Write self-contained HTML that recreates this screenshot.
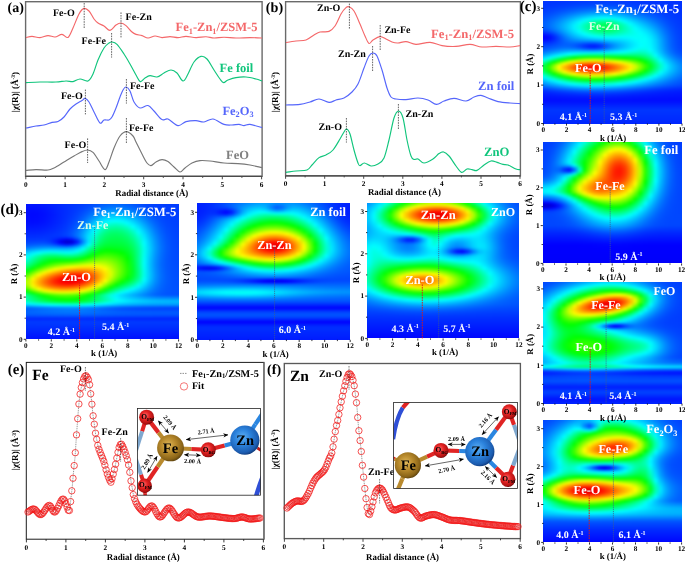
<!DOCTYPE html>
<html><head><meta charset="utf-8"><title>figure</title>
<style>
html,body{margin:0;padding:0;background:#fff}
#w{position:relative;width:685px;height:564px;overflow:hidden;background:#fff;font-family:"Liberation Serif",serif}
.hm{position:absolute;overflow:hidden}
.hm>div{position:absolute;filter:blur(0.8px)}
.hm i{display:block;height:2px;width:100%}
svg{position:absolute;left:0;top:0;will-change:transform}
svg text{font-family:"Liberation Serif",serif;text-rendering:geometricPrecision}
</style></head><body>
<div id="w">
<div class="hm" style="left:543px;top:1px;width:139px;height:123px"><div style="left:-4px;top:-4px;width:147px"><i style="background:linear-gradient(90deg,#0032ff,#0032ff,#0033ff,#0034ff,#0034ff,#0035ff,#0036ff,#0037ff,#0038ff,#0039ff,#003aff,#003aff,#003bff,#003bff,#003bff,#003aff,#0039ff,#0038ff,#0037ff,#0036ff,#0035ff,#0034ff,#0034ff,#0033ff,#0032ff,#0032ff,#0031ff,#0031ff,#0031ff,#0031ff)"></i><i style="background:linear-gradient(90deg,#0032ff,#0032ff,#0033ff,#0034ff,#0034ff,#0035ff,#0036ff,#0037ff,#0038ff,#0039ff,#003aff,#003aff,#003bff,#003bff,#003bff,#003aff,#0039ff,#0038ff,#0037ff,#0036ff,#0035ff,#0034ff,#0034ff,#0033ff,#0032ff,#0032ff,#0031ff,#0031ff,#0031ff,#0031ff)"></i><i style="background:linear-gradient(90deg,#0033ff,#0033ff,#0034ff,#0034ff,#0035ff,#0036ff,#0038ff,#0039ff,#003aff,#003bff,#003cff,#003dff,#003dff,#003dff,#003dff,#003cff,#003bff,#003aff,#0039ff,#0038ff,#0036ff,#0035ff,#0034ff,#0033ff,#0033ff,#0032ff,#0032ff,#0031ff,#0031ff,#0031ff)"></i><i style="background:linear-gradient(90deg,#0034ff,#0034ff,#0035ff,#0037ff,#0038ff,#003aff,#003cff,#003eff,#0040ff,#0042ff,#0043ff,#0045ff,#0045ff,#0046ff,#0045ff,#0044ff,#0042ff,#0040ff,#003eff,#003cff,#003aff,#0038ff,#0037ff,#0035ff,#0034ff,#0033ff,#0032ff,#0032ff,#0032ff,#0031ff)"></i><i style="background:linear-gradient(90deg,#0036ff,#0036ff,#0038ff,#003aff,#003dff,#003fff,#0042ff,#0046ff,#0049ff,#004cff,#004eff,#0050ff,#0051ff,#0052ff,#0051ff,#004fff,#004cff,#0049ff,#0046ff,#0042ff,#003fff,#003cff,#003aff,#0038ff,#0036ff,#0034ff,#0033ff,#0032ff,#0032ff,#0032ff)"></i><i style="background:linear-gradient(90deg,#0039ff,#0039ff,#003cff,#003fff,#0042ff,#0047ff,#004bff,#0050ff,#0055ff,#0059ff,#005dff,#0060ff,#0062ff,#0062ff,#0061ff,#005fff,#005bff,#0056ff,#0050ff,#004bff,#0047ff,#0042ff,#003eff,#003bff,#0038ff,#0036ff,#0034ff,#0033ff,#0032ff,#0032ff)"></i><i style="background:linear-gradient(90deg,#003cff,#003dff,#0040ff,#0045ff,#004aff,#0050ff,#0057ff,#005eff,#0065ff,#006bff,#0071ff,#0075ff,#0078ff,#0078ff,#0077ff,#0073ff,#006dff,#0066ff,#005eff,#0057ff,#0050ff,#004aff,#0045ff,#0040ff,#003bff,#0038ff,#0035ff,#0034ff,#0033ff,#0033ff)"></i><i style="background:linear-gradient(90deg,#0040ff,#0041ff,#0046ff,#004cff,#0054ff,#005cff,#0066ff,#006fff,#0079ff,#0082ff,#0089ff,#008fff,#0093ff,#0094ff,#0092ff,#008dff,#0085ff,#007bff,#0070ff,#0066ff,#005dff,#0054ff,#004cff,#0045ff,#003fff,#003bff,#0037ff,#0035ff,#0034ff,#0033ff)"></i><i style="background:linear-gradient(90deg,#0045ff,#0046ff,#004dff,#0055ff,#005fff,#006bff,#0077ff,#0084ff,#0090ff,#009cff,#00a6ff,#00aeff,#00b3ff,#00b5ff,#00b3ff,#00abff,#00a0ff,#0093ff,#0086ff,#0078ff,#006cff,#0060ff,#0056ff,#004dff,#0044ff,#003eff,#0039ff,#0036ff,#0034ff,#0034ff)"></i><i style="background:linear-gradient(90deg,#004bff,#004cff,#0054ff,#005fff,#006cff,#007aff,#008aff,#009bff,#00abff,#00baff,#00c7ff,#00d1ff,#00d7ff,#00daff,#00d7ff,#00cdff,#00c0ff,#00afff,#009eff,#008dff,#007dff,#006fff,#0061ff,#0055ff,#004bff,#0042ff,#003cff,#0037ff,#0035ff,#0035ff)"></i><i style="background:linear-gradient(90deg,#0050ff,#0051ff,#005cff,#006aff,#0079ff,#008bff,#009eff,#00b2ff,#00c6ff,#00d9ff,#00e9ff,#00f5ff,#00fdff,#00fffe,#00fcff,#00f1ff,#00e0ff,#00ccff,#00b7ff,#00a3ff,#0090ff,#007fff,#006eff,#005fff,#0052ff,#0046ff,#003eff,#0039ff,#0036ff,#0036ff)"></i><i style="background:linear-gradient(90deg,#0056ff,#0057ff,#0064ff,#0073ff,#0086ff,#009bff,#00b1ff,#00c9ff,#00e0ff,#00f6ff,#00ffee,#00ffd6,#00ffc7,#00ffc1,#00ffc8,#00ffde,#00fffe,#00e9ff,#00d1ff,#00baff,#00a4ff,#0090ff,#007dff,#006aff,#005aff,#004cff,#0041ff,#003bff,#0037ff,#0036ff)"></i><i style="background:linear-gradient(90deg,#005aff,#005cff,#006aff,#007cff,#0090ff,#00a8ff,#00c2ff,#00dcff,#00f7ff,#00ffe4,#00ffc0,#00ffa5,#00ff93,#00ff8c,#00ff94,#00ffac,#00ffcf,#00fff9,#00e9ff,#00cfff,#00b7ff,#00a1ff,#008cff,#0076ff,#0062ff,#0051ff,#0045ff,#003dff,#0038ff,#0037ff)"></i><i style="background:linear-gradient(90deg,#005dff,#005fff,#006eff,#0082ff,#0098ff,#00b2ff,#00cdff,#00eaff,#00fff2,#00ffc5,#00ff9f,#00ff81,#00ff6e,#00ff67,#00ff6f,#00ff87,#00ffac,#00ffd7,#00fcff,#00e2ff,#00caff,#00b2ff,#009bff,#0083ff,#006bff,#0057ff,#0048ff,#003fff,#0039ff,#0038ff)"></i><i style="background:linear-gradient(90deg,#005dff,#005fff,#006fff,#0083ff,#009bff,#00b6ff,#00d3ff,#00f1ff,#00ffe5,#00ffb6,#00ff8e,#00ff6f,#00ff5b,#00ff53,#00ff5b,#00ff73,#00ff97,#00ffc1,#00ffed,#00f1ff,#00d9ff,#00c2ff,#00a9ff,#008fff,#0074ff,#005dff,#004cff,#0041ff,#003aff,#0039ff)"></i><i style="background:linear-gradient(90deg,#0059ff,#005aff,#006aff,#007fff,#0099ff,#00b5ff,#00d2ff,#00f1ff,#00ffe5,#00ffb7,#00ff8f,#00ff70,#00ff5c,#00ff54,#00ff5a,#00ff71,#00ff92,#00ffb9,#00ffdf,#00fcff,#00e6ff,#00d0ff,#00b7ff,#009bff,#007eff,#0064ff,#0050ff,#0043ff,#003bff,#003aff)"></i><i style="background:linear-gradient(90deg,#004cff,#004eff,#005dff,#0074ff,#008fff,#00adff,#00ccff,#00eaff,#00fff2,#00ffc5,#00ff9e,#00ff80,#00ff6d,#00ff64,#00ff69,#00ff7d,#00ff9a,#00ffba,#00ffda,#00fff9,#00f1ff,#00ddff,#00c5ff,#00a7ff,#0087ff,#006aff,#0053ff,#0045ff,#003cff,#003bff)"></i><i style="background:linear-gradient(90deg,#0036ff,#0037ff,#0045ff,#005fff,#007fff,#00a0ff,#00c0ff,#00deff,#00faff,#00ffde,#00ffba,#00ff9d,#00ff8b,#00ff82,#00ff85,#00ff95,#00ffac,#00ffc5,#00ffdd,#00fff3,#00f9ff,#00e8ff,#00d1ff,#00b2ff,#008fff,#006fff,#0057ff,#0046ff,#003dff,#003cff)"></i><i style="background:linear-gradient(90deg,#001bff,#001bff,#0028ff,#0044ff,#006aff,#008fff,#00b1ff,#00ceff,#00e8ff,#00feff,#00ffdf,#00ffc5,#00ffb4,#00ffab,#00ffac,#00ffb8,#00ffc8,#00ffd8,#00ffe6,#00fff2,#00feff,#00f1ff,#00dbff,#00bcff,#0097ff,#0075ff,#005aff,#0048ff,#003eff,#003cff)"></i><i style="background:linear-gradient(90deg,#0005ff,#0005ff,#0010ff,#002eff,#0056ff,#007eff,#009fff,#00bbff,#00d2ff,#00e6ff,#00f7ff,#00fff5,#00ffe5,#00ffdc,#00ffdb,#00ffe1,#00ffea,#00fff1,#00fff4,#00fff6,#00fffb,#00f8ff,#00e4ff,#00c5ff,#009eff,#007aff,#005dff,#004aff,#003fff,#003dff)"></i><i style="background:linear-gradient(90deg,#0000ff,#0000ff,#0009ff,#0025ff,#004bff,#0070ff,#008eff,#00a6ff,#00b9ff,#00c9ff,#00d7ff,#00e2ff,#00ebff,#00f2ff,#00f5ff,#00f5ff,#00f5ff,#00f6ff,#00fbff,#00fffd,#00fffa,#00fdff,#00ebff,#00ccff,#00a4ff,#007eff,#005fff,#004bff,#003fff,#003eff)"></i><i style="background:linear-gradient(90deg,#000dff,#000cff,#0014ff,#002bff,#004aff,#0067ff,#007eff,#008fff,#009bff,#00a5ff,#00adff,#00b6ff,#00bfff,#00c9ff,#00d1ff,#00d7ff,#00ddff,#00e5ff,#00efff,#00faff,#00fffb,#00fffe,#00f0ff,#00d1ff,#00a9ff,#0081ff,#0061ff,#004cff,#0040ff,#003eff)"></i><i style="background:linear-gradient(90deg,#0022ff,#0022ff,#0028ff,#0039ff,#004eff,#0062ff,#006fff,#0077ff,#0078ff,#0077ff,#0077ff,#007cff,#0088ff,#0099ff,#00aaff,#00b9ff,#00c6ff,#00d4ff,#00e4ff,#00f4ff,#00fffe,#00fffc,#00f3ff,#00d4ff,#00acff,#0083ff,#0063ff,#004dff,#0040ff,#003fff)"></i><i style="background:linear-gradient(90deg,#0035ff,#0035ff,#003cff,#0047ff,#0054ff,#005fff,#0064ff,#0061ff,#0056ff,#0048ff,#003eff,#003eff,#004eff,#0068ff,#0086ff,#009fff,#00b5ff,#00c9ff,#00ddff,#00f0ff,#00feff,#00fffb,#00f5ff,#00d7ff,#00aeff,#0085ff,#0064ff,#004eff,#0041ff,#003fff)"></i><i style="background:linear-gradient(90deg,#0043ff,#0044ff,#004bff,#0054ff,#005dff,#0064ff,#0063ff,#0059ff,#0046ff,#0030ff,#001eff,#001cff,#002dff,#004eff,#0073ff,#0094ff,#00aeff,#00c5ff,#00dcff,#00f0ff,#00ffff,#00fff9,#00f7ff,#00d9ff,#00b0ff,#0087ff,#0065ff,#004fff,#0042ff,#0040ff)"></i><i style="background:linear-gradient(90deg,#0050ff,#0051ff,#0059ff,#0063ff,#006dff,#0073ff,#0074ff,#006bff,#005aff,#0044ff,#0033ff,#0030ff,#0040ff,#005eff,#0081ff,#009fff,#00b8ff,#00ceff,#00e3ff,#00f7ff,#00fff6,#00fff2,#00faff,#00dbff,#00b2ff,#0089ff,#0068ff,#0051ff,#0044ff,#0042ff)"></i><i style="background:linear-gradient(90deg,#005fff,#0060ff,#006cff,#0079ff,#0086ff,#0091ff,#0096ff,#0096ff,#008eff,#0082ff,#0078ff,#0077ff,#0082ff,#0096ff,#00adff,#00c2ff,#00d3ff,#00e4ff,#00f5ff,#00fff5,#00ffe4,#00ffe5,#00fffe,#00e0ff,#00b7ff,#008dff,#006cff,#0054ff,#0046ff,#0044ff)"></i><i style="background:linear-gradient(90deg,#0074ff,#0076ff,#0086ff,#0098ff,#00a9ff,#00b9ff,#00c6ff,#00cfff,#00d2ff,#00d1ff,#00d0ff,#00d1ff,#00d6ff,#00dfff,#00e9ff,#00f2ff,#00fbff,#00fff4,#00ffe1,#00ffd0,#00ffc7,#00ffce,#00ffed,#00e8ff,#00beff,#0094ff,#0072ff,#005aff,#004bff,#0049ff)"></i><i style="background:linear-gradient(90deg,#008fff,#0092ff,#00a8ff,#00bfff,#00d5ff,#00ebff,#00feff,#00ffe8,#00ffd5,#00ffc9,#00ffc2,#00ffbe,#00ffbc,#00ffba,#00ffb8,#00ffb7,#00ffb4,#00ffae,#00ffa5,#00ff9e,#00ff9f,#00ffaf,#00ffd4,#00f5ff,#00caff,#009fff,#007cff,#0062ff,#0052ff,#004fff)"></i><i style="background:linear-gradient(90deg,#00b1ff,#00b5ff,#00d0ff,#00edff,#00ffef,#00ffc3,#00ff9b,#00ff79,#00ff5f,#00ff4d,#00ff41,#00ff3d,#00ff3f,#00ff43,#00ff4a,#00ff52,#00ff59,#00ff5d,#00ff5f,#00ff63,#00ff6f,#00ff89,#00ffb5,#00fff5,#00d8ff,#00adff,#0089ff,#006dff,#005aff,#0057ff)"></i><i style="background:linear-gradient(90deg,#00d7ff,#00dcff,#00feff,#00ffc6,#00ff8d,#00ff58,#00ff29,#00ff01,#1fff00,#35ff00,#42ff00,#46ff00,#42ff00,#39ff00,#2bff00,#1bff00,#0bff00,#00ff03,#00ff11,#00ff21,#00ff39,#00ff5d,#00ff91,#00ffd5,#00eaff,#00bdff,#0097ff,#007aff,#0065ff,#0061ff)"></i><i style="background:linear-gradient(90deg,#00fffc,#00fff3,#00ffad,#00ff67,#00ff22,#1eff00,#57ff00,#88ff00,#aeff00,#c8ff00,#d7ff00,#daff00,#d3ff00,#c4ff00,#afff00,#96ff00,#7aff00,#5fff00,#43ff00,#25ff00,#00ff00,#00ff2f,#00ff6b,#00ffb4,#00fcff,#00ceff,#00a7ff,#0087ff,#0070ff,#006cff)"></i><i style="background:linear-gradient(90deg,#00ffb7,#00ffac,#00ff59,#00ff05,#4eff00,#9bff00,#e1ff00,#ffee00,#ffd200,#ffbf00,#ffb500,#ffb300,#ffba00,#ffc700,#ffd900,#fff000,#f0ff00,#c5ff00,#9aff00,#6cff00,#39ff00,#00ff02,#00ff46,#00ff95,#00ffe7,#00deff,#00b5ff,#0094ff,#007aff,#0075ff)"></i><i style="background:linear-gradient(90deg,#00ff7b,#00ff6e,#00ff0f,#53ff00,#b3ff00,#fff600,#ffc500,#ff9b00,#ff7900,#ff6300,#ff5700,#ff5700,#ff5f00,#ff7100,#ff8900,#ffa700,#ffc800,#ffea00,#e6ff00,#a9ff00,#68ff00,#22ff00,#00ff2a,#00ff7d,#00ffd1,#00ebff,#00c1ff,#009eff,#0083ff,#007eff)"></i><i style="background:linear-gradient(90deg,#00ff53,#00ff45,#23ff00,#8eff00,#f8ff00,#ffc700,#ff9000,#ff6200,#ff3d00,#ff2400,#ff1700,#ff1700,#ff2200,#ff3600,#ff5300,#ff7600,#ff9d00,#ffc600,#fff100,#ceff00,#83ff00,#35ff00,#00ff1c,#00ff71,#00ffc6,#00f2ff,#00c8ff,#00a5ff,#0088ff,#0083ff)"></i><i style="background:linear-gradient(90deg,#00ff48,#00ff3b,#2fff00,#9cff00,#fffa00,#ffbc00,#ff8500,#ff5500,#ff3000,#ff1700,#ff0a00,#ff0b00,#ff1500,#ff2a00,#ff4800,#ff6c00,#ff9500,#ffc100,#ffee00,#ceff00,#7fff00,#2fff00,#00ff24,#00ff77,#00ffca,#00f1ff,#00c8ff,#00a6ff,#008aff,#0084ff)"></i><i style="background:linear-gradient(90deg,#00ff59,#00ff4c,#19ff00,#81ff00,#e7ff00,#ffd400,#ff9f00,#ff7300,#ff5000,#ff3800,#ff2d00,#ff2d00,#ff3700,#ff4a00,#ff6600,#ff8800,#ffae00,#ffd800,#f7ff00,#acff00,#5fff00,#11ff00,#00ff3d,#00ff8d,#00ffdb,#00eaff,#00c3ff,#00a3ff,#0087ff,#0082ff)"></i><i style="background:linear-gradient(90deg,#00ff7f,#00ff73,#00ff17,#47ff00,#a2ff00,#f8ff00,#ffd500,#ffae00,#ff9000,#ff7b00,#ff7100,#ff7000,#ff7900,#ff8900,#ffa100,#ffbe00,#ffdf00,#f6ff00,#b5ff00,#71ff00,#2bff00,#00ff1d,#00ff66,#00ffaf,#00fff6,#00ddff,#00baff,#009cff,#0082ff,#007eff)"></i><i style="background:linear-gradient(90deg,#00ffb2,#00ffa8,#00ff56,#00ff05,#4aff00,#93ff00,#d4ff00,#fff800,#ffdf00,#ffcd00,#ffc400,#ffc300,#ffca00,#ffd700,#ffe900,#fcff00,#ceff00,#9aff00,#62ff00,#27ff00,#00ff16,#00ff56,#00ff97,#00ffd9,#00f0ff,#00cdff,#00adff,#0092ff,#007bff,#0077ff)"></i><i style="background:linear-gradient(90deg,#00ffea,#00ffe1,#00ff9b,#00ff55,#00ff12,#2cff00,#62ff00,#8fff00,#b3ff00,#cbff00,#d8ff00,#daff00,#d2ff00,#c2ff00,#aaff00,#8bff00,#65ff00,#3bff00,#0cff00,#00ff27,#00ff5d,#00ff95,#00ffcf,#00faff,#00d8ff,#00b9ff,#009eff,#0086ff,#0072ff,#006eff)"></i><i style="background:linear-gradient(90deg,#00e9ff,#00eeff,#00ffdf,#00ffa4,#00ff6a,#00ff35,#00ff07,#20ff00,#3eff00,#53ff00,#5eff00,#61ff00,#5bff00,#4fff00,#3cff00,#22ff00,#03ff00,#00ff21,#00ff49,#00ff75,#00ffa4,#00ffd5,#00faff,#00dcff,#00bfff,#00a5ff,#008dff,#0079ff,#0068ff,#0065ff)"></i><i style="background:linear-gradient(90deg,#00c9ff,#00cdff,#00ebff,#00ffed,#00ffbc,#00ff8e,#00ff66,#00ff44,#00ff29,#00ff16,#00ff0c,#00ff09,#00ff0d,#00ff18,#00ff28,#00ff3d,#00ff58,#00ff77,#00ff9a,#00ffc1,#00ffea,#00f2ff,#00d8ff,#00bfff,#00a6ff,#0090ff,#007dff,#006cff,#005fff,#005cff)"></i><i style="background:linear-gradient(90deg,#00aaff,#00adff,#00c7ff,#00e0ff,#00faff,#00ffe0,#00ffbd,#00ff9f,#00ff87,#00ff76,#00ff6c,#00ff69,#00ff6d,#00ff76,#00ff84,#00ff97,#00ffae,#00ffca,#00ffe9,#00f8ff,#00e3ff,#00cdff,#00b7ff,#00a2ff,#008fff,#007dff,#006dff,#0060ff,#0056ff,#0054ff)"></i><i style="background:linear-gradient(90deg,#008fff,#0091ff,#00a5ff,#00baff,#00cfff,#00e3ff,#00f5ff,#00fff5,#00ffe0,#00ffd1,#00ffc8,#00ffc5,#00ffc8,#00ffd0,#00ffdc,#00ffed,#00feff,#00efff,#00e0ff,#00ceff,#00bdff,#00abff,#0099ff,#0088ff,#0079ff,#006bff,#005fff,#0056ff,#004eff,#004dff)"></i><i style="background:linear-gradient(90deg,#0071ff,#0073ff,#0083ff,#0093ff,#00a4ff,#00b4ff,#00c3ff,#00d0ff,#00daff,#00e2ff,#00e7ff,#00e8ff,#00e6ff,#00e3ff,#00dcff,#00d4ff,#00caff,#00beff,#00b1ff,#00a3ff,#0095ff,#0087ff,#007aff,#006dff,#0061ff,#0057ff,#004fff,#0048ff,#0043ff,#0042ff)"></i><i style="background:linear-gradient(90deg,#0053ff,#0054ff,#005fff,#006bff,#0078ff,#0084ff,#008fff,#0099ff,#00a2ff,#00a8ff,#00acff,#00adff,#00abff,#00a8ff,#00a3ff,#009dff,#0095ff,#008cff,#0082ff,#0077ff,#006cff,#0062ff,#0058ff,#004fff,#0047ff,#0040ff,#003bff,#0036ff,#0033ff,#0032ff)"></i><i style="background:linear-gradient(90deg,#0038ff,#0039ff,#0041ff,#0049ff,#0052ff,#005aff,#0063ff,#006aff,#0070ff,#0075ff,#0077ff,#0078ff,#0077ff,#0075ff,#0071ff,#006cff,#0067ff,#0060ff,#0059ff,#0051ff,#004aff,#0043ff,#003cff,#0036ff,#0031ff,#002dff,#0029ff,#0026ff,#0024ff,#0024ff)"></i><i style="background:linear-gradient(90deg,#0027ff,#0028ff,#002cff,#0032ff,#0037ff,#003dff,#0042ff,#0047ff,#004cff,#004fff,#0051ff,#0051ff,#0051ff,#004fff,#004cff,#0049ff,#0045ff,#0041ff,#003cff,#0037ff,#0032ff,#002eff,#002aff,#0026ff,#0023ff,#0020ff,#001eff,#001dff,#001bff,#001bff)"></i><i style="background:linear-gradient(90deg,#001dff,#001eff,#0020ff,#0023ff,#0027ff,#002aff,#002dff,#0030ff,#0033ff,#0035ff,#0036ff,#0036ff,#0036ff,#0035ff,#0033ff,#0031ff,#002fff,#002cff,#0029ff,#0026ff,#0024ff,#0021ff,#001fff,#001dff,#001bff,#0019ff,#0018ff,#0017ff,#0017ff,#0017ff)"></i><i style="background:linear-gradient(90deg,#0016ff,#0016ff,#0018ff,#0019ff,#001bff,#001dff,#001fff,#0020ff,#0022ff,#0023ff,#0024ff,#0024ff,#0024ff,#0023ff,#0022ff,#0021ff,#0020ff,#001eff,#001cff,#001bff,#0019ff,#0018ff,#0017ff,#0016ff,#0015ff,#0014ff,#0014ff,#0013ff,#0013ff,#0013ff)"></i><i style="background:linear-gradient(90deg,#0011ff,#0011ff,#0011ff,#0012ff,#0013ff,#0014ff,#0015ff,#0016ff,#0016ff,#0017ff,#0017ff,#0018ff,#0017ff,#0017ff,#0017ff,#0016ff,#0015ff,#0015ff,#0014ff,#0013ff,#0012ff,#0012ff,#0011ff,#0010ff,#0010ff,#0010ff,#000fff,#000fff,#000fff,#000fff)"></i><i style="background:linear-gradient(90deg,#000cff,#000cff,#000dff,#000dff,#000dff,#000eff,#000eff,#000fff,#000fff,#000fff,#000fff,#000fff,#000fff,#000fff,#000fff,#000fff,#000eff,#000eff,#000eff,#000dff,#000dff,#000dff,#000cff,#000cff,#000cff,#000cff,#000cff,#000cff,#000cff,#000cff)"></i><i style="background:linear-gradient(90deg,#0012ff,#0012ff,#0012ff,#0012ff,#0012ff,#0013ff,#0013ff,#0013ff,#0013ff,#0013ff,#0013ff,#0013ff,#0013ff,#0013ff,#0013ff,#0013ff,#0013ff,#0013ff,#0013ff,#0012ff,#0012ff,#0012ff,#0012ff,#0012ff,#0012ff,#0012ff,#0012ff,#0012ff,#0012ff,#0012ff)"></i><i style="background:linear-gradient(90deg,#001bff,#001bff,#001bff,#001bff,#001bff,#001bff,#001bff,#001bff,#001bff,#001bff,#001bff,#001bff,#001bff,#001bff,#001bff,#001bff,#001bff,#001bff,#001bff,#001bff,#001bff,#001bff,#001bff,#001bff,#001bff,#001bff,#001bff,#001bff,#001bff,#001bff)"></i><i style="background:linear-gradient(90deg,#0024ff,#0024ff,#0024ff,#0024ff,#0024ff,#0024ff,#0024ff,#0024ff,#0024ff,#0024ff,#0024ff,#0024ff,#0024ff,#0024ff,#0024ff,#0024ff,#0024ff,#0024ff,#0024ff,#0024ff,#0024ff,#0024ff,#0024ff,#0024ff,#0024ff,#0024ff,#0024ff,#0024ff,#0024ff,#0024ff)"></i><i style="background:linear-gradient(90deg,#002dff,#002dff,#002dff,#002dff,#002dff,#002dff,#002dff,#002dff,#002dff,#002dff,#002dff,#002dff,#002dff,#002dff,#002dff,#002dff,#002dff,#002dff,#002dff,#002dff,#002dff,#002dff,#002dff,#002dff,#002dff,#002dff,#002dff,#002dff,#002dff,#002dff)"></i><i style="background:linear-gradient(90deg,#0036ff,#0036ff,#0036ff,#0036ff,#0036ff,#0036ff,#0036ff,#0036ff,#0036ff,#0036ff,#0036ff,#0036ff,#0036ff,#0036ff,#0036ff,#0036ff,#0036ff,#0036ff,#0036ff,#0036ff,#0036ff,#0036ff,#0036ff,#0036ff,#0036ff,#0036ff,#0036ff,#0036ff,#0036ff,#0036ff)"></i><i style="background:linear-gradient(90deg,#0034ff,#0034ff,#0034ff,#0034ff,#0034ff,#0034ff,#0034ff,#0034ff,#0034ff,#0034ff,#0034ff,#0034ff,#0034ff,#0034ff,#0034ff,#0034ff,#0034ff,#0034ff,#0034ff,#0034ff,#0034ff,#0034ff,#0034ff,#0034ff,#0034ff,#0034ff,#0034ff,#0034ff,#0034ff,#0034ff)"></i><i style="background:linear-gradient(90deg,#0031ff,#0031ff,#0031ff,#0031ff,#0031ff,#0031ff,#0031ff,#0031ff,#0031ff,#0031ff,#0031ff,#0031ff,#0031ff,#0031ff,#0031ff,#0031ff,#0031ff,#0031ff,#0031ff,#0031ff,#0031ff,#0031ff,#0031ff,#0031ff,#0031ff,#0031ff,#0031ff,#0031ff,#0031ff,#0031ff)"></i><i style="background:linear-gradient(90deg,#002fff,#002fff,#002fff,#002fff,#002fff,#002fff,#002fff,#002fff,#002fff,#002fff,#002fff,#002fff,#002fff,#002fff,#002fff,#002fff,#002fff,#002fff,#002fff,#002fff,#002fff,#002fff,#002fff,#002fff,#002fff,#002fff,#002fff,#002fff,#002fff,#002fff)"></i><i style="background:linear-gradient(90deg,#002dff,#002dff,#002dff,#002dff,#002dff,#002dff,#002dff,#002dff,#002dff,#002dff,#002dff,#002dff,#002dff,#002dff,#002dff,#002dff,#002dff,#002dff,#002dff,#002dff,#002dff,#002dff,#002dff,#002dff,#002dff,#002dff,#002dff,#002dff,#002dff,#002dff)"></i><i style="background:linear-gradient(90deg,#002aff,#002aff,#002aff,#002aff,#002aff,#002aff,#002aff,#002aff,#002aff,#002aff,#002aff,#002aff,#002aff,#002aff,#002aff,#002aff,#002aff,#002aff,#002aff,#002aff,#002aff,#002aff,#002aff,#002aff,#002aff,#002aff,#002aff,#002aff,#002aff,#002aff)"></i><i style="background:linear-gradient(90deg,#0028ff,#0028ff,#0028ff,#0028ff,#0028ff,#0028ff,#0028ff,#0028ff,#0028ff,#0028ff,#0028ff,#0028ff,#0028ff,#0028ff,#0028ff,#0028ff,#0028ff,#0028ff,#0028ff,#0028ff,#0028ff,#0028ff,#0028ff,#0028ff,#0028ff,#0028ff,#0028ff,#0028ff,#0028ff,#0028ff)"></i><i style="background:linear-gradient(90deg,#0026ff,#0026ff,#0026ff,#0026ff,#0026ff,#0026ff,#0026ff,#0026ff,#0026ff,#0026ff,#0026ff,#0026ff,#0026ff,#0026ff,#0026ff,#0026ff,#0026ff,#0026ff,#0026ff,#0026ff,#0026ff,#0026ff,#0026ff,#0026ff,#0026ff,#0026ff,#0026ff,#0026ff,#0026ff,#0026ff)"></i><i style="background:linear-gradient(90deg,#0026ff,#0026ff,#0026ff,#0026ff,#0026ff,#0026ff,#0026ff,#0026ff,#0026ff,#0026ff,#0026ff,#0026ff,#0026ff,#0026ff,#0026ff,#0026ff,#0026ff,#0026ff,#0026ff,#0026ff,#0026ff,#0026ff,#0026ff,#0026ff,#0026ff,#0026ff,#0026ff,#0026ff,#0026ff,#0026ff)"></i><i style="background:linear-gradient(90deg,#0026ff,#0026ff,#0026ff,#0026ff,#0026ff,#0026ff,#0026ff,#0026ff,#0026ff,#0026ff,#0026ff,#0026ff,#0026ff,#0026ff,#0026ff,#0026ff,#0026ff,#0026ff,#0026ff,#0026ff,#0026ff,#0026ff,#0026ff,#0026ff,#0026ff,#0026ff,#0026ff,#0026ff,#0026ff,#0026ff)"></i></div></div>
<div class="hm" style="left:543px;top:142px;width:139px;height:121px"><div style="left:-4px;top:-4px;width:147px"><i style="background:linear-gradient(90deg,#003dff,#003dff,#0040ff,#0048ff,#0056ff,#006eff,#008fff,#00b7ff,#00e2ff,#00ffe8,#00ffa6,#00ff69,#00ff31,#00ff01,#25ff00,#39ff00,#35ff00,#16ff00,#00ff22,#00ff6d,#00ffc4,#00ebff,#00b7ff,#0089ff,#0066ff,#0050ff,#0043ff,#003eff,#003cff,#003cff)"></i><i style="background:linear-gradient(90deg,#003dff,#003dff,#0040ff,#0048ff,#0056ff,#006eff,#008fff,#00b7ff,#00e2ff,#00ffe8,#00ffa6,#00ff69,#00ff31,#00ff01,#25ff00,#39ff00,#35ff00,#16ff00,#00ff22,#00ff6d,#00ffc4,#00ebff,#00b7ff,#0089ff,#0066ff,#0050ff,#0043ff,#003eff,#003cff,#003cff)"></i><i style="background:linear-gradient(90deg,#003dff,#003dff,#0041ff,#0049ff,#0059ff,#0073ff,#0096ff,#00bfff,#00ebff,#00ffd8,#00ff95,#00ff57,#00ff1d,#15ff00,#3dff00,#53ff00,#50ff00,#31ff00,#00ff09,#00ff56,#00ffb0,#00f6ff,#00bfff,#008fff,#006aff,#0052ff,#0044ff,#003eff,#003cff,#003cff)"></i><i style="background:linear-gradient(90deg,#003dff,#003eff,#0042ff,#004cff,#005fff,#007cff,#00a2ff,#00ceff,#00fcff,#00ffb9,#00ff74,#00ff33,#09ff00,#41ff00,#6eff00,#88ff00,#87ff00,#67ff00,#2aff00,#00ff28,#00ff88,#00ffec,#00d0ff,#009cff,#0073ff,#0056ff,#0047ff,#003fff,#003dff,#003dff)"></i><i style="background:linear-gradient(90deg,#003eff,#003fff,#0044ff,#004fff,#0065ff,#0085ff,#00aeff,#00ddff,#00ffe8,#00ff9c,#00ff55,#00ff13,#2eff00,#6bff00,#9eff00,#bdff00,#beff00,#9dff00,#5dff00,#05ff00,#00ff60,#00ffca,#00e0ff,#00a8ff,#007bff,#005bff,#0049ff,#0040ff,#003dff,#003dff)"></i><i style="background:linear-gradient(90deg,#003fff,#0040ff,#0046ff,#0053ff,#006bff,#008eff,#00bbff,#00ecff,#00ffcd,#00ff80,#00ff39,#0cff00,#51ff00,#94ff00,#ceff00,#f2ff00,#f5ff00,#d3ff00,#8eff00,#32ff00,#00ff39,#00ffa9,#00f0ff,#00b5ff,#0084ff,#0061ff,#004cff,#0042ff,#003eff,#003eff)"></i><i style="background:linear-gradient(90deg,#0040ff,#0040ff,#0048ff,#0057ff,#0071ff,#0097ff,#00c6ff,#00f9ff,#00ffb5,#00ff67,#00ff1f,#28ff00,#71ff00,#bbff00,#fcff00,#ffe800,#ffe400,#fffa00,#bfff00,#5cff00,#00ff14,#00ff8a,#00fffd,#00c1ff,#008cff,#0066ff,#004eff,#0043ff,#003fff,#003eff)"></i><i style="background:linear-gradient(90deg,#0040ff,#0041ff,#0049ff,#005aff,#0077ff,#00a0ff,#00d1ff,#00fff4,#00ff9f,#00ff51,#00ff08,#42ff00,#90ff00,#e1ff00,#ffe600,#ffc900,#ffc500,#ffdb00,#eeff00,#85ff00,#0fff00,#00ff6c,#00ffe4,#00cdff,#0095ff,#006bff,#0051ff,#0044ff,#003fff,#003fff)"></i><i style="background:linear-gradient(90deg,#0041ff,#0042ff,#004bff,#005eff,#007dff,#00a9ff,#00dcff,#00ffe0,#00ff8b,#00ff3d,#0dff00,#59ff00,#adff00,#fffc00,#ffcc00,#ffac00,#ffa600,#ffbd00,#ffee00,#acff00,#30ff00,#00ff50,#00ffcd,#00d8ff,#009dff,#0070ff,#0054ff,#0046ff,#0040ff,#003fff)"></i><i style="background:linear-gradient(90deg,#0042ff,#0043ff,#004dff,#0062ff,#0083ff,#00b0ff,#00e5ff,#00ffcf,#00ff79,#00ff2b,#20ff00,#6fff00,#c7ff00,#ffe800,#ffb300,#ff9000,#ff8800,#ffa100,#ffd500,#d0ff00,#4eff00,#00ff37,#00ffb8,#00e2ff,#00a4ff,#0075ff,#0057ff,#0047ff,#0040ff,#0040ff)"></i><i style="background:linear-gradient(90deg,#0043ff,#0044ff,#004fff,#0065ff,#0088ff,#00b8ff,#00eeff,#00ffbf,#00ff69,#00ff1c,#30ff00,#82ff00,#dfff00,#ffd500,#ff9d00,#ff7600,#ff6d00,#ff8700,#ffbe00,#f1ff00,#69ff00,#00ff20,#00ffa5,#00ebff,#00abff,#007aff,#0059ff,#0048ff,#0041ff,#0040ff)"></i><i style="background:linear-gradient(90deg,#0044ff,#0045ff,#0051ff,#0068ff,#008dff,#00bdff,#00f3ff,#00ffb4,#00ff5d,#00ff0e,#3fff00,#93ff00,#f5ff00,#ffc500,#ff8800,#ff5e00,#ff5400,#ff6f00,#ffa900,#fff600,#81ff00,#00ff0c,#00ff94,#00f4ff,#00b2ff,#007eff,#005cff,#0049ff,#0042ff,#0041ff)"></i><i style="background:linear-gradient(90deg,#0044ff,#0046ff,#0053ff,#006bff,#008eff,#00baff,#00eeff,#00ffba,#00ff59,#00ff03,#4cff00,#a2ff00,#fff900,#ffb600,#ff7600,#ff4a00,#ff3f00,#ff5b00,#ff9700,#ffe700,#95ff00,#05ff00,#00ff86,#00fbff,#00b7ff,#0082ff,#005eff,#004aff,#0042ff,#0042ff)"></i><i style="background:linear-gradient(90deg,#0045ff,#0047ff,#0054ff,#006bff,#0088ff,#00a2ff,#00c6ff,#00fff1,#00ff6c,#01ff00,#58ff00,#b1ff00,#ffef00,#ffa900,#ff6700,#ff3900,#ff2e00,#ff4a00,#ff8900,#ffdb00,#a6ff00,#12ff00,#00ff7a,#00fffd,#00bbff,#0085ff,#0060ff,#004bff,#0043ff,#0042ff)"></i><i style="background:linear-gradient(90deg,#0046ff,#0048ff,#0055ff,#006aff,#0076ff,#006aff,#006dff,#00bdff,#00ffa0,#00ff03,#63ff00,#c0ff00,#ffe500,#ff9e00,#ff5b00,#ff2c00,#ff2100,#ff3e00,#ff7e00,#ffd200,#b2ff00,#1cff00,#00ff71,#00fff6,#00bfff,#0087ff,#0061ff,#004cff,#0043ff,#0043ff)"></i><i style="background:linear-gradient(90deg,#0047ff,#0049ff,#0057ff,#0068ff,#0065ff,#0033ff,#0015ff,#0073ff,#00ffd2,#00ff04,#71ff00,#d1ff00,#ffdb00,#ff9400,#ff5200,#ff2300,#ff1800,#ff3700,#ff7700,#ffcd00,#baff00,#23ff00,#00ff6c,#00fff1,#00c1ff,#0089ff,#0062ff,#004dff,#0044ff,#0043ff)"></i><i style="background:linear-gradient(90deg,#0049ff,#004bff,#0059ff,#006bff,#0069ff,#0037ff,#001aff,#007aff,#00ffc3,#0eff00,#84ff00,#e5ff00,#ffd000,#ff8c00,#ff4b00,#ff1f00,#ff1500,#ff3400,#ff7500,#ffcb00,#bdff00,#26ff00,#00ff69,#00ffee,#00c3ff,#008aff,#0063ff,#004dff,#0044ff,#0043ff)"></i><i style="background:linear-gradient(90deg,#004cff,#004eff,#005dff,#0073ff,#0082ff,#0079ff,#007eff,#00d3ff,#00ff70,#35ff00,#9fff00,#feff00,#ffc300,#ff8300,#ff4700,#ff1e00,#ff1600,#ff3500,#ff7700,#ffcc00,#bcff00,#26ff00,#00ff69,#00ffee,#00c3ff,#008aff,#0063ff,#004eff,#0044ff,#0044ff)"></i><i style="background:linear-gradient(90deg,#0051ff,#0053ff,#0063ff,#007eff,#009fff,#00bfff,#00e9ff,#00ffa8,#00ff14,#64ff00,#c2ff00,#ffed00,#ffb400,#ff7a00,#ff4400,#ff1f00,#ff1a00,#ff3b00,#ff7b00,#ffd000,#b7ff00,#22ff00,#00ff6b,#00ffef,#00c2ff,#008aff,#0063ff,#004eff,#0044ff,#0044ff)"></i><i style="background:linear-gradient(90deg,#0059ff,#005bff,#006cff,#0089ff,#00b4ff,#00e9ff,#00ffbc,#00ff47,#2dff00,#91ff00,#eaff00,#ffd700,#ffa300,#ff7000,#ff4200,#ff2400,#ff2200,#ff4400,#ff8400,#ffd600,#afff00,#1cff00,#00ff70,#00fff3,#00c1ff,#0089ff,#0063ff,#004eff,#0045ff,#0044ff)"></i><i style="background:linear-gradient(90deg,#0067ff,#0069ff,#007aff,#0098ff,#00c6ff,#00fffb,#00ff88,#00ff12,#5dff00,#beff00,#fff100,#ffbe00,#ff8f00,#ff6600,#ff4200,#ff2b00,#ff2e00,#ff5000,#ff8f00,#ffdf00,#a3ff00,#13ff00,#00ff77,#00fff9,#00beff,#0087ff,#0062ff,#004eff,#0045ff,#0044ff)"></i><i style="background:linear-gradient(90deg,#007bff,#007dff,#008eff,#00abff,#00d9ff,#00ffd8,#00ff62,#18ff00,#89ff00,#edff00,#ffd500,#ffa400,#ff7c00,#ff5c00,#ff4300,#ff3500,#ff3d00,#ff6000,#ff9d00,#ffeb00,#94ff00,#07ff00,#00ff80,#00feff,#00bbff,#0085ff,#0061ff,#004dff,#0045ff,#0044ff)"></i><i style="background:linear-gradient(90deg,#0094ff,#0097ff,#00a7ff,#00c4ff,#00f0ff,#00ffb3,#00ff3c,#3fff00,#b3ff00,#fff000,#ffbb00,#ff8c00,#ff6a00,#ff5600,#ff4700,#ff4200,#ff4e00,#ff7200,#ffad00,#fff800,#82ff00,#00ff07,#00ff8c,#00f9ff,#00b7ff,#0083ff,#0060ff,#004dff,#0045ff,#0044ff)"></i><i style="background:linear-gradient(90deg,#00b2ff,#00b5ff,#00c4ff,#00deff,#00ffee,#00ff8d,#00ff18,#63ff00,#d7ff00,#ffda00,#ffa600,#ff7900,#ff5f00,#ff5400,#ff5000,#ff5200,#ff6200,#ff8700,#ffc000,#f1ff00,#6dff00,#00ff17,#00ff99,#00f3ff,#00b2ff,#0080ff,#005eff,#004dff,#0045ff,#0045ff)"></i><i style="background:linear-gradient(90deg,#00cfff,#00d1ff,#00dfff,#00f8ff,#00ffc9,#00ff6d,#04ff00,#7cff00,#efff00,#ffcc00,#ff9900,#ff7000,#ff5b00,#ff5800,#ff5d00,#ff6600,#ff7900,#ff9d00,#ffd400,#d4ff00,#56ff00,#00ff2a,#00ffa9,#00ebff,#00adff,#007cff,#005dff,#004cff,#0045ff,#0045ff)"></i><i style="background:linear-gradient(90deg,#00e5ff,#00e8ff,#00f4ff,#00ffec,#00ffb1,#00ff5b,#10ff00,#84ff00,#f5ff00,#ffca00,#ff9900,#ff7300,#ff6200,#ff6500,#ff6f00,#ff7d00,#ff9200,#ffb600,#ffea00,#b6ff00,#3dff00,#00ff3f,#00ffba,#00e3ff,#00a7ff,#0079ff,#005bff,#004bff,#0045ff,#0045ff)"></i><i style="background:linear-gradient(90deg,#00f0ff,#00f2ff,#00fdff,#00ffe2,#00ffac,#00ff5d,#07ff00,#76ff00,#e2ff00,#ffd700,#ffa800,#ff8300,#ff7500,#ff7b00,#ff8800,#ff9700,#ffad00,#ffd000,#fcff00,#95ff00,#22ff00,#00ff55,#00ffcc,#00daff,#00a1ff,#0075ff,#0059ff,#004bff,#0045ff,#0045ff)"></i><i style="background:linear-gradient(90deg,#00e4ff,#00e6ff,#00f0ff,#00fffb,#00ffc9,#00ff7f,#00ff20,#4aff00,#b2ff00,#fff500,#ffc700,#ffa400,#ff9600,#ff9a00,#ffa700,#ffb600,#ffca00,#ffea00,#d4ff00,#73ff00,#06ff00,#00ff6d,#00ffe0,#00d1ff,#009aff,#0071ff,#0057ff,#004aff,#0045ff,#0045ff)"></i><i style="background:linear-gradient(90deg,#00b7ff,#00b9ff,#00c2ff,#00d3ff,#00f1ff,#00ffce,#00ff6f,#00ff06,#63ff00,#c2ff00,#fff500,#ffd100,#ffc100,#ffc200,#ffca00,#ffd600,#ffe800,#f3ff00,#abff00,#50ff00,#00ff18,#00ff87,#00fff6,#00c7ff,#0093ff,#006dff,#0055ff,#004aff,#0045ff,#0045ff)"></i><i style="background:linear-gradient(90deg,#0083ff,#0084ff,#008dff,#009fff,#00bcff,#00e8ff,#00ffc8,#00ff5f,#09ff00,#68ff00,#b7ff00,#f6ff00,#fff100,#ffed00,#fff000,#fff800,#f1ff00,#c4ff00,#81ff00,#2bff00,#00ff38,#00ffa2,#00f7ff,#00bcff,#008cff,#0068ff,#0053ff,#0049ff,#0045ff,#0045ff)"></i><i style="background:linear-gradient(90deg,#005aff,#005bff,#0063ff,#0074ff,#0091ff,#00bcff,#00f2ff,#00ffaf,#00ff49,#13ff00,#62ff00,#a0ff00,#c7ff00,#d6ff00,#d9ff00,#d3ff00,#beff00,#96ff00,#57ff00,#06ff00,#00ff58,#00ffbe,#00e9ff,#00b2ff,#0084ff,#0064ff,#0051ff,#0049ff,#0045ff,#0045ff)"></i><i style="background:linear-gradient(90deg,#0032ff,#0032ff,#0039ff,#004cff,#006bff,#0097ff,#00ccff,#00fff2,#00ff91,#00ff38,#14ff00,#52ff00,#7cff00,#93ff00,#9dff00,#9dff00,#8cff00,#67ff00,#2dff00,#00ff20,#00ff7a,#00ffda,#00dbff,#00a7ff,#007dff,#0060ff,#0050ff,#0048ff,#0045ff,#0045ff)"></i><i style="background:linear-gradient(90deg,#0000f9,#0000f8,#0000fe,#0016ff,#003dff,#0070ff,#00a9ff,#00e4ff,#00ffce,#00ff79,#00ff2f,#0dff00,#39ff00,#55ff00,#65ff00,#69ff00,#5bff00,#3aff00,#03ff00,#00ff46,#00ff9c,#00fff8,#00cdff,#009dff,#0076ff,#005dff,#004eff,#0048ff,#0046ff,#0045ff)"></i><i style="background:linear-gradient(90deg,#0000cf,#0000cd,#0000d1,#0000eb,#0018ff,#0050ff,#008cff,#00c7ff,#00fdff,#00ffb0,#00ff6a,#00ff2f,#00ff02,#1dff00,#31ff00,#37ff00,#2cff00,#0cff00,#00ff28,#00ff6d,#00ffbe,#00f2ff,#00bfff,#0092ff,#0070ff,#0059ff,#004dff,#0047ff,#0046ff,#0046ff)"></i><i style="background:linear-gradient(90deg,#0000db,#0000da,#0000dd,#0000f3,#001aff,#004bff,#007fff,#00b3ff,#00e5ff,#00ffdf,#00ff9c,#00ff63,#00ff36,#00ff15,#00ff00,#07ff00,#00ff03,#00ff21,#00ff52,#00ff94,#00ffe1,#00e0ff,#00b1ff,#0088ff,#006aff,#0056ff,#004cff,#0047ff,#0046ff,#0046ff)"></i><i style="background:linear-gradient(90deg,#0010ff,#000fff,#0011ff,#001fff,#0037ff,#0057ff,#007eff,#00a7ff,#00d1ff,#00faff,#00ffc9,#00ff92,#00ff66,#00ff44,#00ff2f,#00ff27,#00ff30,#00ff4d,#00ff7c,#00ffbb,#00fcff,#00cfff,#00a4ff,#007fff,#0064ff,#0053ff,#004bff,#0047ff,#0046ff,#0046ff)"></i><i style="background:linear-gradient(90deg,#0037ff,#0037ff,#0038ff,#003fff,#004cff,#0060ff,#007bff,#009cff,#00c0ff,#00e5ff,#00fff1,#00ffbd,#00ff92,#00ff71,#00ff5c,#00ff54,#00ff5e,#00ff79,#00ffa6,#00ffe1,#00e8ff,#00beff,#0097ff,#0076ff,#005fff,#0051ff,#004aff,#0047ff,#0046ff,#0046ff)"></i><i style="background:linear-gradient(90deg,#0044ff,#0044ff,#0045ff,#0049ff,#0051ff,#005fff,#0074ff,#008fff,#00afff,#00d1ff,#00f1ff,#00ffe5,#00ffbb,#00ff9c,#00ff88,#00ff81,#00ff8b,#00ffa5,#00ffd0,#00faff,#00d4ff,#00aeff,#008bff,#006eff,#005aff,#004fff,#0049ff,#0047ff,#0046ff,#0046ff)"></i><i style="background:linear-gradient(90deg,#0047ff,#0047ff,#0047ff,#004aff,#0050ff,#005bff,#006cff,#0083ff,#00a0ff,#00beff,#00dcff,#00f8ff,#00ffe4,#00ffc6,#00ffb4,#00ffae,#00ffb7,#00ffd1,#00fff9,#00e4ff,#00c1ff,#009fff,#0080ff,#0067ff,#0056ff,#004dff,#0049ff,#0047ff,#0047ff,#0047ff)"></i><i style="background:linear-gradient(90deg,#0047ff,#0047ff,#0047ff,#0049ff,#004eff,#0056ff,#0064ff,#0078ff,#0091ff,#00adff,#00c8ff,#00e2ff,#00f7ff,#00fff0,#00ffdf,#00ffda,#00ffe3,#00fffc,#00ebff,#00ceff,#00afff,#0090ff,#0075ff,#0061ff,#0053ff,#004bff,#0048ff,#0047ff,#0047ff,#0047ff)"></i><i style="background:linear-gradient(90deg,#0047ff,#0047ff,#0047ff,#0048ff,#004cff,#0053ff,#005eff,#006fff,#0084ff,#009cff,#00b5ff,#00ccff,#00e0ff,#00f0ff,#00f9ff,#00fbff,#00f6ff,#00e8ff,#00d4ff,#00baff,#009eff,#0083ff,#006cff,#005bff,#0050ff,#004aff,#0048ff,#0047ff,#0047ff,#0047ff)"></i><i style="background:linear-gradient(90deg,#0047ff,#0047ff,#0047ff,#0048ff,#004aff,#0050ff,#0059ff,#0066ff,#0078ff,#008dff,#00a3ff,#00b8ff,#00caff,#00d8ff,#00e0ff,#00e3ff,#00ddff,#00d1ff,#00beff,#00a7ff,#008fff,#0077ff,#0064ff,#0056ff,#004eff,#0049ff,#0047ff,#0047ff,#0047ff,#0047ff)"></i><i style="background:linear-gradient(90deg,#0047ff,#0047ff,#0047ff,#0047ff,#0049ff,#004dff,#0054ff,#005fff,#006eff,#0080ff,#0093ff,#00a5ff,#00b5ff,#00c2ff,#00c9ff,#00cbff,#00c6ff,#00bbff,#00aaff,#0096ff,#0081ff,#006dff,#005dff,#0052ff,#004cff,#0048ff,#0047ff,#0047ff,#0047ff,#0047ff)"></i><i style="background:linear-gradient(90deg,#0047ff,#0047ff,#0047ff,#0047ff,#0048ff,#004bff,#0051ff,#0059ff,#0065ff,#0074ff,#0084ff,#0094ff,#00a2ff,#00adff,#00b3ff,#00b5ff,#00b0ff,#00a6ff,#0098ff,#0086ff,#0074ff,#0064ff,#0058ff,#004fff,#004aff,#0048ff,#0047ff,#0047ff,#0047ff,#0047ff)"></i><i style="background:linear-gradient(90deg,#0041ff,#0041ff,#0041ff,#0041ff,#0042ff,#0044ff,#0048ff,#004eff,#0058ff,#0064ff,#0071ff,#007eff,#008aff,#0094ff,#0099ff,#009bff,#0097ff,#008eff,#0081ff,#0073ff,#0064ff,#0057ff,#004dff,#0047ff,#0043ff,#0041ff,#0041ff,#0041ff,#0041ff,#0041ff)"></i><i style="background:linear-gradient(90deg,#0038ff,#0038ff,#0038ff,#0038ff,#0039ff,#003aff,#003dff,#0042ff,#0049ff,#0052ff,#005dff,#0068ff,#0072ff,#007aff,#007fff,#0080ff,#007cff,#0075ff,#006aff,#005eff,#0053ff,#0048ff,#0041ff,#003cff,#003aff,#0038ff,#0038ff,#0038ff,#0038ff,#0038ff)"></i><i style="background:linear-gradient(90deg,#002fff,#002fff,#002fff,#002fff,#0030ff,#0031ff,#0033ff,#0036ff,#003cff,#0043ff,#004bff,#0054ff,#005cff,#0063ff,#0067ff,#0067ff,#0064ff,#005eff,#0056ff,#004cff,#0043ff,#003bff,#0036ff,#0032ff,#0030ff,#0030ff,#002fff,#002fff,#002fff,#002fff)"></i><i style="background:linear-gradient(90deg,#0027ff,#0027ff,#0027ff,#0027ff,#0027ff,#0028ff,#0029ff,#002bff,#002fff,#0035ff,#003bff,#0042ff,#0048ff,#004eff,#0051ff,#0051ff,#004fff,#004aff,#0043ff,#003cff,#0035ff,#002fff,#002bff,#0029ff,#0027ff,#0027ff,#0027ff,#0027ff,#0027ff,#0027ff)"></i><i style="background:linear-gradient(90deg,#0020ff,#0020ff,#0020ff,#0020ff,#0020ff,#0020ff,#0021ff,#0023ff,#0026ff,#0029ff,#002eff,#0033ff,#0038ff,#003cff,#003fff,#003fff,#003dff,#003aff,#0034ff,#002fff,#002aff,#0025ff,#0023ff,#0021ff,#0020ff,#0020ff,#0020ff,#0020ff,#0020ff,#0020ff)"></i><i style="background:linear-gradient(90deg,#0019ff,#0019ff,#0019ff,#0019ff,#0019ff,#0019ff,#001aff,#001bff,#001dff,#0020ff,#0023ff,#0027ff,#002bff,#002eff,#002fff,#0030ff,#002eff,#002bff,#0028ff,#0023ff,#0020ff,#001dff,#001bff,#001aff,#0019ff,#0019ff,#0019ff,#0019ff,#0019ff,#0019ff)"></i><i style="background:linear-gradient(90deg,#0012ff,#0012ff,#0012ff,#0012ff,#0012ff,#0013ff,#0013ff,#0014ff,#0015ff,#0017ff,#0019ff,#001cff,#001eff,#0021ff,#0022ff,#0022ff,#0021ff,#001fff,#001cff,#0019ff,#0017ff,#0015ff,#0013ff,#0013ff,#0013ff,#0012ff,#0012ff,#0012ff,#0012ff,#0012ff)"></i><i style="background:linear-gradient(90deg,#000cff,#000cff,#000cff,#000cff,#000cff,#000cff,#000cff,#000cff,#000dff,#000eff,#0010ff,#0012ff,#0014ff,#0015ff,#0016ff,#0016ff,#0016ff,#0014ff,#0012ff,#0010ff,#000eff,#000dff,#000cff,#000cff,#000cff,#000cff,#000cff,#000cff,#000cff,#000cff)"></i><i style="background:linear-gradient(90deg,#0005ff,#0005ff,#0005ff,#0005ff,#0005ff,#0005ff,#0005ff,#0005ff,#0006ff,#0007ff,#0008ff,#0009ff,#000aff,#000bff,#000cff,#000cff,#000bff,#000aff,#0009ff,#0008ff,#0007ff,#0006ff,#0005ff,#0005ff,#0005ff,#0005ff,#0005ff,#0005ff,#0005ff,#0005ff)"></i><i style="background:linear-gradient(90deg,#0000ff,#0000ff,#0000ff,#0000ff,#0000ff,#0000ff,#0000ff,#0000ff,#0000ff,#0001ff,#0001ff,#0002ff,#0003ff,#0004ff,#0004ff,#0004ff,#0004ff,#0003ff,#0002ff,#0001ff,#0001ff,#0000ff,#0000ff,#0000ff,#0000ff,#0000ff,#0000ff,#0000ff,#0000ff,#0000ff)"></i><i style="background:linear-gradient(90deg,#0000fe,#0000fe,#0000fe,#0000fe,#0000fe,#0000fe,#0000fe,#0000fe,#0000ff,#0000ff,#0000ff,#0001ff,#0001ff,#0002ff,#0002ff,#0002ff,#0002ff,#0001ff,#0001ff,#0000ff,#0000ff,#0000ff,#0000fe,#0000fe,#0000fe,#0000fe,#0000fe,#0000fe,#0000fe,#0000fe)"></i><i style="background:linear-gradient(90deg,#0000fe,#0000fe,#0000fe,#0000fe,#0000fe,#0000fe,#0000fe,#0000fe,#0000fe,#0000fe,#0000fe,#0000fe,#0000ff,#0000ff,#0000ff,#0000ff,#0000ff,#0000ff,#0000ff,#0000fe,#0000fe,#0000fe,#0000fe,#0000fe,#0000fe,#0000fe,#0000fe,#0000fe,#0000fe,#0000fe)"></i><i style="background:linear-gradient(90deg,#0000fd,#0000fd,#0000fd,#0000fd,#0000fd,#0000fd,#0000fd,#0000fd,#0000fd,#0000fd,#0000fd,#0000fe,#0000fe,#0000fe,#0000fe,#0000fe,#0000fe,#0000fe,#0000fe,#0000fd,#0000fd,#0000fd,#0000fd,#0000fd,#0000fd,#0000fd,#0000fd,#0000fd,#0000fd,#0000fd)"></i><i style="background:linear-gradient(90deg,#0000fd,#0000fd,#0000fd,#0000fd,#0000fd,#0000fd,#0000fd,#0000fd,#0000fd,#0000fd,#0000fd,#0000fd,#0000fd,#0000fd,#0000fd,#0000fd,#0000fd,#0000fd,#0000fd,#0000fd,#0000fd,#0000fd,#0000fd,#0000fd,#0000fd,#0000fd,#0000fd,#0000fd,#0000fd,#0000fd)"></i><i style="background:linear-gradient(90deg,#0000fc,#0000fc,#0000fc,#0000fc,#0000fc,#0000fc,#0000fc,#0000fc,#0000fc,#0000fc,#0000fc,#0000fc,#0000fc,#0000fc,#0000fc,#0000fc,#0000fc,#0000fc,#0000fc,#0000fc,#0000fc,#0000fc,#0000fc,#0000fc,#0000fc,#0000fc,#0000fc,#0000fc,#0000fc,#0000fc)"></i><i style="background:linear-gradient(90deg,#0000fc,#0000fc,#0000fc,#0000fc,#0000fc,#0000fc,#0000fc,#0000fc,#0000fc,#0000fc,#0000fc,#0000fc,#0000fc,#0000fc,#0000fc,#0000fc,#0000fc,#0000fc,#0000fc,#0000fc,#0000fc,#0000fc,#0000fc,#0000fc,#0000fc,#0000fc,#0000fc,#0000fc,#0000fc,#0000fc)"></i><i style="background:linear-gradient(90deg,#0000fb,#0000fb,#0000fb,#0000fb,#0000fb,#0000fb,#0000fb,#0000fb,#0000fb,#0000fb,#0000fb,#0000fb,#0000fb,#0000fb,#0000fb,#0000fb,#0000fb,#0000fb,#0000fb,#0000fb,#0000fb,#0000fb,#0000fb,#0000fb,#0000fb,#0000fb,#0000fb,#0000fb,#0000fb,#0000fb)"></i><i style="background:linear-gradient(90deg,#0000fb,#0000fb,#0000fb,#0000fb,#0000fb,#0000fb,#0000fb,#0000fb,#0000fb,#0000fb,#0000fb,#0000fb,#0000fb,#0000fb,#0000fb,#0000fb,#0000fb,#0000fb,#0000fb,#0000fb,#0000fb,#0000fb,#0000fb,#0000fb,#0000fb,#0000fb,#0000fb,#0000fb,#0000fb,#0000fb)"></i><i style="background:linear-gradient(90deg,#0000fa,#0000fa,#0000fa,#0000fa,#0000fa,#0000fa,#0000fa,#0000fa,#0000fa,#0000fa,#0000fa,#0000fa,#0000fa,#0000fa,#0000fa,#0000fa,#0000fa,#0000fa,#0000fa,#0000fa,#0000fa,#0000fa,#0000fa,#0000fa,#0000fa,#0000fa,#0000fa,#0000fa,#0000fa,#0000fa)"></i><i style="background:linear-gradient(90deg,#0000fa,#0000fa,#0000fa,#0000fa,#0000fa,#0000fa,#0000fa,#0000fa,#0000fa,#0000fa,#0000fa,#0000fa,#0000fa,#0000fa,#0000fa,#0000fa,#0000fa,#0000fa,#0000fa,#0000fa,#0000fa,#0000fa,#0000fa,#0000fa,#0000fa,#0000fa,#0000fa,#0000fa,#0000fa,#0000fa)"></i><i style="background:linear-gradient(90deg,#0000fa,#0000fa,#0000fa,#0000fa,#0000fa,#0000fa,#0000fa,#0000fa,#0000fa,#0000fa,#0000fa,#0000fa,#0000fa,#0000fa,#0000fa,#0000fa,#0000fa,#0000fa,#0000fa,#0000fa,#0000fa,#0000fa,#0000fa,#0000fa,#0000fa,#0000fa,#0000fa,#0000fa,#0000fa,#0000fa)"></i></div></div>
<div class="hm" style="left:543px;top:282px;width:139px;height:122px"><div style="left:-4px;top:-4px;width:147px"><i style="background:linear-gradient(90deg,#0045ff,#0045ff,#004aff,#0052ff,#005bff,#0066ff,#0073ff,#0081ff,#0090ff,#009eff,#00acff,#00b8ff,#00c2ff,#00caff,#00cdff,#00ccff,#00c6ff,#00bbff,#00acff,#009bff,#0089ff,#0077ff,#0067ff,#0059ff,#004fff,#0047ff,#0042ff,#003fff,#003dff,#003dff)"></i><i style="background:linear-gradient(90deg,#0045ff,#0045ff,#004aff,#0052ff,#005bff,#0066ff,#0073ff,#0081ff,#0090ff,#009eff,#00acff,#00b8ff,#00c2ff,#00caff,#00cdff,#00ccff,#00c6ff,#00bbff,#00acff,#009bff,#0089ff,#0077ff,#0067ff,#0059ff,#004fff,#0047ff,#0042ff,#003fff,#003dff,#003dff)"></i><i style="background:linear-gradient(90deg,#0048ff,#0048ff,#004fff,#0058ff,#0063ff,#0071ff,#0080ff,#0091ff,#00a2ff,#00b3ff,#00c2ff,#00d0ff,#00dbff,#00e3ff,#00e7ff,#00e5ff,#00ddff,#00d1ff,#00c1ff,#00aeff,#0099ff,#0084ff,#0071ff,#0060ff,#0053ff,#004aff,#0044ff,#0040ff,#003eff,#003dff)"></i><i style="background:linear-gradient(90deg,#004eff,#004fff,#0058ff,#0065ff,#0074ff,#0085ff,#0099ff,#00adff,#00c1ff,#00d5ff,#00e7ff,#00f6ff,#00fff9,#00ffea,#00ffe3,#00ffe7,#00fff5,#00f7ff,#00e4ff,#00ceff,#00b4ff,#009bff,#0083ff,#006dff,#005cff,#0050ff,#0047ff,#0042ff,#003fff,#003eff)"></i><i style="background:linear-gradient(90deg,#0055ff,#0057ff,#0064ff,#0074ff,#0087ff,#009dff,#00b4ff,#00ccff,#00e4ff,#00faff,#00ffe7,#00ffca,#00ffb4,#00ffa3,#00ff9b,#00ff9e,#00ffab,#00ffc4,#00ffe7,#00f3ff,#00d5ff,#00b6ff,#0098ff,#007dff,#0067ff,#0057ff,#004bff,#0044ff,#0040ff,#003fff)"></i><i style="background:linear-gradient(90deg,#005fff,#0061ff,#0071ff,#0086ff,#009dff,#00b7ff,#00d2ff,#00edff,#00fff1,#00ffc8,#00ffa4,#00ff85,#00ff6c,#00ff58,#00ff4d,#00ff4d,#00ff59,#00ff71,#00ff97,#00ffc9,#00fcff,#00d7ff,#00b2ff,#0090ff,#0074ff,#005fff,#0050ff,#0046ff,#0041ff,#0040ff)"></i><i style="background:linear-gradient(90deg,#006aff,#006dff,#0081ff,#0099ff,#00b5ff,#00d3ff,#00f1ff,#00ffe4,#00ffb4,#00ff88,#00ff61,#00ff3e,#00ff20,#00ff07,#0bff00,#10ff00,#09ff00,#00ff10,#00ff39,#00ff72,#00ffb8,#00fbff,#00cdff,#00a4ff,#0081ff,#0067ff,#0054ff,#0049ff,#0042ff,#0041ff)"></i><i style="background:linear-gradient(90deg,#0077ff,#007aff,#0092ff,#00aeff,#00ceff,#00efff,#00ffe2,#00ffab,#00ff77,#00ff47,#00ff1a,#0fff00,#35ff00,#57ff00,#72ff00,#80ff00,#7cff00,#63ff00,#33ff00,#00ff12,#00ff68,#00ffc6,#00eaff,#00b7ff,#008eff,#006eff,#0058ff,#004bff,#0043ff,#0042ff)"></i><i style="background:linear-gradient(90deg,#0085ff,#0088ff,#00a4ff,#00c4ff,#00e7ff,#00ffeb,#00ffad,#00ff72,#00ff38,#00ff01,#34ff00,#68ff00,#9aff00,#c9ff00,#efff00,#fffc00,#fffe00,#e2ff00,#a6ff00,#4fff00,#00ff1a,#00ff8b,#00fffa,#00c7ff,#0097ff,#0074ff,#005bff,#004cff,#0043ff,#0042ff)"></i><i style="background:linear-gradient(90deg,#0093ff,#0097ff,#00b6ff,#00daff,#00fffe,#00ffbc,#00ff79,#00ff37,#0bff00,#4dff00,#8fff00,#d1ff00,#fff300,#ffd000,#ffb400,#ffa600,#ffab00,#ffc500,#fff500,#a4ff00,#25ff00,#00ff5f,#00ffdd,#00d2ff,#009dff,#0076ff,#005cff,#004cff,#0043ff,#0042ff)"></i><i style="background:linear-gradient(90deg,#00a1ff,#00a5ff,#00c8ff,#00efff,#00ffd5,#00ff8c,#00ff42,#09ff00,#56ff00,#a6ff00,#f9ff00,#ffd200,#ffa300,#ff7a00,#ff5d00,#ff5300,#ff6200,#ff8900,#ffc600,#dbff00,#49ff00,#00ff4a,#00ffd1,#00d5ff,#009fff,#0077ff,#005cff,#004cff,#0043ff,#0042ff)"></i><i style="background:linear-gradient(90deg,#00aeff,#00b3ff,#00d9ff,#00fff8,#00ffac,#00ff5c,#00ff08,#4fff00,#aaff00,#fff900,#ffbf00,#ff8600,#ff5400,#ff2c00,#ff1500,#ff1500,#ff3100,#ff6800,#ffb300,#eaff00,#4dff00,#00ff4c,#00ffd7,#00d2ff,#009cff,#0075ff,#005bff,#004bff,#0043ff,#0042ff)"></i><i style="background:linear-gradient(90deg,#00bbff,#00c0ff,#00eaff,#00ffd6,#00ff82,#00ff2a,#35ff00,#98ff00,#fffe00,#ffbe00,#ff7f00,#ff4500,#ff1600,#f60000,#ec0000,#fb0000,#ff2600,#ff6900,#ffbd00,#d1ff00,#32ff00,#00ff64,#00ffe9,#00caff,#0096ff,#0071ff,#0059ff,#004aff,#0042ff,#0041ff)"></i><i style="background:linear-gradient(90deg,#00c8ff,#00cdff,#00faff,#00ffb4,#00ff59,#09ff00,#70ff00,#ddff00,#ffd000,#ff8e00,#ff5000,#ff1d00,#f80000,#e80000,#ed0000,#ff0b00,#ff4200,#ff8c00,#ffe100,#98ff00,#02ff00,#00ff8b,#00fbff,#00beff,#008eff,#006cff,#0056ff,#0049ff,#0041ff,#0040ff)"></i><i style="background:linear-gradient(90deg,#00d3ff,#00d9ff,#00ffee,#00ff94,#00ff32,#37ff00,#a4ff00,#fff300,#ffb100,#ff7300,#ff3f00,#ff1800,#ff0400,#ff0300,#ff1700,#ff4000,#ff7c00,#ffc600,#d8ff00,#4cff00,#00ff3c,#00ffba,#00e6ff,#00afff,#0085ff,#0066ff,#0053ff,#0047ff,#0041ff,#0040ff)"></i><i style="background:linear-gradient(90deg,#00deff,#00e5ff,#00ffd5,#00ff76,#00ff10,#5bff00,#c6ff00,#ffe200,#ffa800,#ff7500,#ff4f00,#ff3800,#ff3400,#ff4000,#ff5e00,#ff8c00,#ffc600,#edff00,#75ff00,#00ff05,#00ff7c,#00ffeb,#00d1ff,#00a0ff,#007bff,#0060ff,#004fff,#0045ff,#0040ff,#003fff)"></i><i style="background:linear-gradient(90deg,#00e8ff,#00efff,#00ffc0,#00ff5e,#08ff00,#6eff00,#d1ff00,#ffe500,#ffb700,#ff9300,#ff7c00,#ff7500,#ff7c00,#ff9000,#ffb100,#ffdd00,#dfff00,#7dff00,#16ff00,#00ff53,#00ffbb,#00eeff,#00bbff,#0090ff,#0070ff,#0059ff,#004bff,#0043ff,#003fff,#003eff)"></i><i style="background:linear-gradient(90deg,#00efff,#00f6ff,#00ffb2,#00ff50,#12ff00,#6fff00,#c3ff00,#fff900,#ffd900,#ffc400,#ffbb00,#ffbe00,#ffcc00,#ffe300,#f9ff00,#b8ff00,#6cff00,#19ff00,#00ff40,#00ff9c,#00fff6,#00d2ff,#00a5ff,#0081ff,#0066ff,#0053ff,#0047ff,#0041ff,#003eff,#003dff)"></i><i style="background:linear-gradient(90deg,#00f3ff,#00faff,#00ffab,#00ff4b,#10ff00,#62ff00,#a5ff00,#d6ff00,#f6ff00,#fffc00,#fffe00,#f0ff00,#d4ff00,#afff00,#81ff00,#49ff00,#08ff00,#00ff40,#00ff8e,#00ffdf,#00e3ff,#00b7ff,#0091ff,#0072ff,#005cff,#004dff,#0044ff,#0040ff,#003dff,#003dff)"></i><i style="background:linear-gradient(90deg,#00f5ff,#00fcff,#00ffa9,#00ff4d,#07ff00,#4cff00,#7fff00,#9eff00,#abff00,#a8ff00,#9aff00,#84ff00,#67ff00,#45ff00,#1cff00,#00ff15,#00ff4e,#00ff8f,#00ffd5,#00edff,#00c4ff,#009eff,#007eff,#0065ff,#0054ff,#0048ff,#0042ff,#003eff,#003dff,#003dff)"></i><i style="background:linear-gradient(90deg,#00f4ff,#00fbff,#00ffac,#00ff54,#00ff08,#33ff00,#59ff00,#69ff00,#68ff00,#5aff00,#44ff00,#29ff00,#0cff00,#00ff14,#00ff39,#00ff66,#00ff9b,#00ffd6,#00f2ff,#00ccff,#00a8ff,#0088ff,#006eff,#005bff,#004dff,#0045ff,#0040ff,#003eff,#003dff,#003cff)"></i><i style="background:linear-gradient(90deg,#00f1ff,#00f8ff,#00ffb3,#00ff5e,#00ff17,#1bff00,#37ff00,#3cff00,#31ff00,#1bff00,#00ff01,#00ff20,#00ff41,#00ff64,#00ff8b,#00ffb7,#00ffe6,#00efff,#00cfff,#00afff,#0091ff,#0077ff,#0062ff,#0053ff,#0049ff,#0043ff,#003fff,#003dff,#003cff,#003cff)"></i><i style="background:linear-gradient(90deg,#00edff,#00f4ff,#00ffbb,#00ff6a,#00ff27,#06ff00,#1aff00,#19ff00,#06ff00,#00ff17,#00ff3c,#00ff68,#00ffa0,#00ffe2,#00eaff,#00ceff,#00beff,#00b4ff,#00a7ff,#0095ff,#007fff,#006cff,#005cff,#0050ff,#0048ff,#0042ff,#003fff,#003eff,#003dff,#003dff)"></i><i style="background:linear-gradient(90deg,#00e8ff,#00efff,#00ffc6,#00ff77,#00ff38,#00ff0e,#02ff00,#00ff03,#00ff1a,#00ff3d,#00ff6e,#00ffb9,#00e6ff,#0090ff,#0043ff,#0020ff,#002fff,#0056ff,#0074ff,#007cff,#0074ff,#0067ff,#005aff,#0050ff,#0049ff,#0044ff,#0040ff,#003eff,#003dff,#003dff)"></i><i style="background:linear-gradient(90deg,#00e4ff,#00eaff,#00ffd1,#00ff85,#00ff48,#00ff20,#00ff11,#00ff17,#00ff2f,#00ff53,#00ff86,#00ffd4,#00d1ff,#0076ff,#0024ff,#0001ff,#0015ff,#0045ff,#006aff,#0078ff,#0075ff,#006aff,#005eff,#0054ff,#004cff,#0046ff,#0042ff,#0040ff,#003eff,#003eff)"></i><i style="background:linear-gradient(90deg,#00e0ff,#00e6ff,#00ffdb,#00ff91,#00ff56,#00ff2f,#00ff1f,#00ff23,#00ff37,#00ff56,#00ff7e,#00ffaf,#00ffef,#00dcff,#00b2ff,#0097ff,#0090ff,#0093ff,#0093ff,#008dff,#0082ff,#0075ff,#0068ff,#005dff,#0053ff,#004bff,#0045ff,#0042ff,#003fff,#003fff)"></i><i style="background:linear-gradient(90deg,#00deff,#00e3ff,#00ffe2,#00ff9b,#00ff61,#00ff39,#00ff26,#00ff26,#00ff35,#00ff4e,#00ff6d,#00ff8d,#00ffb0,#00ffd5,#00fffb,#00ecff,#00d8ff,#00c5ff,#00b4ff,#00a3ff,#0094ff,#0086ff,#0077ff,#0069ff,#005cff,#0051ff,#0049ff,#0044ff,#0041ff,#0040ff)"></i><i style="background:linear-gradient(90deg,#00deff,#00e3ff,#00ffe5,#00ffa0,#00ff67,#00ff3d,#00ff26,#00ff21,#00ff29,#00ff3c,#00ff55,#00ff70,#00ff8c,#00ffaa,#00ffcb,#00ffed,#00f4ff,#00dfff,#00ccff,#00bbff,#00abff,#009bff,#008aff,#0078ff,#0067ff,#0059ff,#004eff,#0047ff,#0042ff,#0042ff)"></i><i style="background:linear-gradient(90deg,#00e0ff,#00e6ff,#00ffe3,#00ffa0,#00ff66,#00ff3b,#00ff20,#00ff15,#00ff17,#00ff23,#00ff36,#00ff4c,#00ff65,#00ff81,#00ffa0,#00ffc2,#00ffe5,#00faff,#00e7ff,#00d6ff,#00c6ff,#00b5ff,#00a1ff,#008bff,#0075ff,#0062ff,#0054ff,#004aff,#0044ff,#0043ff)"></i><i style="background:linear-gradient(90deg,#00e5ff,#00ebff,#00ffdc,#00ff9a,#00ff61,#00ff34,#00ff16,#00ff06,#00ff02,#00ff08,#00ff16,#00ff27,#00ff3d,#00ff56,#00ff74,#00ff95,#00ffb8,#00ffda,#00fff9,#00f3ff,#00e3ff,#00d1ff,#00baff,#009fff,#0083ff,#006cff,#005aff,#004eff,#0047ff,#0045ff)"></i><i style="background:linear-gradient(90deg,#00ecff,#00f1ff,#00ffd3,#00ff92,#00ff58,#00ff2a,#00ff09,#0aff00,#12ff00,#10ff00,#07ff00,#00ff06,#00ff18,#00ff2f,#00ff4b,#00ff6b,#00ff8e,#00ffaf,#00ffcc,#00ffe5,#00fffe,#00ecff,#00d2ff,#00b3ff,#0092ff,#0075ff,#0060ff,#0052ff,#0049ff,#0047ff)"></i><i style="background:linear-gradient(90deg,#00f2ff,#00f8ff,#00ffc8,#00ff87,#00ff4e,#00ff20,#02ff00,#17ff00,#21ff00,#23ff00,#1dff00,#13ff00,#04ff00,#00ff10,#00ff2a,#00ff49,#00ff6b,#00ff8b,#00ffa6,#00ffbd,#00ffd4,#00fff5,#00e9ff,#00c5ff,#009fff,#007eff,#0065ff,#0055ff,#004bff,#0049ff)"></i><i style="background:linear-gradient(90deg,#00f8ff,#00fdff,#00ffbf,#00ff7f,#00ff46,#00ff18,#0aff00,#20ff00,#2bff00,#2eff00,#2bff00,#23ff00,#17ff00,#05ff00,#00ff13,#00ff30,#00ff51,#00ff6f,#00ff89,#00ff9e,#00ffb4,#00ffd5,#00faff,#00d3ff,#00aaff,#0085ff,#006aff,#0057ff,#004cff,#004aff)"></i><i style="background:linear-gradient(90deg,#00fbff,#00fffc,#00ffba,#00ff7a,#00ff42,#00ff14,#0eff00,#24ff00,#2fff00,#32ff00,#30ff00,#2bff00,#21ff00,#11ff00,#00ff05,#00ff22,#00ff41,#00ff5f,#00ff78,#00ff8b,#00ffa0,#00ffc1,#00fff6,#00dbff,#00b0ff,#0089ff,#006cff,#0059ff,#004dff,#004bff)"></i><i style="background:linear-gradient(90deg,#00fbff,#00fffc,#00ffba,#00ff7b,#00ff44,#00ff16,#0cff00,#22ff00,#2dff00,#31ff00,#30ff00,#2cff00,#24ff00,#15ff00,#00ff01,#00ff1d,#00ff3c,#00ff5a,#00ff73,#00ff86,#00ff9b,#00ffbd,#00fff2,#00ddff,#00b1ff,#008aff,#006dff,#0059ff,#004dff,#004cff)"></i><i style="background:linear-gradient(90deg,#00f7ff,#00fdff,#00ffc2,#00ff84,#00ff4c,#00ff1f,#04ff00,#1bff00,#28ff00,#2dff00,#2cff00,#29ff00,#20ff00,#10ff00,#00ff06,#00ff22,#00ff42,#00ff61,#00ff7a,#00ff8f,#00ffa6,#00ffc8,#00fffd,#00d8ff,#00adff,#0088ff,#006cff,#0059ff,#004dff,#004bff)"></i><i style="background:linear-gradient(90deg,#00efff,#00f4ff,#00ffd1,#00ff95,#00ff5e,#00ff30,#00ff0c,#0dff00,#1cff00,#22ff00,#23ff00,#1eff00,#14ff00,#03ff00,#00ff15,#00ff32,#00ff53,#00ff73,#00ff8f,#00ffa6,#00ffbf,#00ffe2,#00f3ff,#00cdff,#00a5ff,#0083ff,#0068ff,#0057ff,#004cff,#004aff)"></i><i style="background:linear-gradient(90deg,#00e3ff,#00e8ff,#00ffe9,#00ffae,#00ff78,#00ff4a,#00ff25,#00ff0b,#06ff00,#0eff00,#0eff00,#09ff00,#00ff03,#00ff15,#00ff2e,#00ff4c,#00ff6e,#00ff8f,#00ffad,#00ffc8,#00ffe3,#00fbff,#00dfff,#00bdff,#009aff,#007bff,#0064ff,#0054ff,#004aff,#0049ff)"></i><i style="background:linear-gradient(90deg,#00d4ff,#00d8ff,#00faff,#00ffcf,#00ff9b,#00ff6e,#00ff49,#00ff2d,#00ff1b,#00ff12,#00ff12,#00ff18,#00ff25,#00ff38,#00ff51,#00ff70,#00ff93,#00ffb5,#00ffd5,#00fff1,#00f6ff,#00e2ff,#00c8ff,#00aaff,#008cff,#0072ff,#005eff,#0051ff,#0048ff,#0047ff)"></i><i style="background:linear-gradient(90deg,#00c2ff,#00c6ff,#00e4ff,#00fff8,#00ffc7,#00ff9b,#00ff77,#00ff5b,#00ff49,#00ff3f,#00ff3f,#00ff45,#00ff52,#00ff66,#00ff7f,#00ff9e,#00ffc0,#00ffe2,#00fdff,#00ebff,#00daff,#00c6ff,#00b0ff,#0096ff,#007dff,#0068ff,#0058ff,#004dff,#0046ff,#0045ff)"></i><i style="background:linear-gradient(90deg,#00b8ff,#00bcff,#00d7ff,#00f3ff,#00ffe6,#00ffbd,#00ff9b,#00ff80,#00ff6e,#00ff65,#00ff64,#00ff6b,#00ff77,#00ff8a,#00ffa3,#00ffc0,#00ffe0,#00feff,#00ebff,#00d9ff,#00c8ff,#00b7ff,#00a3ff,#008eff,#007aff,#006aff,#005dff,#0055ff,#004fff,#004eff)"></i><i style="background:linear-gradient(90deg,#00b4ff,#00b7ff,#00cfff,#00e7ff,#00ffff,#00ffdb,#00ffbc,#00ffa3,#00ff92,#00ff89,#00ff89,#00ff8f,#00ff9b,#00ffad,#00ffc3,#00ffde,#00fffb,#00efff,#00deff,#00cdff,#00beff,#00aeff,#009eff,#008dff,#007eff,#0071ff,#0068ff,#0061ff,#005dff,#005dff)"></i><i style="background:linear-gradient(90deg,#00b1ff,#00b3ff,#00c7ff,#00dbff,#00efff,#00fffa,#00ffdf,#00ffc9,#00ffba,#00ffb2,#00ffb2,#00ffb7,#00ffc2,#00ffd1,#00ffe5,#00fffd,#00f1ff,#00e1ff,#00d2ff,#00c3ff,#00b6ff,#00a9ff,#009cff,#008fff,#0084ff,#007bff,#0074ff,#006fff,#006cff,#006bff)"></i><i style="background:linear-gradient(90deg,#00d8ff,#00daff,#00e9ff,#00f9ff,#00ffed,#00ffd3,#00ffbc,#00ffaa,#00ff9d,#00ff96,#00ff96,#00ff9b,#00ffa4,#00ffb1,#00ffc2,#00ffd5,#00ffeb,#00feff,#00f1ff,#00e5ff,#00daff,#00cfff,#00c5ff,#00bcff,#00b4ff,#00adff,#00a9ff,#00a5ff,#00a3ff,#00a3ff)"></i><i style="background:linear-gradient(90deg,#00fffb,#00fff9,#00ffe5,#00ffd0,#00ffbb,#00ffa7,#00ff95,#00ff86,#00ff7b,#00ff76,#00ff76,#00ff79,#00ff81,#00ff8b,#00ff99,#00ffa8,#00ffb9,#00ffcb,#00ffdc,#00ffec,#00fffa,#00faff,#00f2ff,#00ecff,#00e6ff,#00e2ff,#00deff,#00dcff,#00dbff,#00daff)"></i><i style="background:linear-gradient(90deg,#009bff,#009cff,#00a5ff,#00aeff,#00b7ff,#00c0ff,#00c9ff,#00cfff,#00d4ff,#00d7ff,#00d7ff,#00d5ff,#00d2ff,#00cdff,#00c7ff,#00c0ff,#00b8ff,#00b0ff,#00a9ff,#00a2ff,#009bff,#0095ff,#0090ff,#008cff,#0088ff,#0085ff,#0083ff,#0081ff,#0081ff,#0080ff)"></i><i style="background:linear-gradient(90deg,#0042ff,#0043ff,#0049ff,#004fff,#0056ff,#005cff,#0062ff,#0067ff,#006aff,#006cff,#006cff,#006bff,#0069ff,#0065ff,#0061ff,#005cff,#0056ff,#0051ff,#004bff,#0046ff,#0042ff,#003eff,#003bff,#0038ff,#0035ff,#0033ff,#0032ff,#0031ff,#0031ff,#0031ff)"></i><i style="background:linear-gradient(90deg,#001dff,#001dff,#0021ff,#0025ff,#002aff,#002eff,#0032ff,#0035ff,#0037ff,#0039ff,#0039ff,#0038ff,#0036ff,#0034ff,#0031ff,#002dff,#002aff,#0026ff,#0022ff,#001fff,#001cff,#001aff,#0017ff,#0016ff,#0014ff,#0013ff,#0012ff,#0012ff,#0011ff,#0011ff)"></i><i style="background:linear-gradient(90deg,#002fff,#002fff,#0031ff,#0034ff,#0037ff,#0039ff,#003cff,#003eff,#0040ff,#0040ff,#0040ff,#0040ff,#003fff,#003dff,#003bff,#0039ff,#0037ff,#0034ff,#0032ff,#0030ff,#002eff,#002dff,#002bff,#002aff,#002aff,#0029ff,#0028ff,#0028ff,#0028ff,#0028ff)"></i><i style="background:linear-gradient(90deg,#0041ff,#0041ff,#0042ff,#0044ff,#0045ff,#0047ff,#0049ff,#004aff,#004bff,#004bff,#004bff,#004bff,#004aff,#0049ff,#0048ff,#0047ff,#0046ff,#0044ff,#0043ff,#0042ff,#0040ff,#0040ff,#003fff,#003eff,#003eff,#003dff,#003dff,#003dff,#003dff,#003dff)"></i><i style="background:linear-gradient(90deg,#0048ff,#0048ff,#0049ff,#004aff,#004bff,#004cff,#004dff,#004dff,#004eff,#004eff,#004eff,#004eff,#004eff,#004dff,#004dff,#004cff,#004bff,#004aff,#0049ff,#0049ff,#0048ff,#0048ff,#0047ff,#0047ff,#0047ff,#0047ff,#0046ff,#0046ff,#0046ff,#0046ff)"></i><i style="background:linear-gradient(90deg,#0051ff,#0051ff,#0051ff,#0052ff,#0052ff,#0053ff,#0053ff,#0053ff,#0054ff,#0054ff,#0054ff,#0054ff,#0054ff,#0053ff,#0053ff,#0053ff,#0052ff,#0052ff,#0051ff,#0051ff,#0051ff,#0050ff,#0050ff,#0050ff,#0050ff,#0050ff,#0050ff,#0050ff,#0050ff,#0050ff)"></i><i style="background:linear-gradient(90deg,#0043ff,#0043ff,#0043ff,#0044ff,#0044ff,#0044ff,#0044ff,#0044ff,#0045ff,#0045ff,#0045ff,#0045ff,#0045ff,#0044ff,#0044ff,#0044ff,#0044ff,#0044ff,#0043ff,#0043ff,#0043ff,#0043ff,#0043ff,#0043ff,#0043ff,#0043ff,#0043ff,#0043ff,#0043ff,#0043ff)"></i><i style="background:linear-gradient(90deg,#0031ff,#0031ff,#0031ff,#0031ff,#0031ff,#0032ff,#0032ff,#0032ff,#0032ff,#0032ff,#0032ff,#0032ff,#0032ff,#0032ff,#0032ff,#0032ff,#0031ff,#0031ff,#0031ff,#0031ff,#0031ff,#0031ff,#0031ff,#0031ff,#0031ff,#0031ff,#0031ff,#0031ff,#0031ff,#0031ff)"></i><i style="background:linear-gradient(90deg,#001fff,#001fff,#001fff,#001fff,#001fff,#001fff,#001fff,#0020ff,#0020ff,#0020ff,#0020ff,#0020ff,#0020ff,#0020ff,#001fff,#001fff,#001fff,#001fff,#001fff,#001fff,#001fff,#001fff,#001fff,#001fff,#001fff,#001fff,#001fff,#001fff,#001fff,#001fff)"></i><i style="background:linear-gradient(90deg,#002aff,#002aff,#002aff,#002aff,#002aff,#002aff,#002aff,#002aff,#002aff,#002aff,#002aff,#002aff,#002aff,#002aff,#002aff,#002aff,#002aff,#002aff,#002aff,#002aff,#002aff,#002aff,#002aff,#002aff,#002aff,#002aff,#002aff,#002aff,#002aff,#002aff)"></i><i style="background:linear-gradient(90deg,#003dff,#003dff,#003dff,#003dff,#003dff,#003dff,#003dff,#003dff,#003dff,#003dff,#003dff,#003dff,#003dff,#003dff,#003dff,#003dff,#003dff,#003dff,#003dff,#003dff,#003dff,#003dff,#003dff,#003dff,#003dff,#003dff,#003dff,#003dff,#003dff,#003dff)"></i><i style="background:linear-gradient(90deg,#0040ff,#0040ff,#0040ff,#0040ff,#0040ff,#0040ff,#0040ff,#0040ff,#0040ff,#0040ff,#0040ff,#0040ff,#0040ff,#0040ff,#0040ff,#0040ff,#0040ff,#0040ff,#0040ff,#0040ff,#0040ff,#0040ff,#0040ff,#0040ff,#0040ff,#0040ff,#0040ff,#0040ff,#0040ff,#0040ff)"></i><i style="background:linear-gradient(90deg,#0032ff,#0032ff,#0032ff,#0032ff,#0032ff,#0032ff,#0032ff,#0032ff,#0032ff,#0032ff,#0032ff,#0032ff,#0032ff,#0032ff,#0032ff,#0032ff,#0032ff,#0032ff,#0032ff,#0032ff,#0032ff,#0032ff,#0032ff,#0032ff,#0032ff,#0032ff,#0032ff,#0032ff,#0032ff,#0032ff)"></i><i style="background:linear-gradient(90deg,#0023ff,#0023ff,#0023ff,#0023ff,#0023ff,#0023ff,#0023ff,#0023ff,#0023ff,#0023ff,#0023ff,#0023ff,#0023ff,#0023ff,#0023ff,#0023ff,#0023ff,#0023ff,#0023ff,#0023ff,#0023ff,#0023ff,#0023ff,#0023ff,#0023ff,#0023ff,#0023ff,#0023ff,#0023ff,#0023ff)"></i><i style="background:linear-gradient(90deg,#0015ff,#0015ff,#0015ff,#0015ff,#0015ff,#0015ff,#0015ff,#0015ff,#0015ff,#0015ff,#0015ff,#0015ff,#0015ff,#0015ff,#0015ff,#0015ff,#0015ff,#0015ff,#0015ff,#0015ff,#0015ff,#0015ff,#0015ff,#0015ff,#0015ff,#0015ff,#0015ff,#0015ff,#0015ff,#0015ff)"></i><i style="background:linear-gradient(90deg,#0018ff,#0018ff,#0018ff,#0018ff,#0018ff,#0018ff,#0018ff,#0018ff,#0018ff,#0018ff,#0018ff,#0018ff,#0018ff,#0018ff,#0018ff,#0018ff,#0018ff,#0018ff,#0018ff,#0018ff,#0018ff,#0018ff,#0018ff,#0018ff,#0018ff,#0018ff,#0018ff,#0018ff,#0018ff,#0018ff)"></i><i style="background:linear-gradient(90deg,#0023ff,#0023ff,#0023ff,#0023ff,#0023ff,#0023ff,#0023ff,#0023ff,#0023ff,#0023ff,#0023ff,#0023ff,#0023ff,#0023ff,#0023ff,#0023ff,#0023ff,#0023ff,#0023ff,#0023ff,#0023ff,#0023ff,#0023ff,#0023ff,#0023ff,#0023ff,#0023ff,#0023ff,#0023ff,#0023ff)"></i><i style="background:linear-gradient(90deg,#0026ff,#0026ff,#0026ff,#0026ff,#0026ff,#0026ff,#0026ff,#0026ff,#0026ff,#0026ff,#0026ff,#0026ff,#0026ff,#0026ff,#0026ff,#0026ff,#0026ff,#0026ff,#0026ff,#0026ff,#0026ff,#0026ff,#0026ff,#0026ff,#0026ff,#0026ff,#0026ff,#0026ff,#0026ff,#0026ff)"></i><i style="background:linear-gradient(90deg,#0026ff,#0026ff,#0026ff,#0026ff,#0026ff,#0026ff,#0026ff,#0026ff,#0026ff,#0026ff,#0026ff,#0026ff,#0026ff,#0026ff,#0026ff,#0026ff,#0026ff,#0026ff,#0026ff,#0026ff,#0026ff,#0026ff,#0026ff,#0026ff,#0026ff,#0026ff,#0026ff,#0026ff,#0026ff,#0026ff)"></i></div></div>
<div class="hm" style="left:543px;top:420px;width:139px;height:122px"><div style="left:-4px;top:-4px;width:147px"><i style="background:linear-gradient(90deg,#0045ff,#0046ff,#004dff,#0056ff,#0063ff,#0073ff,#0086ff,#009aff,#00aaff,#00b1ff,#00b9ff,#00d6ff,#00f6ff,#00fff0,#00ffe3,#00ffe0,#00ffe7,#00fff9,#00f3ff,#00dfff,#00c8ff,#00afff,#0097ff,#0080ff,#006cff,#005cff,#0050ff,#0048ff,#0042ff,#0042ff)"></i><i style="background:linear-gradient(90deg,#0045ff,#0046ff,#004dff,#0056ff,#0063ff,#0073ff,#0086ff,#009aff,#00aaff,#00b1ff,#00b9ff,#00d6ff,#00f6ff,#00fff0,#00ffe3,#00ffe0,#00ffe7,#00fff9,#00f3ff,#00dfff,#00c8ff,#00afff,#0097ff,#0080ff,#006cff,#005cff,#0050ff,#0048ff,#0042ff,#0042ff)"></i><i style="background:linear-gradient(90deg,#0046ff,#0047ff,#004eff,#0058ff,#0066ff,#0076ff,#008aff,#009fff,#00aeff,#00b0ff,#00b5ff,#00d5ff,#00fcff,#00ffe2,#00ffd4,#00ffd2,#00ffda,#00ffeb,#00fbff,#00e6ff,#00ceff,#00b5ff,#009bff,#0083ff,#006fff,#005eff,#0051ff,#0048ff,#0043ff,#0042ff)"></i><i style="background:linear-gradient(90deg,#004aff,#004bff,#0054ff,#0061ff,#0071ff,#0085ff,#009dff,#00b3ff,#00bbff,#009fff,#008cff,#00c3ff,#00ffe8,#00ffad,#00ff9b,#00ff99,#00ffa2,#00ffb5,#00ffd3,#00fff9,#00e8ff,#00cbff,#00aeff,#0092ff,#007aff,#0066ff,#0056ff,#004cff,#0045ff,#0044ff)"></i><i style="background:linear-gradient(90deg,#004fff,#0050ff,#005bff,#006aff,#007eff,#0096ff,#00b1ff,#00c9ff,#00c6ff,#0086ff,#0056ff,#00a6ff,#00ffd2,#00ff7a,#00ff64,#00ff62,#00ff6b,#00ff80,#00ffa0,#00ffc9,#00fff9,#00e2ff,#00c1ff,#00a2ff,#0086ff,#006eff,#005cff,#0050ff,#0047ff,#0047ff)"></i><i style="background:linear-gradient(90deg,#0054ff,#0055ff,#0063ff,#0075ff,#008cff,#00a8ff,#00c6ff,#00e1ff,#00dbff,#008dff,#0052ff,#00adff,#00ffaa,#00ff47,#00ff2f,#00ff2d,#00ff37,#00ff4c,#00ff6d,#00ff99,#00ffcd,#00faff,#00d6ff,#00b2ff,#0092ff,#0077ff,#0063ff,#0054ff,#004aff,#0049ff)"></i><i style="background:linear-gradient(90deg,#0059ff,#005bff,#006bff,#0081ff,#009bff,#00baff,#00dcff,#00fbff,#00ffff,#00c9ff,#00a0ff,#00eeff,#00ff66,#00ff13,#02ff00,#05ff00,#00ff05,#00ff1a,#00ff3c,#00ff69,#00ffa0,#00ffdf,#00eaff,#00c3ff,#009fff,#0081ff,#0069ff,#0058ff,#004dff,#004bff)"></i><i style="background:linear-gradient(90deg,#005fff,#0061ff,#0074ff,#008dff,#00abff,#00cdff,#00f2ff,#00ffda,#00ffb9,#00ffcf,#00ffde,#00ff86,#00ff16,#20ff00,#32ff00,#35ff00,#2cff00,#18ff00,#00ff09,#00ff37,#00ff71,#00ffb5,#00fffe,#00d5ff,#00adff,#008bff,#0070ff,#005cff,#004fff,#004eff)"></i><i style="background:linear-gradient(90deg,#0066ff,#0068ff,#007eff,#0099ff,#00baff,#00e0ff,#00fff1,#00ffb1,#00ff7c,#00ff60,#00ff47,#00ff0e,#2eff00,#51ff00,#61ff00,#67ff00,#61ff00,#4fff00,#2eff00,#00ff02,#00ff40,#00ff89,#00ffd8,#00e7ff,#00bbff,#0095ff,#0077ff,#0061ff,#0052ff,#0050ff)"></i><i style="background:linear-gradient(90deg,#006cff,#006fff,#0087ff,#00a6ff,#00caff,#00f2ff,#00ffd0,#00ff8b,#00ff4d,#00ff1b,#11ff00,#3eff00,#66ff00,#82ff00,#95ff00,#9fff00,#9eff00,#8eff00,#6dff00,#3aff00,#00ff0a,#00ff5a,#00ffb1,#00f9ff,#00c8ff,#009eff,#007dff,#0065ff,#0054ff,#0053ff)"></i><i style="background:linear-gradient(90deg,#0073ff,#0076ff,#0090ff,#00b1ff,#00d8ff,#00fffa,#00ffb0,#00ff69,#00ff27,#13ff00,#46ff00,#73ff00,#9aff00,#bbff00,#d4ff00,#e5ff00,#e7ff00,#d9ff00,#b5ff00,#7cff00,#30ff00,#00ff2a,#00ff8b,#00ffec,#00d5ff,#00a7ff,#0083ff,#0068ff,#0057ff,#0055ff)"></i><i style="background:linear-gradient(90deg,#0079ff,#007cff,#0099ff,#00bcff,#00e5ff,#00ffe0,#00ff94,#00ff4a,#00ff04,#3bff00,#74ff00,#a7ff00,#d6ff00,#ffff00,#ffea00,#ffdd00,#ffd900,#ffe300,#fffc00,#c2ff00,#6aff00,#04ff00,#00ff68,#00ffd3,#00dfff,#00aeff,#0087ff,#006bff,#0059ff,#0057ff)"></i><i style="background:linear-gradient(90deg,#007fff,#0082ff,#00a1ff,#00c6ff,#00f1ff,#00ffc9,#00ff79,#00ff2c,#1eff00,#63ff00,#a4ff00,#e2ff00,#ffee00,#ffce00,#ffb400,#ffa400,#ffa100,#ffae00,#ffcd00,#fffd00,#9dff00,#2bff00,#00ff4d,#00ffc0,#00e7ff,#00b3ff,#008bff,#006eff,#005aff,#0058ff)"></i><i style="background:linear-gradient(90deg,#0084ff,#0088ff,#00a8ff,#00cfff,#00fcff,#00ffb4,#00ff61,#00ff0f,#40ff00,#8eff00,#d9ff00,#ffe900,#ffbf00,#ff9a00,#ff7d00,#ff6c00,#ff6c00,#ff8000,#ffa700,#ffdf00,#c2ff00,#44ff00,#00ff3c,#00ffb5,#00ebff,#00b6ff,#008dff,#006fff,#005bff,#0059ff)"></i><i style="background:linear-gradient(90deg,#0088ff,#008cff,#00aeff,#00d7ff,#00fff5,#00ffa1,#00ff4b,#0cff00,#62ff00,#b8ff00,#fff500,#ffc300,#ff9300,#ff6b00,#ff4d00,#ff4000,#ff4600,#ff6200,#ff9100,#ffd100,#d1ff00,#4dff00,#00ff37,#00ffb2,#00ecff,#00b6ff,#008dff,#006fff,#005bff,#0059ff)"></i><i style="background:linear-gradient(90deg,#008cff,#0090ff,#00b3ff,#00ddff,#00ffe8,#00ff92,#00ff38,#24ff00,#81ff00,#dfff00,#ffda00,#ffa300,#ff7200,#ff4a00,#ff3100,#ff2a00,#ff3800,#ff5b00,#ff9100,#ffd400,#c9ff00,#45ff00,#00ff3f,#00ffba,#00e8ff,#00b3ff,#008aff,#006dff,#005aff,#0058ff)"></i><i style="background:linear-gradient(90deg,#008fff,#0093ff,#00b7ff,#00e2ff,#00ffdd,#00ff84,#00ff27,#38ff00,#98ff00,#f9ff00,#ffc900,#ff9200,#ff6400,#ff4100,#ff2f00,#ff3100,#ff4600,#ff6f00,#ffa600,#ffe900,#a8ff00,#29ff00,#00ff57,#00ffcf,#00ddff,#00aaff,#0084ff,#0069ff,#0058ff,#0056ff)"></i><i style="background:linear-gradient(90deg,#0091ff,#0095ff,#00baff,#00e6ff,#00ffd4,#00ff7a,#00ff1d,#41ff00,#a0ff00,#feff00,#ffc900,#ff9700,#ff6f00,#ff5500,#ff4b00,#ff5400,#ff6f00,#ff9900,#ffcf00,#e7ff00,#76ff00,#00ff01,#00ff7a,#00ffed,#00ceff,#009fff,#007cff,#0064ff,#0055ff,#0054ff)"></i><i style="background:linear-gradient(90deg,#0091ff,#0095ff,#00baff,#00e7ff,#00ffd3,#00ff79,#00ff1f,#39ff00,#90ff00,#e5ff00,#ffde00,#ffb400,#ff9500,#ff8300,#ff8100,#ff8f00,#ffab00,#ffd300,#f9ff00,#9eff00,#3bff00,#00ff30,#00ffa1,#00f5ff,#00bdff,#0091ff,#0072ff,#005eff,#0052ff,#0051ff)"></i><i style="background:linear-gradient(90deg,#008eff,#0092ff,#00b7ff,#00e4ff,#00ffd8,#00ff81,#00ff2d,#21ff00,#6bff00,#b1ff00,#f2ff00,#ffe600,#ffd000,#ffc600,#ffc900,#ffd800,#fff200,#ddff00,#9cff00,#53ff00,#00ff00,#00ff5d,#00ffc7,#00e1ff,#00acff,#0084ff,#0069ff,#0058ff,#004fff,#004eff)"></i><i style="background:linear-gradient(90deg,#0089ff,#008dff,#00b1ff,#00deff,#00ffe2,#00ff8f,#00ff44,#00ff04,#34ff00,#67ff00,#96ff00,#bbff00,#d4ff00,#dcff00,#d3ff00,#bbff00,#98ff00,#6eff00,#41ff00,#0cff00,#00ff35,#00ff84,#00ffe7,#00d0ff,#009cff,#0077ff,#0060ff,#0053ff,#004cff,#004cff)"></i><i style="background:linear-gradient(90deg,#0083ff,#0087ff,#00abff,#00d8ff,#00ffee,#00ff9f,#00ff60,#00ff31,#00ff0e,#10ff00,#2cff00,#43ff00,#51ff00,#52ff00,#49ff00,#36ff00,#1eff00,#06ff00,#00ff14,#00ff33,#00ff60,#00ffa1,#00fffd,#00c4ff,#0091ff,#006eff,#005aff,#004fff,#004aff,#004aff)"></i><i style="background:linear-gradient(90deg,#007dff,#0081ff,#00a4ff,#00d2ff,#00fff9,#00ffb0,#00ff7c,#00ff60,#00ff53,#00ff4a,#00ff40,#00ff36,#00ff31,#00ff32,#00ff3a,#00ff46,#00ff52,#00ff59,#00ff5e,#00ff67,#00ff80,#00ffb1,#00faff,#00bdff,#0089ff,#0068ff,#0055ff,#004dff,#0049ff,#0049ff)"></i><i style="background:linear-gradient(90deg,#0078ff,#007cff,#009fff,#00ccff,#00fdff,#00ffbf,#00ff97,#00ff8c,#00ff93,#00ff9f,#00ffa8,#00ffae,#00ffb3,#00ffb8,#00ffbc,#00ffbc,#00ffb7,#00ffab,#00ff99,#00ff8c,#00ff91,#00ffb6,#00faff,#00bcff,#0086ff,#0064ff,#0053ff,#004cff,#0049ff,#0049ff)"></i><i style="background:linear-gradient(90deg,#0076ff,#0079ff,#009cff,#00c9ff,#00f8ff,#00ffcd,#00ffae,#00ffb2,#00ffcc,#00fff2,#00ebff,#00cbff,#00afff,#00a4ff,#00b0ff,#00cbff,#00e9ff,#00fff3,#00ffc6,#00ffa3,#00ff97,#00ffaf,#00ffff,#00bfff,#0087ff,#0063ff,#0052ff,#004bff,#0049ff,#0049ff)"></i><i style="background:linear-gradient(90deg,#0076ff,#007aff,#009cff,#00c8ff,#00f5ff,#00ffd6,#00ffbe,#00ffcb,#00fff6,#00dbff,#009cff,#004dff,#0005ff,#0000ec,#0011ff,#005bff,#00a7ff,#00e3ff,#00ffe1,#00ffab,#00ff91,#00ffa2,#00fff1,#00c4ff,#008aff,#0065ff,#0053ff,#004cff,#0049ff,#0049ff)"></i><i style="background:linear-gradient(90deg,#007bff,#007fff,#00a0ff,#00caff,#00f6ff,#00ffd8,#00ffc2,#00ffd0,#00fffa,#00dbff,#00a2ff,#005bff,#001bff,#0004ff,#0023ff,#0065ff,#00aaff,#00e3ff,#00ffde,#00ffa2,#00ff83,#00ff91,#00ffe2,#00cbff,#008eff,#0067ff,#0054ff,#004dff,#004aff,#004aff)"></i><i style="background:linear-gradient(90deg,#0086ff,#008aff,#00abff,#00d4ff,#00fdff,#00ffce,#00ffb7,#00ffbe,#00ffd9,#00fffe,#00e6ff,#00cbff,#00b4ff,#00a9ff,#00afff,#00c3ff,#00deff,#00ffff,#00ffc2,#00ff8c,#00ff70,#00ff80,#00ffd4,#00d2ff,#0093ff,#006aff,#0056ff,#004eff,#004bff,#004bff)"></i><i style="background:linear-gradient(90deg,#0098ff,#009cff,#00bdff,#00e5ff,#00ffe8,#00ffb4,#00ff98,#00ff96,#00ffa5,#00ffb9,#00ffcd,#00ffde,#00ffed,#00fffa,#00feff,#00fffe,#00ffed,#00ffca,#00ff9a,#00ff6e,#00ff59,#00ff70,#00ffc7,#00d8ff,#0098ff,#006fff,#0059ff,#0050ff,#004dff,#004cff)"></i><i style="background:linear-gradient(90deg,#00b1ff,#00b5ff,#00d8ff,#00ffff,#00ffbd,#00ff88,#00ff66,#00ff59,#00ff5c,#00ff66,#00ff72,#00ff7e,#00ff8b,#00ff99,#00ffa5,#00ffaa,#00ffa2,#00ff8a,#00ff67,#00ff47,#00ff3f,#00ff5e,#00ffb9,#00e0ff,#009fff,#0074ff,#005dff,#0053ff,#004fff,#004eff)"></i><i style="background:linear-gradient(90deg,#00cfff,#00d4ff,#00faff,#00ffc4,#00ff81,#00ff48,#00ff20,#00ff09,#00ff00,#00ff01,#00ff07,#00ff11,#00ff1f,#00ff30,#00ff40,#00ff4b,#00ff4b,#00ff3e,#00ff2a,#00ff1a,#00ff1f,#00ff48,#00ffa9,#00e9ff,#00a8ff,#007cff,#0063ff,#0057ff,#0051ff,#0050ff)"></i><i style="background:linear-gradient(90deg,#00f2ff,#00f8ff,#00ffc5,#00ff7c,#00ff35,#08ff00,#39ff00,#59ff00,#6cff00,#73ff00,#72ff00,#68ff00,#59ff00,#45ff00,#30ff00,#1eff00,#15ff00,#15ff00,#1bff00,#1bff00,#07ff00,#00ff2d,#00ff93,#00f5ff,#00b3ff,#0085ff,#006aff,#005bff,#0054ff,#0053ff)"></i><i style="background:linear-gradient(90deg,#00ffd5,#00ffcb,#00ff7c,#00ff2c,#22ff00,#67ff00,#a0ff00,#caff00,#e6ff00,#f4ff00,#f5ff00,#ebff00,#d9ff00,#c0ff00,#a4ff00,#8bff00,#78ff00,#6cff00,#63ff00,#54ff00,#32ff00,#00ff0d,#00ff79,#00fff9,#00bfff,#008fff,#0071ff,#0060ff,#0057ff,#0056ff)"></i><i style="background:linear-gradient(90deg,#00ff96,#00ff8b,#00ff32,#28ff00,#7fff00,#cfff00,#fff400,#ffd500,#ffbf00,#ffb400,#ffb300,#ffba00,#ffc700,#ffda00,#ffef00,#f8ff00,#daff00,#c2ff00,#acff00,#8eff00,#5fff00,#16ff00,#00ff5c,#00ffdf,#00ccff,#0099ff,#0078ff,#0065ff,#005aff,#0059ff)"></i><i style="background:linear-gradient(90deg,#00ff5d,#00ff50,#13ff00,#79ff00,#dbff00,#ffdf00,#ffb000,#ff8b00,#ff7100,#ff6300,#ff6100,#ff6a00,#ff7b00,#ff9300,#ffad00,#ffc700,#ffdf00,#fff400,#edff00,#c3ff00,#89ff00,#37ff00,#00ff41,#00ffc8,#00d8ff,#00a2ff,#007fff,#006aff,#005dff,#005cff)"></i><i style="background:linear-gradient(90deg,#00ff30,#00ff22,#4cff00,#bbff00,#ffe600,#ffaa00,#ff7500,#ff4a00,#ff2d00,#ff1d00,#ff1b00,#ff2600,#ff3a00,#ff5600,#ff7600,#ff9600,#ffb400,#ffcf00,#ffeb00,#ecff00,#a9ff00,#50ff00,#00ff2c,#00ffb6,#00e1ff,#00a9ff,#0084ff,#006eff,#0060ff,#005fff)"></i><i style="background:linear-gradient(90deg,#00ff14,#00ff05,#6fff00,#e6ff00,#ffc800,#ff8700,#ff4d00,#ff1f00,#fd0000,#ee0000,#ec0000,#f70000,#ff0e00,#ff2e00,#ff5100,#ff7600,#ff9900,#ffba00,#ffda00,#fffe00,#b7ff00,#5aff00,#00ff24,#00ffae,#00e5ff,#00adff,#0087ff,#0070ff,#0061ff,#0060ff)"></i><i style="background:linear-gradient(90deg,#00ff0e,#01ff00,#77ff00,#f1ff00,#ffc000,#ff7d00,#ff4200,#ff1200,#f00000,#df0000,#de0000,#e90000,#ff0100,#ff2200,#ff4700,#ff6e00,#ff9400,#ffb700,#ffdb00,#fbff00,#afff00,#50ff00,#00ff2c,#00ffb3,#00e4ff,#00adff,#0088ff,#0070ff,#0062ff,#0061ff)"></i><i style="background:linear-gradient(90deg,#00ff1e,#00ff0f,#64ff00,#daff00,#ffd000,#ff8f00,#ff5500,#ff2600,#ff0500,#f30000,#f10000,#fc0000,#ff1500,#ff3500,#ff5a00,#ff8000,#ffa600,#ffc900,#ffee00,#daff00,#8eff00,#32ff00,#00ff45,#00ffc5,#00deff,#00a9ff,#0086ff,#006fff,#0062ff,#0060ff)"></i><i style="background:linear-gradient(90deg,#00ff42,#00ff34,#37ff00,#a4ff00,#fff500,#ffb900,#ff8400,#ff5800,#ff3a00,#ff2900,#ff2700,#ff3100,#ff4700,#ff6400,#ff8600,#ffa900,#ffcc00,#ffee00,#e0ff00,#a1ff00,#58ff00,#00ff00,#00ff6d,#00ffe2,#00d2ff,#00a2ff,#0082ff,#006dff,#0060ff,#005fff)"></i><i style="background:linear-gradient(90deg,#00ff75,#00ff69,#00ff09,#59ff00,#b9ff00,#fff400,#ffc500,#ff9f00,#ff8400,#ff7500,#ff7300,#ff7b00,#ff8d00,#ffa600,#ffc300,#ffe200,#faff00,#c5ff00,#8fff00,#53ff00,#0fff00,#00ff40,#00ffa2,#00f9ff,#00c2ff,#0098ff,#007cff,#006aff,#005fff,#005eff)"></i><i style="background:linear-gradient(90deg,#00ffb1,#00ffa6,#00ff53,#02ff00,#54ff00,#a1ff00,#e3ff00,#ffef00,#ffd800,#ffcb00,#ffc900,#ffcf00,#ffde00,#fff200,#ecff00,#c0ff00,#91ff00,#62ff00,#30ff00,#00ff07,#00ff44,#00ff8a,#00ffde,#00deff,#00b0ff,#008dff,#0075ff,#0066ff,#005dff,#005cff)"></i><i style="background:linear-gradient(90deg,#00ffea,#00ffe1,#00ff9a,#00ff52,#00ff0d,#33ff00,#6bff00,#99ff00,#b9ff00,#ccff00,#d1ff00,#c8ff00,#b6ff00,#9aff00,#78ff00,#52ff00,#29ff00,#00ff01,#00ff2e,#00ff5f,#00ff94,#00ffd0,#00f1ff,#00c6ff,#00a1ff,#0085ff,#0071ff,#0065ff,#005eff,#005dff)"></i><i style="background:linear-gradient(90deg,#00fffe,#00fff6,#00ffbc,#00ff80,#00ff46,#00ff11,#1eff00,#44ff00,#60ff00,#70ff00,#74ff00,#6eff00,#5fff00,#48ff00,#2cff00,#0bff00,#00ff18,#00ff3e,#00ff66,#00ff90,#00ffbe,#00fff0,#00e7ff,#00c5ff,#00a8ff,#0093ff,#0084ff,#007bff,#0075ff,#0075ff)"></i><i style="background:linear-gradient(90deg,#00f7ff,#00faff,#00ffd8,#00ffa8,#00ff78,#00ff4c,#00ff25,#00ff06,#11ff00,#1fff00,#23ff00,#1fff00,#13ff00,#00ff00,#00ff18,#00ff34,#00ff53,#00ff74,#00ff97,#00ffbb,#00ffe0,#00faff,#00e0ff,#00c7ff,#00b2ff,#00a2ff,#0097ff,#0091ff,#008dff,#008dff)"></i><i style="background:linear-gradient(90deg,#00f2ff,#00f5ff,#00ffec,#00ffc6,#00ffa1,#00ff7d,#00ff5e,#00ff44,#00ff31,#00ff25,#00ff21,#00ff25,#00ff2f,#00ff3f,#00ff53,#00ff6a,#00ff85,#00ffa0,#00ffbd,#00ffda,#00fff7,#00f2ff,#00dfff,#00cdff,#00beff,#00b3ff,#00acff,#00a8ff,#00a5ff,#00a5ff)"></i><i style="background:linear-gradient(90deg,#00e9ff,#00ebff,#00fbff,#00ffe9,#00ffcd,#00ffb1,#00ff99,#00ff84,#00ff75,#00ff6c,#00ff69,#00ff6c,#00ff74,#00ff80,#00ff90,#00ffa4,#00ffb9,#00ffce,#00ffe5,#00fffb,#00f4ff,#00e8ff,#00dbff,#00cfff,#00c5ff,#00beff,#00b9ff,#00b6ff,#00b5ff,#00b5ff)"></i><i style="background:linear-gradient(90deg,#00d6ff,#00d7ff,#00e2ff,#00eeff,#00faff,#00fff3,#00ffe1,#00ffd2,#00ffc7,#00ffc0,#00ffbd,#00ffbf,#00ffc5,#00ffcf,#00ffdb,#00ffea,#00fffa,#00f8ff,#00efff,#00e5ff,#00dcff,#00d4ff,#00cbff,#00c4ff,#00beff,#00b9ff,#00b7ff,#00b5ff,#00b4ff,#00b4ff)"></i><i style="background:linear-gradient(90deg,#00c8ff,#00c9ff,#00d0ff,#00d7ff,#00dfff,#00e7ff,#00efff,#00f5ff,#00faff,#00fdff,#00feff,#00fdff,#00faff,#00f6ff,#00f1ff,#00ebff,#00e5ff,#00deff,#00d7ff,#00d1ff,#00cbff,#00c6ff,#00c1ff,#00bdff,#00b9ff,#00b6ff,#00b5ff,#00b4ff,#00b4ff,#00b3ff)"></i><i style="background:linear-gradient(90deg,#00b1ff,#00b2ff,#00b6ff,#00bbff,#00bfff,#00c4ff,#00c9ff,#00cdff,#00d0ff,#00d2ff,#00d3ff,#00d2ff,#00d1ff,#00ceff,#00cbff,#00c7ff,#00c2ff,#00beff,#00baff,#00b7ff,#00b3ff,#00b0ff,#00adff,#00abff,#00a9ff,#00a8ff,#00a7ff,#00a6ff,#00a6ff,#00a6ff)"></i><i style="background:linear-gradient(90deg,#0092ff,#0092ff,#0094ff,#0097ff,#009aff,#009cff,#009fff,#00a2ff,#00a3ff,#00a5ff,#00a5ff,#00a5ff,#00a4ff,#00a2ff,#00a0ff,#009eff,#009bff,#0099ff,#0097ff,#0095ff,#0093ff,#0091ff,#0090ff,#008eff,#008eff,#008dff,#008cff,#008cff,#008cff,#008cff)"></i><i style="background:linear-gradient(90deg,#0075ff,#0075ff,#0076ff,#0077ff,#0079ff,#007aff,#007cff,#007dff,#007eff,#007fff,#007fff,#007fff,#007eff,#007dff,#007cff,#007bff,#007aff,#0078ff,#0077ff,#0076ff,#0075ff,#0075ff,#0074ff,#0073ff,#0073ff,#0073ff,#0072ff,#0072ff,#0072ff,#0072ff)"></i><i style="background:linear-gradient(90deg,#005aff,#005aff,#005aff,#005bff,#005bff,#005cff,#005dff,#005dff,#005eff,#005eff,#005eff,#005eff,#005eff,#005dff,#005dff,#005cff,#005cff,#005bff,#005bff,#005aff,#005aff,#005aff,#0059ff,#0059ff,#0059ff,#0059ff,#0059ff,#0059ff,#0059ff,#0059ff)"></i><i style="background:linear-gradient(90deg,#004bff,#004bff,#004bff,#004cff,#004cff,#004cff,#004cff,#004dff,#004dff,#004dff,#004dff,#004dff,#004dff,#004dff,#004dff,#004cff,#004cff,#004cff,#004cff,#004bff,#004bff,#004bff,#004bff,#004bff,#004bff,#004bff,#004bff,#004bff,#004bff,#004bff)"></i><i style="background:linear-gradient(90deg,#0042ff,#0042ff,#0042ff,#0042ff,#0042ff,#0042ff,#0042ff,#0042ff,#0042ff,#0042ff,#0042ff,#0042ff,#0042ff,#0042ff,#0042ff,#0042ff,#0042ff,#0042ff,#0042ff,#0042ff,#0042ff,#0042ff,#0042ff,#0042ff,#0042ff,#0042ff,#0042ff,#0042ff,#0042ff,#0042ff)"></i><i style="background:linear-gradient(90deg,#0038ff,#0038ff,#0039ff,#0039ff,#0039ff,#0039ff,#0039ff,#0039ff,#0039ff,#0039ff,#0039ff,#0039ff,#0039ff,#0039ff,#0039ff,#0039ff,#0039ff,#0039ff,#0039ff,#0039ff,#0038ff,#0038ff,#0038ff,#0038ff,#0038ff,#0038ff,#0038ff,#0038ff,#0038ff,#0038ff)"></i><i style="background:linear-gradient(90deg,#002fff,#002fff,#002fff,#002fff,#002fff,#002fff,#002fff,#002fff,#002fff,#002fff,#002fff,#002fff,#002fff,#002fff,#002fff,#002fff,#002fff,#002fff,#002fff,#002fff,#002fff,#002fff,#002fff,#002fff,#002fff,#002fff,#002fff,#002fff,#002fff,#002fff)"></i><i style="background:linear-gradient(90deg,#0026ff,#0026ff,#0026ff,#0026ff,#0026ff,#0026ff,#0026ff,#0026ff,#0026ff,#0026ff,#0026ff,#0026ff,#0026ff,#0026ff,#0026ff,#0026ff,#0026ff,#0026ff,#0026ff,#0026ff,#0026ff,#0026ff,#0026ff,#0026ff,#0026ff,#0026ff,#0026ff,#0026ff,#0026ff,#0026ff)"></i><i style="background:linear-gradient(90deg,#0020ff,#0020ff,#0020ff,#0020ff,#0020ff,#0020ff,#0020ff,#0020ff,#0020ff,#0020ff,#0020ff,#0020ff,#0020ff,#0020ff,#0020ff,#0020ff,#0020ff,#0020ff,#0020ff,#0020ff,#0020ff,#0020ff,#0020ff,#0020ff,#0020ff,#0020ff,#0020ff,#0020ff,#0020ff,#0020ff)"></i><i style="background:linear-gradient(90deg,#001bff,#001bff,#001bff,#001bff,#001bff,#001bff,#001bff,#001bff,#001bff,#001bff,#001bff,#001bff,#001bff,#001bff,#001bff,#001bff,#001bff,#001bff,#001bff,#001bff,#001bff,#001bff,#001bff,#001bff,#001bff,#001bff,#001bff,#001bff,#001bff,#001bff)"></i><i style="background:linear-gradient(90deg,#0015ff,#0015ff,#0015ff,#0015ff,#0015ff,#0015ff,#0015ff,#0015ff,#0015ff,#0015ff,#0015ff,#0015ff,#0015ff,#0015ff,#0015ff,#0015ff,#0015ff,#0015ff,#0015ff,#0015ff,#0015ff,#0015ff,#0015ff,#0015ff,#0015ff,#0015ff,#0015ff,#0015ff,#0015ff,#0015ff)"></i><i style="background:linear-gradient(90deg,#000fff,#000fff,#000fff,#000fff,#000fff,#000fff,#000fff,#000fff,#000fff,#000fff,#000fff,#000fff,#000fff,#000fff,#000fff,#000fff,#000fff,#000fff,#000fff,#000fff,#000fff,#000fff,#000fff,#000fff,#000fff,#000fff,#000fff,#000fff,#000fff,#000fff)"></i><i style="background:linear-gradient(90deg,#0009ff,#0009ff,#0009ff,#0009ff,#0009ff,#0009ff,#0009ff,#0009ff,#0009ff,#0009ff,#0009ff,#0009ff,#0009ff,#0009ff,#0009ff,#0009ff,#0009ff,#0009ff,#0009ff,#0009ff,#0009ff,#0009ff,#0009ff,#0009ff,#0009ff,#0009ff,#0009ff,#0009ff,#0009ff,#0009ff)"></i><i style="background:linear-gradient(90deg,#0005ff,#0005ff,#0005ff,#0005ff,#0005ff,#0005ff,#0005ff,#0005ff,#0005ff,#0005ff,#0005ff,#0005ff,#0005ff,#0005ff,#0005ff,#0005ff,#0005ff,#0005ff,#0005ff,#0005ff,#0005ff,#0005ff,#0005ff,#0005ff,#0005ff,#0005ff,#0005ff,#0005ff,#0005ff,#0005ff)"></i><i style="background:linear-gradient(90deg,#0005ff,#0005ff,#0005ff,#0005ff,#0005ff,#0005ff,#0005ff,#0005ff,#0005ff,#0005ff,#0005ff,#0005ff,#0005ff,#0005ff,#0005ff,#0005ff,#0005ff,#0005ff,#0005ff,#0005ff,#0005ff,#0005ff,#0005ff,#0005ff,#0005ff,#0005ff,#0005ff,#0005ff,#0005ff,#0005ff)"></i></div></div>
<div class="hm" style="left:26px;top:204px;width:153px;height:135px"><div style="left:-4px;top:-4px;width:161px"><i style="background:linear-gradient(90deg,#0018ff,#0018ff,#0017ff,#0018ff,#001cff,#0020ff,#0026ff,#002bff,#0030ff,#0035ff,#0039ff,#003eff,#0044ff,#004cff,#0054ff,#005bff,#0060ff,#0061ff,#005fff,#005aff,#0053ff,#004cff,#0046ff,#0041ff,#003eff,#003dff,#003cff,#003cff,#003cff,#003cff)"></i><i style="background:linear-gradient(90deg,#0018ff,#0018ff,#0017ff,#0018ff,#001cff,#0020ff,#0026ff,#002bff,#0030ff,#0035ff,#0039ff,#003eff,#0044ff,#004cff,#0054ff,#005bff,#0060ff,#0061ff,#005fff,#005aff,#0053ff,#004cff,#0046ff,#0041ff,#003eff,#003dff,#003cff,#003cff,#003cff,#003cff)"></i><i style="background:linear-gradient(90deg,#0016ff,#0015ff,#0014ff,#0016ff,#001aff,#001fff,#0025ff,#002aff,#0030ff,#0034ff,#0039ff,#003fff,#0046ff,#0050ff,#0059ff,#0062ff,#0067ff,#0068ff,#0066ff,#0060ff,#0058ff,#0050ff,#0048ff,#0043ff,#003fff,#003dff,#003cff,#003cff,#003cff,#003cff)"></i><i style="background:linear-gradient(90deg,#0013ff,#0012ff,#0011ff,#0013ff,#0017ff,#001cff,#0023ff,#0029ff,#002fff,#0035ff,#003aff,#0042ff,#004bff,#0057ff,#0063ff,#006eff,#0075ff,#0076ff,#0073ff,#006cff,#0062ff,#0057ff,#004eff,#0046ff,#0041ff,#003eff,#003dff,#003dff,#003cff,#003cff)"></i><i style="background:linear-gradient(90deg,#0010ff,#000fff,#000eff,#0010ff,#0014ff,#001aff,#0021ff,#0028ff,#002eff,#0035ff,#003cff,#0045ff,#0051ff,#0060ff,#006fff,#007cff,#0085ff,#0087ff,#0082ff,#007aff,#006dff,#0060ff,#0054ff,#004aff,#0043ff,#0040ff,#003eff,#003dff,#003dff,#003dff)"></i><i style="background:linear-gradient(90deg,#000dff,#000cff,#000bff,#000dff,#0012ff,#0018ff,#0020ff,#0027ff,#002eff,#0035ff,#003eff,#0049ff,#0059ff,#006bff,#007dff,#008dff,#0096ff,#0099ff,#0094ff,#0089ff,#007bff,#006bff,#005bff,#004fff,#0046ff,#0041ff,#003fff,#003eff,#003dff,#003dff)"></i><i style="background:linear-gradient(90deg,#000bff,#000aff,#0009ff,#000bff,#0010ff,#0017ff,#001fff,#0027ff,#002eff,#0036ff,#0041ff,#004fff,#0061ff,#0077ff,#008dff,#009fff,#00aaff,#00acff,#00a7ff,#009bff,#008aff,#0077ff,#0064ff,#0055ff,#004aff,#0043ff,#0040ff,#003eff,#003eff,#003eff)"></i><i style="background:linear-gradient(90deg,#000bff,#000aff,#0008ff,#000bff,#0010ff,#0016ff,#001eff,#0027ff,#002fff,#0038ff,#0044ff,#0054ff,#006bff,#0084ff,#009dff,#00b2ff,#00beff,#00c1ff,#00bbff,#00adff,#009aff,#0084ff,#006eff,#005bff,#004eff,#0045ff,#0041ff,#003fff,#003eff,#003eff)"></i><i style="background:linear-gradient(90deg,#000bff,#000aff,#0009ff,#000bff,#0010ff,#0017ff,#001fff,#0027ff,#0030ff,#003aff,#0048ff,#005bff,#0075ff,#0093ff,#00afff,#00c6ff,#00d3ff,#00d6ff,#00d0ff,#00c1ff,#00abff,#0092ff,#0079ff,#0063ff,#0052ff,#0048ff,#0042ff,#0040ff,#003fff,#003fff)"></i><i style="background:linear-gradient(90deg,#000cff,#000bff,#000aff,#000cff,#0011ff,#0018ff,#0020ff,#0028ff,#0031ff,#003cff,#004cff,#0063ff,#0081ff,#00a2ff,#00c1ff,#00daff,#00e8ff,#00ecff,#00e4ff,#00d5ff,#00bdff,#00a1ff,#0084ff,#006bff,#0057ff,#004bff,#0044ff,#0041ff,#0040ff,#0040ff)"></i><i style="background:linear-gradient(90deg,#000dff,#000dff,#000bff,#000dff,#0012ff,#0019ff,#0021ff,#0029ff,#0033ff,#003fff,#0051ff,#006bff,#008dff,#00b2ff,#00d4ff,#00eeff,#00fdff,#00fffd,#00f9ff,#00e8ff,#00cfff,#00b1ff,#0091ff,#0073ff,#005dff,#004eff,#0045ff,#0042ff,#0040ff,#0040ff)"></i><i style="background:linear-gradient(90deg,#0010ff,#000fff,#000eff,#0010ff,#0015ff,#001bff,#0023ff,#002bff,#0035ff,#0042ff,#0056ff,#0074ff,#0099ff,#00c2ff,#00e6ff,#00fffc,#00ffe2,#00ffdc,#00ffe9,#00fbff,#00e1ff,#00c0ff,#009dff,#007cff,#0063ff,#0051ff,#0047ff,#0043ff,#0041ff,#0041ff)"></i><i style="background:linear-gradient(90deg,#0014ff,#0013ff,#0012ff,#0014ff,#0018ff,#001eff,#0025ff,#002dff,#0037ff,#0045ff,#005cff,#007dff,#00a6ff,#00d1ff,#00f7ff,#00ffde,#00ffc4,#00ffbe,#00ffcb,#00ffe8,#00f2ff,#00d0ff,#00aaff,#0086ff,#0069ff,#0055ff,#0049ff,#0044ff,#0041ff,#0041ff)"></i><i style="background:linear-gradient(90deg,#0018ff,#0017ff,#0016ff,#0018ff,#001cff,#0021ff,#0028ff,#0030ff,#003aff,#0049ff,#0062ff,#0086ff,#00b3ff,#00e0ff,#00fff1,#00ffc2,#00ffa9,#00ffa4,#00ffb0,#00ffcc,#00fffa,#00deff,#00b6ff,#008fff,#006fff,#0058ff,#004bff,#0045ff,#0042ff,#0042ff)"></i><i style="background:linear-gradient(90deg,#001cff,#001bff,#001bff,#001cff,#0020ff,#0025ff,#002bff,#0032ff,#003cff,#004dff,#0068ff,#008fff,#00bfff,#00eeff,#00ffd8,#00ffaa,#00ff92,#00ff8d,#00ff98,#00ffb4,#00ffe1,#00ecff,#00c2ff,#0099ff,#0075ff,#005cff,#004dff,#0046ff,#0043ff,#0042ff)"></i><i style="background:linear-gradient(90deg,#0021ff,#0020ff,#0020ff,#0021ff,#0024ff,#0029ff,#002eff,#0035ff,#003fff,#0051ff,#006eff,#0098ff,#00caff,#00fbff,#00ffc2,#00ff95,#00ff7e,#00ff7a,#00ff84,#00ff9e,#00ffcb,#00f9ff,#00ceff,#00a1ff,#007bff,#0060ff,#004fff,#0047ff,#0043ff,#0043ff)"></i><i style="background:linear-gradient(90deg,#0026ff,#0025ff,#0025ff,#0026ff,#0029ff,#002dff,#0032ff,#0038ff,#0042ff,#0055ff,#0074ff,#00a1ff,#00d5ff,#00fff2,#00ffaf,#00ff83,#00ff6e,#00ff6a,#00ff73,#00ff8c,#00ffb7,#00fff5,#00d8ff,#00aaff,#0081ff,#0063ff,#0051ff,#0048ff,#0044ff,#0044ff)"></i><i style="background:linear-gradient(90deg,#002bff,#002aff,#002aff,#002bff,#002eff,#0031ff,#0035ff,#0039ff,#0043ff,#0056ff,#0078ff,#00a7ff,#00deff,#00ffe0,#00ff9e,#00ff74,#00ff61,#00ff5e,#00ff66,#00ff7c,#00ffa6,#00ffe4,#00e2ff,#00b1ff,#0087ff,#0067ff,#0053ff,#0049ff,#0045ff,#0044ff)"></i><i style="background:linear-gradient(90deg,#0030ff,#0030ff,#0030ff,#0031ff,#0033ff,#0034ff,#0033ff,#0031ff,#0035ff,#0048ff,#006fff,#00a7ff,#00e4ff,#00ffd2,#00ff8f,#00ff68,#00ff57,#00ff54,#00ff5b,#00ff6f,#00ff97,#00ffd4,#00eaff,#00b8ff,#008cff,#006aff,#0055ff,#004aff,#0045ff,#0045ff)"></i><i style="background:linear-gradient(90deg,#0036ff,#0036ff,#0036ff,#0037ff,#0038ff,#0034ff,#0028ff,#0015ff,#0008ff,#0019ff,#004dff,#0098ff,#00e4ff,#00ffc7,#00ff83,#00ff5d,#00ff4f,#00ff4c,#00ff52,#00ff64,#00ff8a,#00ffc7,#00f1ff,#00beff,#0090ff,#006dff,#0056ff,#004bff,#0046ff,#0046ff)"></i><i style="background:linear-gradient(90deg,#003dff,#003eff,#003fff,#0040ff,#0040ff,#0036ff,#001cff,#0000f2,#0000d4,#0000e0,#0023ff,#0085ff,#00e2ff,#00ffbd,#00ff76,#00ff53,#00ff47,#00ff45,#00ff4a,#00ff5a,#00ff7f,#00ffbb,#00f8ff,#00c4ff,#0094ff,#006fff,#0058ff,#004cff,#0047ff,#0046ff)"></i><i style="background:linear-gradient(90deg,#0048ff,#0049ff,#004cff,#004eff,#004eff,#0044ff,#0027ff,#0000f9,#0000d8,#0000e2,#0028ff,#008dff,#00ebff,#00ffad,#00ff68,#00ff47,#00ff3e,#00ff3e,#00ff41,#00ff51,#00ff75,#00ffb1,#00fdff,#00c8ff,#0097ff,#0071ff,#0059ff,#004dff,#0047ff,#0047ff)"></i><i style="background:linear-gradient(90deg,#0057ff,#0059ff,#005fff,#0064ff,#0067ff,#0062ff,#0051ff,#0035ff,#0021ff,#002fff,#0066ff,#00b6ff,#00fff8,#00ff94,#00ff56,#00ff39,#00ff32,#00ff34,#00ff38,#00ff47,#00ff6b,#00ffa8,#00fffa,#00cbff,#0099ff,#0073ff,#005aff,#004dff,#0048ff,#0047ff)"></i><i style="background:linear-gradient(90deg,#006dff,#0070ff,#007aff,#0083ff,#0089ff,#008bff,#0085ff,#007bff,#0076ff,#0084ff,#00aaff,#00e3ff,#00ffca,#00ff77,#00ff41,#00ff28,#00ff24,#00ff27,#00ff2c,#00ff3c,#00ff61,#00ff9f,#00fff4,#00ceff,#009bff,#0074ff,#005bff,#004eff,#0048ff,#0048ff)"></i><i style="background:linear-gradient(90deg,#008aff,#008fff,#009dff,#00aaff,#00b4ff,#00b9ff,#00b7ff,#00b3ff,#00b2ff,#00bdff,#00d9ff,#00fff6,#00ffa3,#00ff5a,#00ff29,#00ff14,#00ff11,#00ff17,#00ff1f,#00ff32,#00ff59,#00ff99,#00fff0,#00cfff,#009bff,#0074ff,#005bff,#004eff,#0049ff,#0048ff)"></i><i style="background:linear-gradient(90deg,#00abff,#00b1ff,#00c5ff,#00d7ff,#00e4ff,#00eaff,#00e9ff,#00e3ff,#00e0ff,#00e6ff,#00fcff,#00ffc7,#00ff7e,#00ff3c,#00ff0f,#04ff00,#04ff00,#00ff04,#00ff10,#00ff26,#00ff51,#00ff96,#00ffef,#00cfff,#009aff,#0073ff,#005bff,#004eff,#0049ff,#0049ff)"></i><i style="background:linear-gradient(90deg,#00cbff,#00d3ff,#00edff,#00fff9,#00ffdd,#00ffd0,#00ffd3,#00ffe0,#00ffeb,#00ffe8,#00ffcb,#00ff97,#00ff56,#00ff1b,#0dff00,#1eff00,#1cff00,#11ff00,#00ff00,#00ff1b,#00ff4b,#00ff93,#00fff0,#00cdff,#0098ff,#0072ff,#005aff,#004eff,#0049ff,#0049ff)"></i><i style="background:linear-gradient(90deg,#00e5ff,#00efff,#00ffe8,#00ffbd,#00ff9c,#00ff8c,#00ff8d,#00ff9a,#00ffa7,#00ffa7,#00ff91,#00ff65,#00ff2c,#09ff00,#2cff00,#3aff00,#35ff00,#26ff00,#11ff00,#00ff10,#00ff45,#00ff92,#00fff2,#00caff,#0096ff,#0070ff,#0059ff,#004eff,#004aff,#0049ff)"></i><i style="background:linear-gradient(90deg,#00faff,#00fff6,#00ffc0,#00ff90,#00ff6c,#00ff57,#00ff54,#00ff5d,#00ff67,#00ff68,#00ff55,#00ff2f,#01ff00,#2fff00,#4dff00,#56ff00,#4eff00,#3bff00,#20ff00,#00ff06,#00ff40,#00ff91,#00fff5,#00c8ff,#0094ff,#006fff,#0059ff,#004eff,#004aff,#004aff)"></i><i style="background:linear-gradient(90deg,#00ffec,#00ffdb,#00ffa2,#00ff70,#00ff48,#00ff2e,#00ff25,#00ff26,#00ff2b,#00ff28,#00ff17,#09ff00,#32ff00,#58ff00,#6fff00,#73ff00,#67ff00,#4fff00,#2fff00,#03ff00,#00ff3b,#00ff91,#00fff8,#00c5ff,#0091ff,#006dff,#0058ff,#004eff,#004aff,#004aff)"></i><i style="background:linear-gradient(90deg,#00ffd5,#00ffc3,#00ff89,#00ff55,#00ff2a,#00ff0b,#06ff00,#0eff00,#11ff00,#19ff00,#2bff00,#47ff00,#68ff00,#84ff00,#93ff00,#91ff00,#7eff00,#60ff00,#3bff00,#0bff00,#00ff37,#00ff90,#00fff9,#00c4ff,#0090ff,#006cff,#0058ff,#004eff,#004bff,#004aff)"></i><i style="background:linear-gradient(90deg,#00ffbb,#00ffa9,#00ff6f,#00ff39,#00ff0b,#1aff00,#34ff00,#45ff00,#52ff00,#60ff00,#73ff00,#8bff00,#a3ff00,#b5ff00,#baff00,#aeff00,#93ff00,#70ff00,#46ff00,#12ff00,#00ff33,#00ff8e,#00fffa,#00c3ff,#008fff,#006bff,#0058ff,#004fff,#004bff,#004bff)"></i><i style="background:linear-gradient(90deg,#00ff9d,#00ff8a,#00ff4e,#00ff16,#1dff00,#47ff00,#69ff00,#84ff00,#9aff00,#aeff00,#c3ff00,#d6ff00,#e5ff00,#eaff00,#e2ff00,#cbff00,#a8ff00,#7dff00,#4eff00,#18ff00,#00ff2f,#00ff8c,#00fff9,#00c3ff,#008eff,#006bff,#0058ff,#004fff,#004cff,#004bff)"></i><i style="background:linear-gradient(90deg,#00ff78,#00ff65,#00ff25,#17ff00,#4eff00,#80ff00,#aaff00,#ceff00,#ecff00,#fffb00,#ffee00,#ffe600,#ffe400,#ffe900,#fff700,#e8ff00,#baff00,#87ff00,#55ff00,#1cff00,#00ff2c,#00ff88,#00fff6,#00c4ff,#008fff,#006cff,#0058ff,#0050ff,#004cff,#004cff)"></i><i style="background:linear-gradient(90deg,#00ff4e,#00ff3a,#0bff00,#4dff00,#8aff00,#c3ff00,#f5ff00,#ffeb00,#ffd500,#ffc300,#ffb600,#ffb200,#ffb700,#ffc600,#ffdd00,#fffc00,#c9ff00,#8fff00,#58ff00,#1fff00,#00ff29,#00ff85,#00fff2,#00c5ff,#0090ff,#006dff,#0059ff,#0050ff,#004dff,#004cff)"></i><i style="background:linear-gradient(90deg,#00ff21,#00ff0b,#40ff00,#89ff00,#ceff00,#fff600,#ffd400,#ffb500,#ff9c00,#ff8800,#ff7c00,#ff7d00,#ff8b00,#ffa300,#ffc600,#ffee00,#d5ff00,#94ff00,#5aff00,#1fff00,#00ff27,#00ff82,#00ffef,#00c7ff,#0092ff,#006eff,#005aff,#0051ff,#004dff,#004dff)"></i><i style="background:linear-gradient(90deg,#0dff00,#25ff00,#77ff00,#c8ff00,#fff200,#ffc700,#ffa100,#ff7f00,#ff6400,#ff5000,#ff4700,#ff4d00,#ff6300,#ff8600,#ffb300,#ffe400,#dbff00,#94ff00,#57ff00,#1dff00,#00ff28,#00ff81,#00ffed,#00c9ff,#0093ff,#006fff,#005bff,#0051ff,#004eff,#004dff)"></i><i style="background:linear-gradient(90deg,#39ff00,#54ff00,#aeff00,#fffb00,#ffc900,#ff9a00,#ff7100,#ff4e00,#ff3300,#ff2000,#ff1a00,#ff2700,#ff4500,#ff7100,#ffa700,#ffdf00,#daff00,#8eff00,#4fff00,#16ff00,#00ff2c,#00ff83,#00ffed,#00c9ff,#0094ff,#0070ff,#005bff,#0052ff,#004eff,#004eff)"></i><i style="background:linear-gradient(90deg,#61ff00,#7eff00,#dfff00,#ffda00,#ffa400,#ff7300,#ff4800,#ff2500,#ff0c00,#fc0000,#fb0000,#ff0f00,#ff3400,#ff6800,#ffa400,#ffe200,#d0ff00,#80ff00,#42ff00,#0aff00,#00ff36,#00ff89,#00fff1,#00c8ff,#0094ff,#0070ff,#005cff,#0052ff,#004fff,#004eff)"></i><i style="background:linear-gradient(90deg,#81ff00,#a0ff00,#fffb00,#ffbf00,#ff8800,#ff5600,#ff2b00,#ff0b00,#f40000,#eb0000,#ef0000,#ff0700,#ff3300,#ff6c00,#ffac00,#ffed00,#bbff00,#6bff00,#2dff00,#00ff0a,#00ff47,#00ff97,#00fffb,#00c5ff,#0092ff,#006fff,#005cff,#0053ff,#004fff,#004fff)"></i><i style="background:linear-gradient(90deg,#95ff00,#b5ff00,#ffec00,#ffb000,#ff7800,#ff4700,#ff1f00,#ff0200,#f00000,#ec0000,#f50000,#ff1300,#ff4200,#ff7d00,#ffbf00,#fdff00,#9cff00,#4cff00,#0fff00,#00ff26,#00ff61,#00ffad,#00f8ff,#00beff,#008fff,#006eff,#005cff,#0053ff,#0050ff,#004fff)"></i><i style="background:linear-gradient(90deg,#99ff00,#b9ff00,#ffea00,#ffae00,#ff7800,#ff4a00,#ff2500,#ff0d00,#ff0000,#ff0000,#ff0e00,#ff2f00,#ff6000,#ff9b00,#ffdc00,#d1ff00,#73ff00,#26ff00,#00ff16,#00ff4a,#00ff82,#00ffca,#00ebff,#00b6ff,#008aff,#006cff,#005bff,#0053ff,#0050ff,#0050ff)"></i><i style="background:linear-gradient(90deg,#8bff00,#aaff00,#fff400,#ffbb00,#ff8900,#ff5e00,#ff3f00,#ff2b00,#ff2300,#ff2600,#ff3800,#ff5a00,#ff8a00,#ffc300,#ffff00,#9bff00,#42ff00,#00ff08,#00ff42,#00ff74,#00ffab,#00ffed,#00dbff,#00abff,#0084ff,#0069ff,#005aff,#0053ff,#0050ff,#0050ff)"></i><i style="background:linear-gradient(90deg,#6bff00,#88ff00,#e8ff00,#ffd800,#ffa900,#ff8400,#ff6900,#ff5900,#ff5500,#ff5b00,#ff6d00,#ff8f00,#ffbc00,#fff000,#bbff00,#5fff00,#0cff00,#00ff3a,#00ff73,#00ffa4,#00ffd7,#00f3ff,#00c9ff,#009fff,#007dff,#0066ff,#0059ff,#0053ff,#0051ff,#0050ff)"></i><i style="background:linear-gradient(90deg,#3aff00,#55ff00,#acff00,#fdff00,#ffd700,#ffb700,#ffa000,#ff9300,#ff9100,#ff9900,#ffab00,#ffc900,#fff200,#c6ff00,#73ff00,#1fff00,#00ff2e,#00ff70,#00ffa6,#00ffd6,#00fbff,#00dbff,#00b6ff,#0093ff,#0076ff,#0063ff,#0058ff,#0053ff,#0051ff,#0051ff)"></i><i style="background:linear-gradient(90deg,#00ff05,#13ff00,#62ff00,#a9ff00,#e5ff00,#fff200,#ffdf00,#ffd500,#ffd400,#ffdb00,#ffeb00,#f4ff00,#b8ff00,#73ff00,#29ff00,#00ff22,#00ff69,#00ffa7,#00ffdb,#00faff,#00dfff,#00c3ff,#00a4ff,#0087ff,#006fff,#0060ff,#0057ff,#0053ff,#0051ff,#0051ff)"></i><i style="background:linear-gradient(90deg,#00ff4c,#00ff37,#0dff00,#4bff00,#80ff00,#a9ff00,#c5ff00,#d4ff00,#d6ff00,#ccff00,#b6ff00,#8fff00,#5cff00,#20ff00,#00ff21,#00ff64,#00ffa5,#00ffde,#00f6ff,#00ddff,#00c5ff,#00adff,#0094ff,#007cff,#0069ff,#005dff,#0056ff,#0053ff,#0051ff,#0051ff)"></i><i style="background:linear-gradient(90deg,#00ff96,#00ff84,#00ff4a,#00ff14,#19ff00,#3dff00,#56ff00,#64ff00,#67ff00,#60ff00,#4eff00,#2eff00,#04ff00,#00ff30,#00ff6a,#00ffa5,#00ffdf,#00f3ff,#00d8ff,#00c2ff,#00adff,#0099ff,#0085ff,#0073ff,#0064ff,#005bff,#0055ff,#0053ff,#0052ff,#0052ff)"></i><i style="background:linear-gradient(90deg,#00ffa7,#00ff98,#00ff66,#00ff39,#00ff12,#0dff00,#24ff00,#31ff00,#36ff00,#32ff00,#24ff00,#0bff00,#00ff19,#00ff45,#00ff77,#00ffab,#00ffde,#00f7ff,#00dfff,#00cbff,#00baff,#00aaff,#009aff,#008cff,#0081ff,#007aff,#0077ff,#0075ff,#0074ff,#0074ff)"></i><i style="background:linear-gradient(90deg,#00ffb2,#00ffa6,#00ff7d,#00ff57,#00ff36,#00ff1b,#00ff07,#07ff00,#0cff00,#0bff00,#01ff00,#00ff13,#00ff31,#00ff57,#00ff81,#00ffae,#00ffda,#00fdff,#00e9ff,#00d8ff,#00caff,#00bdff,#00b2ff,#00a8ff,#00a0ff,#009bff,#0098ff,#0097ff,#0096ff,#0096ff)"></i><i style="background:linear-gradient(90deg,#00ffb6,#00ffac,#00ff8b,#00ff6c,#00ff50,#00ff39,#00ff27,#00ff1b,#00ff14,#00ff14,#00ff1b,#00ff2b,#00ff44,#00ff63,#00ff87,#00ffac,#00ffd1,#00fff2,#00f6ff,#00e9ff,#00ddff,#00d4ff,#00ccff,#00c4ff,#00bfff,#00bcff,#00baff,#00b9ff,#00b9ff,#00b9ff)"></i><i style="background:linear-gradient(90deg,#00fffb,#00fff4,#00ffda,#00ffc1,#00ffab,#00ff98,#00ff88,#00ff7d,#00ff77,#00ff76,#00ff7a,#00ff87,#00ff9b,#00ffb4,#00ffd1,#00fff0,#00f7ff,#00e7ff,#00daff,#00cfff,#00c7ff,#00c0ff,#00bbff,#00b6ff,#00b2ff,#00b0ff,#00afff,#00aeff,#00aeff,#00aeff)"></i><i style="background:linear-gradient(90deg,#00cfff,#00d2ff,#00deff,#00e9ff,#00f3ff,#00fdff,#00fff6,#00ffed,#00ffe7,#00ffe6,#00ffe9,#00fff3,#00fdff,#00f1ff,#00e4ff,#00d6ff,#00c8ff,#00bcff,#00b2ff,#00abff,#00a5ff,#00a0ff,#009cff,#0099ff,#0097ff,#0095ff,#0095ff,#0094ff,#0094ff,#0094ff)"></i><i style="background:linear-gradient(90deg,#007eff,#0081ff,#0089ff,#0092ff,#0099ff,#00a0ff,#00a6ff,#00abff,#00adff,#00aeff,#00adff,#00a9ff,#00a2ff,#0099ff,#008fff,#0084ff,#007bff,#0072ff,#006bff,#0066ff,#0062ff,#005fff,#005cff,#005aff,#0059ff,#0058ff,#0057ff,#0057ff,#0057ff,#0057ff)"></i><i style="background:linear-gradient(90deg,#0059ff,#005bff,#0060ff,#0066ff,#006cff,#0071ff,#0075ff,#0078ff,#007bff,#007bff,#007aff,#0077ff,#0072ff,#006cff,#0065ff,#005dff,#0057ff,#0051ff,#004cff,#0049ff,#0046ff,#0044ff,#0043ff,#0041ff,#0041ff,#0040ff,#0040ff,#0040ff,#0040ff,#0040ff)"></i><i style="background:linear-gradient(90deg,#0063ff,#0064ff,#0068ff,#006cff,#006fff,#0073ff,#0076ff,#0078ff,#007aff,#007aff,#007aff,#0078ff,#0074ff,#0070ff,#006bff,#0066ff,#0062ff,#005eff,#005bff,#0059ff,#0057ff,#0056ff,#0055ff,#0055ff,#0054ff,#0054ff,#0054ff,#0054ff,#0054ff,#0054ff)"></i><i style="background:linear-gradient(90deg,#0062ff,#0063ff,#0065ff,#0067ff,#006aff,#006cff,#006eff,#006fff,#0070ff,#0071ff,#0071ff,#006fff,#006dff,#006aff,#0067ff,#0064ff,#0061ff,#005fff,#005dff,#005cff,#005bff,#005aff,#005aff,#005aff,#0059ff,#0059ff,#0059ff,#0059ff,#0059ff,#0059ff)"></i><i style="background:linear-gradient(90deg,#0058ff,#0059ff,#005aff,#005bff,#005dff,#005eff,#005fff,#0060ff,#0061ff,#0061ff,#0061ff,#0060ff,#005fff,#005dff,#005bff,#0059ff,#0058ff,#0056ff,#0056ff,#0055ff,#0054ff,#0054ff,#0054ff,#0054ff,#0053ff,#0053ff,#0053ff,#0053ff,#0053ff,#0053ff)"></i><i style="background:linear-gradient(90deg,#003eff,#003eff,#003fff,#0040ff,#0040ff,#0041ff,#0042ff,#0042ff,#0043ff,#0043ff,#0043ff,#0042ff,#0042ff,#0041ff,#0040ff,#003fff,#003eff,#003dff,#003cff,#003cff,#003cff,#003cff,#003cff,#003cff,#003bff,#003bff,#003bff,#003bff,#003bff,#003bff)"></i><i style="background:linear-gradient(90deg,#0025ff,#0025ff,#0026ff,#0026ff,#0027ff,#0027ff,#0027ff,#0028ff,#0028ff,#0028ff,#0028ff,#0028ff,#0027ff,#0027ff,#0026ff,#0026ff,#0025ff,#0025ff,#0025ff,#0024ff,#0024ff,#0024ff,#0024ff,#0024ff,#0024ff,#0024ff,#0024ff,#0024ff,#0024ff,#0024ff)"></i><i style="background:linear-gradient(90deg,#0037ff,#0037ff,#0037ff,#0037ff,#0038ff,#0038ff,#0038ff,#0038ff,#0038ff,#0038ff,#0038ff,#0038ff,#0038ff,#0038ff,#0037ff,#0037ff,#0037ff,#0037ff,#0037ff,#0037ff,#0037ff,#0036ff,#0036ff,#0036ff,#0036ff,#0036ff,#0036ff,#0036ff,#0036ff,#0036ff)"></i><i style="background:linear-gradient(90deg,#0039ff,#0039ff,#0039ff,#0039ff,#0039ff,#0039ff,#0039ff,#0039ff,#0039ff,#0039ff,#0039ff,#0039ff,#0039ff,#0039ff,#0039ff,#0039ff,#0039ff,#0039ff,#0039ff,#0039ff,#0039ff,#0039ff,#0039ff,#0039ff,#0039ff,#0039ff,#0039ff,#0039ff,#0039ff,#0039ff)"></i><i style="background:linear-gradient(90deg,#0034ff,#0034ff,#0034ff,#0035ff,#0035ff,#0035ff,#0035ff,#0035ff,#0035ff,#0035ff,#0035ff,#0035ff,#0035ff,#0035ff,#0035ff,#0034ff,#0034ff,#0034ff,#0034ff,#0034ff,#0034ff,#0034ff,#0034ff,#0034ff,#0034ff,#0034ff,#0034ff,#0034ff,#0034ff,#0034ff)"></i><i style="background:linear-gradient(90deg,#0030ff,#0030ff,#0030ff,#0030ff,#0030ff,#0030ff,#0030ff,#0030ff,#0030ff,#0030ff,#0030ff,#0030ff,#0030ff,#0030ff,#0030ff,#0030ff,#0030ff,#0030ff,#0030ff,#0030ff,#0030ff,#0030ff,#0030ff,#0030ff,#0030ff,#0030ff,#0030ff,#0030ff,#0030ff,#0030ff)"></i><i style="background:linear-gradient(90deg,#002bff,#002bff,#002bff,#002bff,#002bff,#002bff,#002bff,#002bff,#002bff,#002bff,#002bff,#002bff,#002bff,#002bff,#002bff,#002bff,#002bff,#002bff,#002bff,#002bff,#002bff,#002bff,#002bff,#002bff,#002bff,#002bff,#002bff,#002bff,#002bff,#002bff)"></i><i style="background:linear-gradient(90deg,#0026ff,#0026ff,#0026ff,#0026ff,#0026ff,#0026ff,#0026ff,#0026ff,#0026ff,#0026ff,#0026ff,#0026ff,#0026ff,#0026ff,#0026ff,#0026ff,#0026ff,#0026ff,#0026ff,#0026ff,#0026ff,#0026ff,#0026ff,#0026ff,#0026ff,#0026ff,#0026ff,#0026ff,#0026ff,#0026ff)"></i><i style="background:linear-gradient(90deg,#0020ff,#0020ff,#0020ff,#0020ff,#0020ff,#0020ff,#0020ff,#0020ff,#0020ff,#0020ff,#0020ff,#0020ff,#0020ff,#0020ff,#0020ff,#0020ff,#0020ff,#0020ff,#0020ff,#0020ff,#0020ff,#0020ff,#0020ff,#0020ff,#0020ff,#0020ff,#0020ff,#0020ff,#0020ff,#0020ff)"></i><i style="background:linear-gradient(90deg,#001bff,#001bff,#001bff,#001bff,#001bff,#001bff,#001bff,#001bff,#001bff,#001bff,#001bff,#001bff,#001bff,#001bff,#001bff,#001bff,#001bff,#001bff,#001bff,#001bff,#001bff,#001bff,#001bff,#001bff,#001bff,#001bff,#001bff,#001bff,#001bff,#001bff)"></i><i style="background:linear-gradient(90deg,#0016ff,#0016ff,#0016ff,#0016ff,#0016ff,#0016ff,#0016ff,#0016ff,#0016ff,#0016ff,#0016ff,#0016ff,#0016ff,#0016ff,#0016ff,#0016ff,#0016ff,#0016ff,#0016ff,#0016ff,#0016ff,#0016ff,#0016ff,#0016ff,#0016ff,#0016ff,#0016ff,#0016ff,#0016ff,#0016ff)"></i><i style="background:linear-gradient(90deg,#0011ff,#0011ff,#0011ff,#0011ff,#0011ff,#0011ff,#0011ff,#0011ff,#0011ff,#0011ff,#0011ff,#0011ff,#0011ff,#0011ff,#0011ff,#0011ff,#0011ff,#0011ff,#0011ff,#0011ff,#0011ff,#0011ff,#0011ff,#0011ff,#0011ff,#0011ff,#0011ff,#0011ff,#0011ff,#0011ff)"></i><i style="background:linear-gradient(90deg,#0010ff,#0010ff,#0010ff,#0010ff,#0010ff,#0010ff,#0010ff,#0010ff,#0010ff,#0010ff,#0010ff,#0010ff,#0010ff,#0010ff,#0010ff,#0010ff,#0010ff,#0010ff,#0010ff,#0010ff,#0010ff,#0010ff,#0010ff,#0010ff,#0010ff,#0010ff,#0010ff,#0010ff,#0010ff,#0010ff)"></i><i style="background:linear-gradient(90deg,#0010ff,#0010ff,#0010ff,#0010ff,#0010ff,#0010ff,#0010ff,#0010ff,#0010ff,#0010ff,#0010ff,#0010ff,#0010ff,#0010ff,#0010ff,#0010ff,#0010ff,#0010ff,#0010ff,#0010ff,#0010ff,#0010ff,#0010ff,#0010ff,#0010ff,#0010ff,#0010ff,#0010ff,#0010ff,#0010ff)"></i></div></div>
<div class="hm" style="left:197px;top:203px;width:153px;height:137px"><div style="left:-4px;top:-4px;width:161px"><i style="background:linear-gradient(90deg,#0023ff,#0023ff,#0026ff,#002cff,#0036ff,#0042ff,#0050ff,#005eff,#006dff,#007bff,#0087ff,#0092ff,#009aff,#009cff,#0095ff,#008cff,#008dff,#0092ff,#0090ff,#0087ff,#007aff,#006dff,#005eff,#0050ff,#0042ff,#0035ff,#002cff,#0025ff,#0023ff,#0023ff)"></i><i style="background:linear-gradient(90deg,#0023ff,#0023ff,#0026ff,#002cff,#0036ff,#0042ff,#0050ff,#005eff,#006dff,#007bff,#0087ff,#0092ff,#009aff,#009cff,#0095ff,#008cff,#008dff,#0092ff,#0090ff,#0087ff,#007aff,#006dff,#005eff,#0050ff,#0042ff,#0035ff,#002cff,#0025ff,#0023ff,#0023ff)"></i><i style="background:linear-gradient(90deg,#0022ff,#0022ff,#0025ff,#002cff,#0037ff,#0043ff,#0052ff,#0062ff,#0072ff,#0082ff,#008fff,#009bff,#00a3ff,#00a2ff,#0094ff,#0085ff,#0088ff,#0094ff,#0097ff,#008fff,#0081ff,#0072ff,#0063ff,#0053ff,#0044ff,#0036ff,#002cff,#0025ff,#0022ff,#0022ff)"></i><i style="background:linear-gradient(90deg,#0020ff,#0021ff,#0024ff,#002cff,#0037ff,#0043ff,#0051ff,#0064ff,#007aff,#008fff,#00a0ff,#00aeff,#00b5ff,#00acff,#008aff,#006aff,#0074ff,#0095ff,#00a5ff,#009fff,#0091ff,#007fff,#006dff,#005aff,#0048ff,#0039ff,#002cff,#0024ff,#0020ff,#0020ff)"></i><i style="background:linear-gradient(90deg,#001fff,#0020ff,#0024ff,#002cff,#0034ff,#0039ff,#0040ff,#0056ff,#0078ff,#009aff,#00b2ff,#00c3ff,#00caff,#00bbff,#008aff,#005eff,#006dff,#009dff,#00b6ff,#00b2ff,#00a1ff,#008dff,#0078ff,#0063ff,#004eff,#003cff,#002dff,#0023ff,#001fff,#001eff)"></i><i style="background:linear-gradient(90deg,#001fff,#001fff,#0024ff,#002bff,#002dff,#0024ff,#001dff,#0035ff,#006bff,#00a1ff,#00c4ff,#00d8ff,#00e2ff,#00d6ff,#00acff,#0085ff,#0091ff,#00baff,#00ceff,#00c7ff,#00b4ff,#009dff,#0085ff,#006cff,#0055ff,#0040ff,#002fff,#0024ff,#001eff,#001eff)"></i><i style="background:linear-gradient(90deg,#001fff,#001fff,#0025ff,#002dff,#002aff,#0014ff,#0002ff,#001dff,#0065ff,#00abff,#00d7ff,#00f0ff,#00fdff,#00fbff,#00e5ff,#00cfff,#00d3ff,#00e6ff,#00eaff,#00ddff,#00c7ff,#00aeff,#0093ff,#0077ff,#005dff,#0045ff,#0032ff,#0025ff,#001eff,#001eff)"></i><i style="background:linear-gradient(90deg,#0020ff,#0021ff,#0028ff,#0031ff,#0032ff,#0022ff,#0016ff,#0034ff,#007bff,#00c1ff,#00eeff,#00fff0,#00ffd6,#00ffcb,#00ffd2,#00ffe0,#00ffe3,#00ffe3,#00fff3,#00f4ff,#00dbff,#00c0ff,#00a2ff,#0084ff,#0066ff,#004cff,#0036ff,#0027ff,#001fff,#001eff)"></i><i style="background:linear-gradient(90deg,#0022ff,#0023ff,#002cff,#003aff,#0045ff,#0049ff,#0050ff,#0071ff,#00aaff,#00e1ff,#00fff1,#00ffc7,#00ffab,#00ff99,#00ff93,#00ff96,#00ff9e,#00ffad,#00ffc7,#00ffeb,#00f0ff,#00d2ff,#00b2ff,#0091ff,#0071ff,#0053ff,#003cff,#002bff,#0022ff,#0020ff)"></i><i style="background:linear-gradient(90deg,#0025ff,#0027ff,#0031ff,#0043ff,#0059ff,#006eff,#0087ff,#00abff,#00d7ff,#00fffc,#00ffc6,#00ff9e,#00ff80,#00ff6d,#00ff63,#00ff63,#00ff6d,#00ff80,#00ff9e,#00ffc4,#00fff4,#00e6ff,#00c3ff,#009fff,#007cff,#005cff,#0042ff,#002fff,#0025ff,#0023ff)"></i><i style="background:linear-gradient(90deg,#0029ff,#002bff,#0037ff,#004cff,#0068ff,#0087ff,#00aaff,#00d0ff,#00f7ff,#00ffd0,#00ff9e,#00ff76,#00ff57,#00ff43,#00ff38,#00ff38,#00ff42,#00ff56,#00ff75,#00ff9e,#00ffcf,#00f9ff,#00d4ff,#00aeff,#0088ff,#0066ff,#0049ff,#0035ff,#0029ff,#0027ff)"></i><i style="background:linear-gradient(90deg,#002eff,#0030ff,#003eff,#0055ff,#0074ff,#0098ff,#00bfff,#00e8ff,#00ffe5,#00ffaa,#00ff77,#00ff4e,#00ff2e,#00ff19,#00ff0e,#00ff0e,#00ff18,#00ff2d,#00ff4d,#00ff78,#00ffab,#00ffe7,#00e6ff,#00bdff,#0095ff,#0070ff,#0052ff,#003bff,#002eff,#002bff)"></i><i style="background:linear-gradient(90deg,#0034ff,#0036ff,#0046ff,#005fff,#0080ff,#00a6ff,#00d0ff,#00faff,#00ffc3,#00ff86,#00ff51,#00ff26,#00ff06,#10ff00,#1cff00,#1dff00,#12ff00,#00ff04,#00ff25,#00ff51,#00ff87,#00ffc6,#00f8ff,#00cdff,#00a3ff,#007cff,#005bff,#0043ff,#0033ff,#0030ff)"></i><i style="background:linear-gradient(90deg,#003aff,#003dff,#004eff,#0069ff,#008cff,#00b4ff,#00e0ff,#00ffe9,#00ffa2,#00ff63,#00ff2c,#01ff00,#24ff00,#3cff00,#48ff00,#49ff00,#3eff00,#27ff00,#04ff00,#00ff2a,#00ff63,#00ffa5,#00ffed,#00ddff,#00b0ff,#0087ff,#0065ff,#004aff,#003aff,#0036ff)"></i><i style="background:linear-gradient(90deg,#0041ff,#0044ff,#0057ff,#0073ff,#0098ff,#00c2ff,#00f0ff,#00ffcb,#00ff82,#00ff3f,#00ff05,#2bff00,#51ff00,#6bff00,#78ff00,#7aff00,#6eff00,#55ff00,#30ff00,#00ff02,#00ff3e,#00ff83,#00ffcf,#00ecff,#00beff,#0093ff,#006fff,#0053ff,#0040ff,#003cff)"></i><i style="background:linear-gradient(90deg,#0047ff,#004bff,#0060ff,#007eff,#00a4ff,#00d0ff,#00fffe,#00ffae,#00ff61,#00ff1b,#23ff00,#58ff00,#82ff00,#9fff00,#b0ff00,#b2ff00,#a5ff00,#89ff00,#5fff00,#29ff00,#00ff18,#00ff61,#00ffb1,#00fcff,#00ccff,#009fff,#0079ff,#005bff,#0047ff,#0043ff)"></i><i style="background:linear-gradient(90deg,#004eff,#0052ff,#0069ff,#0088ff,#00b0ff,#00deff,#00ffe4,#00ff91,#00ff41,#0aff00,#4eff00,#89ff00,#b9ff00,#dcff00,#f0ff00,#f2ff00,#e4ff00,#c3ff00,#94ff00,#57ff00,#10ff00,#00ff3f,#00ff93,#00ffea,#00d9ff,#00abff,#0083ff,#0064ff,#004eff,#0049ff)"></i><i style="background:linear-gradient(90deg,#0055ff,#005aff,#0072ff,#0093ff,#00bcff,#00ebff,#00ffcb,#00ff74,#00ff20,#31ff00,#7bff00,#beff00,#f7ff00,#ffeb00,#ffdc00,#ffda00,#ffe400,#fffb00,#ceff00,#89ff00,#3aff00,#00ff1c,#00ff76,#00ffd1,#00e6ff,#00b6ff,#008cff,#006cff,#0055ff,#0050ff)"></i><i style="background:linear-gradient(90deg,#005cff,#0061ff,#007aff,#009dff,#00c8ff,#00f9ff,#00ffb2,#00ff58,#02ff00,#59ff00,#acff00,#f8ff00,#ffdc00,#ffbd00,#ffab00,#ffa800,#ffb500,#ffd000,#fff600,#beff00,#65ff00,#07ff00,#00ff59,#00ffb9,#00f2ff,#00c0ff,#0096ff,#0074ff,#005cff,#0056ff)"></i><i style="background:linear-gradient(90deg,#0063ff,#0068ff,#0083ff,#00a8ff,#00d4ff,#00fff2,#00ff98,#00ff3a,#24ff00,#81ff00,#ddff00,#ffdf00,#ffb100,#ff8e00,#ff7800,#ff7400,#ff8300,#ffa200,#ffd000,#f4ff00,#90ff00,#29ff00,#00ff3e,#00ffa3,#00fdff,#00caff,#009eff,#007bff,#0062ff,#005cff)"></i><i style="background:linear-gradient(90deg,#006aff,#0070ff,#008dff,#00b4ff,#00e2ff,#00ffd8,#00ff7c,#00ff1c,#47ff00,#aaff00,#fff600,#ffbc00,#ff8800,#ff5f00,#ff4700,#ff4200,#ff5300,#ff7700,#ffab00,#ffe800,#b8ff00,#48ff00,#00ff26,#00ff8f,#00fff1,#00d2ff,#00a5ff,#0081ff,#0067ff,#0061ff)"></i><i style="background:linear-gradient(90deg,#0072ff,#0078ff,#0098ff,#00c1ff,#00f2ff,#00ffba,#00ff5c,#06ff00,#6bff00,#d2ff00,#ffdb00,#ff9d00,#ff6400,#ff3700,#ff1c00,#ff1700,#ff2a00,#ff5200,#ff8b00,#ffce00,#d9ff00,#62ff00,#00ff11,#00ff7e,#00ffe3,#00daff,#00acff,#0087ff,#006cff,#0065ff)"></i><i style="background:linear-gradient(90deg,#007aff,#0081ff,#00a5ff,#00d2ff,#00fff3,#00ff96,#00ff36,#2cff00,#90ff00,#f8ff00,#ffc300,#ff8300,#ff4900,#ff1a00,#fc0000,#f80000,#ff0d00,#ff3800,#ff7500,#ffbc00,#f1ff00,#75ff00,#00ff02,#00ff72,#00ffd9,#00dfff,#00b1ff,#008bff,#0070ff,#0069ff)"></i><i style="background:linear-gradient(90deg,#0083ff,#008bff,#00b3ff,#00e5ff,#00ffcd,#00ff6c,#00ff0c,#54ff00,#b6ff00,#ffef00,#ffb000,#ff7200,#ff3800,#ff0a00,#ee0000,#eb0000,#fe0000,#ff2c00,#ff6b00,#ffb400,#fdff00,#7fff00,#06ff00,#00ff6a,#00ffd1,#00e3ff,#00b5ff,#008fff,#0073ff,#006cff)"></i><i style="background:linear-gradient(90deg,#008dff,#0096ff,#00c3ff,#00faff,#00ffa3,#00ff3e,#21ff00,#7dff00,#d9ff00,#ffde00,#ffa500,#ff6b00,#ff3500,#ff0b00,#f10000,#ee0000,#ff0400,#ff3000,#ff6d00,#ffb500,#fdff00,#80ff00,#09ff00,#00ff67,#00ffce,#00e6ff,#00b7ff,#0091ff,#0075ff,#006eff)"></i><i style="background:linear-gradient(90deg,#0096ff,#00a0ff,#00d1ff,#00ffe8,#00ff7d,#00ff15,#48ff00,#a0ff00,#f4ff00,#ffd400,#ffa200,#ff6f00,#ff4000,#ff1b00,#ff0500,#ff0400,#ff1900,#ff4300,#ff7d00,#ffc100,#eeff00,#76ff00,#02ff00,#00ff6b,#00ffcf,#00e6ff,#00b8ff,#0093ff,#0077ff,#0070ff)"></i><i style="background:linear-gradient(90deg,#009bff,#00a6ff,#00daff,#00ffd3,#00ff64,#04ff00,#5eff00,#b0ff00,#fcff00,#ffd600,#ffab00,#ff8000,#ff5900,#ff3a00,#ff2800,#ff2800,#ff3c00,#ff6300,#ff9900,#ffd800,#d0ff00,#5fff00,#00ff0f,#00ff77,#00ffd9,#00e2ff,#00b5ff,#0091ff,#0076ff,#0070ff)"></i><i style="background:linear-gradient(90deg,#009dff,#00a8ff,#00ddff,#00ffcf,#00ff60,#07ff00,#5dff00,#a9ff00,#edff00,#ffe400,#ffc000,#ff9d00,#ff7d00,#ff6400,#ff5700,#ff5800,#ff6b00,#ff8e00,#ffbe00,#fff700,#a6ff00,#3dff00,#00ff2a,#00ff8d,#00ffe9,#00dbff,#00b0ff,#008eff,#0075ff,#006eff)"></i><i style="background:linear-gradient(90deg,#0099ff,#00a4ff,#00d6ff,#00ffdf,#00ff75,#00ff14,#3dff00,#85ff00,#c3ff00,#fbff00,#ffe300,#ffc600,#ffac00,#ff9700,#ff8d00,#ff9000,#ffa100,#ffbf00,#ffea00,#ceff00,#72ff00,#12ff00,#00ff4d,#00ffa9,#00feff,#00d0ff,#00a9ff,#0089ff,#0072ff,#006cff)"></i><i style="background:linear-gradient(90deg,#0090ff,#0099ff,#00c5ff,#00fbff,#00ffa8,#00ff4f,#00ff04,#3fff00,#7aff00,#afff00,#dfff00,#fff800,#ffe200,#ffd100,#ffc800,#ffcb00,#ffda00,#fff400,#d3ff00,#89ff00,#37ff00,#00ff20,#00ff77,#00ffcc,#00eeff,#00c3ff,#009fff,#0083ff,#006eff,#0069ff)"></i><i style="background:linear-gradient(90deg,#0083ff,#008aff,#00aeff,#00daff,#00ffed,#00ffa0,#00ff5b,#00ff1c,#1eff00,#52ff00,#81ff00,#abff00,#ceff00,#e8ff00,#f5ff00,#f1ff00,#dcff00,#b6ff00,#81ff00,#40ff00,#00ff09,#00ff57,#00ffa6,#00fff3,#00dbff,#00b5ff,#0095ff,#007cff,#006aff,#0065ff)"></i><i style="background:linear-gradient(90deg,#0076ff,#007bff,#0096ff,#00b8ff,#00deff,#00fff6,#00ffb8,#00ff7c,#00ff44,#00ff10,#20ff00,#49ff00,#6bff00,#83ff00,#8fff00,#8dff00,#7cff00,#5bff00,#2dff00,#00ff0c,#00ff4c,#00ff92,#00ffd8,#00edff,#00c7ff,#00a6ff,#008aff,#0075ff,#0065ff,#0062ff)"></i><i style="background:linear-gradient(90deg,#0064ff,#0067ff,#0078ff,#008fff,#00acff,#00ccff,#00efff,#00ffdf,#00ffa5,#00ff70,#00ff40,#00ff17,#0aff00,#21ff00,#2dff00,#2dff00,#1eff00,#02ff00,#00ff26,#00ff58,#00ff90,#00ffcd,#00f8ff,#00d4ff,#00b3ff,#0096ff,#007fff,#006eff,#0061ff,#005eff)"></i><i style="background:linear-gradient(90deg,#003aff,#0038ff,#0034ff,#003aff,#004dff,#006eff,#0099ff,#00c7ff,#00f3ff,#00ffd2,#00ff9d,#00ff73,#00ff52,#00ff3c,#00ff30,#00ff31,#00ff3d,#00ff55,#00ff77,#00ffa3,#00ffd4,#00f9ff,#00daff,#00bbff,#009fff,#0088ff,#0075ff,#0067ff,#005dff,#005bff)"></i><i style="background:linear-gradient(90deg,#0013ff,#000dff,#0000f6,#0000ed,#0000f7,#001aff,#004dff,#0085ff,#00baff,#00e5ff,#00fff2,#00ffc8,#00ffa9,#00ff94,#00ff8a,#00ff89,#00ff94,#00ffa8,#00ffc6,#00ffeb,#00f2ff,#00d8ff,#00bdff,#00a4ff,#008eff,#007bff,#006cff,#0061ff,#005aff,#0058ff)"></i><i style="background:linear-gradient(90deg,#0032ff,#002eff,#0024ff,#0020ff,#002aff,#0040ff,#0061ff,#0086ff,#00a9ff,#00c7ff,#00e1ff,#00f5ff,#00fff7,#00ffe6,#00ffdd,#00ffdc,#00ffe5,#00fff6,#00f6ff,#00e3ff,#00cfff,#00b9ff,#00a4ff,#0090ff,#007eff,#0070ff,#0065ff,#005dff,#0058ff,#0056ff)"></i><i style="background:linear-gradient(90deg,#0050ff,#0050ff,#0051ff,#0055ff,#005dff,#0069ff,#0079ff,#008aff,#009dff,#00afff,#00bfff,#00ceff,#00daff,#00e2ff,#00e6ff,#00e7ff,#00e2ff,#00daff,#00ceff,#00bfff,#00afff,#009eff,#008dff,#007eff,#0071ff,#0067ff,#005fff,#0059ff,#0056ff,#0055ff)"></i><i style="background:linear-gradient(90deg,#0051ff,#0052ff,#0054ff,#0058ff,#005eff,#0065ff,#006fff,#007aff,#0086ff,#0092ff,#009eff,#00a9ff,#00b2ff,#00b9ff,#00bcff,#00bcff,#00b9ff,#00b3ff,#00a9ff,#009eff,#0092ff,#0085ff,#0078ff,#006dff,#0064ff,#005dff,#0057ff,#0054ff,#0051ff,#0051ff)"></i><i style="background:linear-gradient(90deg,#004eff,#004eff,#0050ff,#0052ff,#0056ff,#005bff,#0061ff,#0068ff,#0071ff,#0079ff,#0082ff,#0089ff,#0090ff,#0094ff,#0097ff,#0097ff,#0094ff,#0090ff,#0089ff,#0081ff,#0079ff,#0070ff,#0067ff,#0060ff,#005aff,#0055ff,#0051ff,#004fff,#004eff,#004dff)"></i><i style="background:linear-gradient(90deg,#004bff,#004bff,#004cff,#004dff,#004fff,#0051ff,#0055ff,#0058ff,#005bff,#005eff,#0060ff,#0061ff,#0062ff,#0062ff,#0061ff,#0061ff,#0060ff,#0060ff,#005fff,#005dff,#005bff,#0059ff,#0056ff,#0053ff,#0050ff,#004eff,#004cff,#004bff,#004aff,#004aff)"></i><i style="background:linear-gradient(90deg,#0048ff,#0048ff,#0049ff,#0049ff,#0049ff,#0049ff,#0048ff,#0045ff,#003fff,#0037ff,#002cff,#001fff,#0013ff,#0007ff,#0000ff,#0000fd,#0002ff,#000aff,#0016ff,#0022ff,#002eff,#0038ff,#003eff,#0043ff,#0045ff,#0047ff,#0047ff,#0047ff,#0047ff,#0047ff)"></i><i style="background:linear-gradient(90deg,#0055ff,#0055ff,#0056ff,#0056ff,#0055ff,#0054ff,#0052ff,#004dff,#0045ff,#003aff,#002dff,#001dff,#000dff,#0000fe,#0000f6,#0000f4,#0000f8,#0002ff,#0010ff,#0020ff,#002eff,#003aff,#0043ff,#004aff,#004eff,#0050ff,#0051ff,#0051ff,#0051ff,#0051ff)"></i><i style="background:linear-gradient(90deg,#0068ff,#0068ff,#0069ff,#006bff,#006cff,#006cff,#006cff,#006cff,#006aff,#0067ff,#0063ff,#005eff,#0059ff,#0054ff,#0050ff,#004eff,#004eff,#0050ff,#0053ff,#0056ff,#0059ff,#005cff,#005eff,#005fff,#005fff,#005fff,#005fff,#005fff,#005fff,#005fff)"></i><i style="background:linear-gradient(90deg,#0080ff,#0081ff,#0084ff,#0086ff,#0089ff,#008bff,#008dff,#008eff,#008fff,#0090ff,#008fff,#008eff,#008dff,#008bff,#0088ff,#0085ff,#0082ff,#007fff,#007cff,#007aff,#0077ff,#0075ff,#0073ff,#0071ff,#006fff,#006eff,#006dff,#006dff,#006cff,#006cff)"></i><i style="background:linear-gradient(90deg,#009fff,#00a0ff,#00a5ff,#00a9ff,#00adff,#00b1ff,#00b4ff,#00b7ff,#00b8ff,#00b9ff,#00b8ff,#00b6ff,#00b4ff,#00b0ff,#00acff,#00a7ff,#00a1ff,#009cff,#0096ff,#0091ff,#008dff,#0088ff,#0085ff,#0082ff,#007fff,#007dff,#007cff,#007bff,#007aff,#0079ff)"></i><i style="background:linear-gradient(90deg,#00bfff,#00c0ff,#00c7ff,#00ceff,#00d4ff,#00daff,#00deff,#00e1ff,#00e3ff,#00e4ff,#00e3ff,#00e0ff,#00dcff,#00d6ff,#00cfff,#00c8ff,#00c0ff,#00b8ff,#00b0ff,#00a9ff,#00a2ff,#009cff,#0097ff,#0093ff,#008fff,#008dff,#008aff,#0089ff,#0087ff,#0087ff)"></i><i style="background:linear-gradient(90deg,#00d8ff,#00daff,#00e3ff,#00ebff,#00f3ff,#00f9ff,#00ffff,#00fff9,#00fff5,#00fff4,#00fff6,#00fffc,#00fbff,#00f4ff,#00ecff,#00e3ff,#00d9ff,#00cfff,#00c6ff,#00bdff,#00b5ff,#00aeff,#00a8ff,#00a3ff,#009fff,#009bff,#0098ff,#0096ff,#0095ff,#0094ff)"></i><i style="background:linear-gradient(90deg,#00caff,#00ccff,#00d5ff,#00ddff,#00e5ff,#00ebff,#00f0ff,#00f4ff,#00f7ff,#00f7ff,#00f6ff,#00f2ff,#00edff,#00e6ff,#00ddff,#00d4ff,#00cbff,#00c1ff,#00b8ff,#00afff,#00a7ff,#00a0ff,#009aff,#0095ff,#0090ff,#008dff,#008aff,#0088ff,#0087ff,#0086ff)"></i><i style="background:linear-gradient(90deg,#00a9ff,#00abff,#00b1ff,#00b8ff,#00beff,#00c3ff,#00c7ff,#00caff,#00cbff,#00ccff,#00cbff,#00c8ff,#00c4ff,#00beff,#00b8ff,#00b1ff,#00a9ff,#00a2ff,#009bff,#0094ff,#008eff,#0088ff,#0084ff,#0080ff,#007cff,#007aff,#0078ff,#0076ff,#0075ff,#0075ff)"></i><i style="background:linear-gradient(90deg,#0084ff,#0085ff,#0089ff,#008dff,#0090ff,#0093ff,#0096ff,#0098ff,#0099ff,#0099ff,#0098ff,#0097ff,#0094ff,#0091ff,#008dff,#0089ff,#0084ff,#0080ff,#007cff,#0078ff,#0074ff,#0071ff,#006eff,#006cff,#006aff,#0068ff,#0067ff,#0066ff,#0065ff,#0065ff)"></i><i style="background:linear-gradient(90deg,#0068ff,#0069ff,#006bff,#006cff,#006eff,#006fff,#0070ff,#0071ff,#0072ff,#0072ff,#0071ff,#0071ff,#0070ff,#006eff,#006cff,#006aff,#0068ff,#0066ff,#0064ff,#0063ff,#0061ff,#005fff,#005eff,#005dff,#005cff,#005bff,#005bff,#005aff,#005aff,#005aff)"></i><i style="background:linear-gradient(90deg,#0051ff,#0051ff,#0052ff,#0052ff,#0053ff,#0053ff,#0054ff,#0054ff,#0054ff,#0054ff,#0054ff,#0054ff,#0053ff,#0053ff,#0052ff,#0052ff,#0051ff,#0050ff,#0050ff,#004fff,#004eff,#004eff,#004dff,#004dff,#004dff,#004cff,#004cff,#004cff,#004cff,#004cff)"></i><i style="background:linear-gradient(90deg,#0034ff,#0034ff,#0034ff,#0034ff,#0034ff,#0034ff,#0034ff,#0034ff,#0034ff,#0034ff,#0034ff,#0034ff,#0034ff,#0034ff,#0034ff,#0034ff,#0034ff,#0033ff,#0033ff,#0033ff,#0033ff,#0033ff,#0033ff,#0032ff,#0032ff,#0032ff,#0032ff,#0032ff,#0032ff,#0032ff)"></i><i style="background:linear-gradient(90deg,#0019ff,#0019ff,#0019ff,#0019ff,#0019ff,#0019ff,#0019ff,#0019ff,#0019ff,#0019ff,#0019ff,#0019ff,#0019ff,#0019ff,#0019ff,#0019ff,#0019ff,#0019ff,#0019ff,#0019ff,#0019ff,#0019ff,#0019ff,#0019ff,#0019ff,#0019ff,#0019ff,#0019ff,#0019ff,#0019ff)"></i><i style="background:linear-gradient(90deg,#0001ff,#0001ff,#0001ff,#0001ff,#0001ff,#0001ff,#0001ff,#0001ff,#0001ff,#0001ff,#0001ff,#0001ff,#0001ff,#0001ff,#0001ff,#0001ff,#0001ff,#0001ff,#0001ff,#0001ff,#0001ff,#0001ff,#0001ff,#0001ff,#0001ff,#0001ff,#0001ff,#0001ff,#0001ff,#0001ff)"></i><i style="background:linear-gradient(90deg,#0021ff,#0021ff,#0021ff,#0021ff,#0021ff,#0021ff,#0021ff,#0021ff,#0021ff,#0021ff,#0021ff,#0021ff,#0021ff,#0021ff,#0021ff,#0021ff,#0021ff,#0021ff,#0021ff,#0021ff,#0021ff,#0021ff,#0021ff,#0021ff,#0021ff,#0021ff,#0021ff,#0021ff,#0021ff,#0021ff)"></i><i style="background:linear-gradient(90deg,#0041ff,#0041ff,#0041ff,#0041ff,#0041ff,#0041ff,#0041ff,#0041ff,#0041ff,#0041ff,#0041ff,#0041ff,#0041ff,#0041ff,#0041ff,#0041ff,#0041ff,#0041ff,#0041ff,#0041ff,#0041ff,#0041ff,#0041ff,#0041ff,#0041ff,#0041ff,#0041ff,#0041ff,#0041ff,#0041ff)"></i><i style="background:linear-gradient(90deg,#0051ff,#0051ff,#0051ff,#0051ff,#0051ff,#0051ff,#0051ff,#0051ff,#0051ff,#0051ff,#0051ff,#0051ff,#0051ff,#0051ff,#0051ff,#0051ff,#0051ff,#0051ff,#0051ff,#0051ff,#0051ff,#0051ff,#0051ff,#0051ff,#0051ff,#0051ff,#0051ff,#0051ff,#0051ff,#0051ff)"></i><i style="background:linear-gradient(90deg,#0051ff,#0051ff,#0051ff,#0051ff,#0051ff,#0051ff,#0051ff,#0051ff,#0051ff,#0051ff,#0051ff,#0051ff,#0051ff,#0051ff,#0051ff,#0051ff,#0051ff,#0051ff,#0051ff,#0051ff,#0051ff,#0051ff,#0051ff,#0051ff,#0051ff,#0051ff,#0051ff,#0051ff,#0051ff,#0051ff)"></i><i style="background:linear-gradient(90deg,#003aff,#003aff,#003aff,#003aff,#003aff,#003aff,#003aff,#003aff,#003aff,#003aff,#003aff,#003aff,#003aff,#003aff,#003aff,#003aff,#003aff,#003aff,#003aff,#003aff,#003aff,#003aff,#003aff,#003aff,#003aff,#003aff,#003aff,#003aff,#003aff,#003aff)"></i><i style="background:linear-gradient(90deg,#001dff,#001dff,#001dff,#001dff,#001dff,#001dff,#001dff,#001dff,#001dff,#001dff,#001dff,#001dff,#001dff,#001dff,#001dff,#001dff,#001dff,#001dff,#001dff,#001dff,#001dff,#001dff,#001dff,#001dff,#001dff,#001dff,#001dff,#001dff,#001dff,#001dff)"></i><i style="background:linear-gradient(90deg,#0000ff,#0000ff,#0000ff,#0000ff,#0000ff,#0000ff,#0000ff,#0000ff,#0000ff,#0000ff,#0000ff,#0000ff,#0000ff,#0000ff,#0000ff,#0000ff,#0000ff,#0000ff,#0000ff,#0000ff,#0000ff,#0000ff,#0000ff,#0000ff,#0000ff,#0000ff,#0000ff,#0000ff,#0000ff,#0000ff)"></i><i style="background:linear-gradient(90deg,#0014ff,#0014ff,#0014ff,#0014ff,#0014ff,#0014ff,#0014ff,#0014ff,#0014ff,#0014ff,#0014ff,#0014ff,#0014ff,#0014ff,#0014ff,#0014ff,#0014ff,#0014ff,#0014ff,#0014ff,#0014ff,#0014ff,#0014ff,#0014ff,#0014ff,#0014ff,#0014ff,#0014ff,#0014ff,#0014ff)"></i><i style="background:linear-gradient(90deg,#0027ff,#0027ff,#0027ff,#0027ff,#0027ff,#0027ff,#0027ff,#0027ff,#0027ff,#0027ff,#0027ff,#0027ff,#0027ff,#0027ff,#0027ff,#0027ff,#0027ff,#0027ff,#0027ff,#0027ff,#0027ff,#0027ff,#0027ff,#0027ff,#0027ff,#0027ff,#0027ff,#0027ff,#0027ff,#0027ff)"></i><i style="background:linear-gradient(90deg,#002fff,#002fff,#002fff,#002fff,#002fff,#002fff,#002fff,#002fff,#002fff,#002fff,#002fff,#002fff,#002fff,#002fff,#002fff,#002fff,#002fff,#002fff,#002fff,#002fff,#002fff,#002fff,#002fff,#002fff,#002fff,#002fff,#002fff,#002fff,#002fff,#002fff)"></i><i style="background:linear-gradient(90deg,#002cff,#002cff,#002cff,#002cff,#002cff,#002cff,#002cff,#002cff,#002cff,#002cff,#002cff,#002cff,#002cff,#002cff,#002cff,#002cff,#002cff,#002cff,#002cff,#002cff,#002cff,#002cff,#002cff,#002cff,#002cff,#002cff,#002cff,#002cff,#002cff,#002cff)"></i><i style="background:linear-gradient(90deg,#0028ff,#0028ff,#0028ff,#0028ff,#0028ff,#0028ff,#0028ff,#0028ff,#0028ff,#0028ff,#0028ff,#0028ff,#0028ff,#0028ff,#0028ff,#0028ff,#0028ff,#0028ff,#0028ff,#0028ff,#0028ff,#0028ff,#0028ff,#0028ff,#0028ff,#0028ff,#0028ff,#0028ff,#0028ff,#0028ff)"></i><i style="background:linear-gradient(90deg,#0025ff,#0025ff,#0025ff,#0025ff,#0025ff,#0025ff,#0025ff,#0025ff,#0025ff,#0025ff,#0025ff,#0025ff,#0025ff,#0025ff,#0025ff,#0025ff,#0025ff,#0025ff,#0025ff,#0025ff,#0025ff,#0025ff,#0025ff,#0025ff,#0025ff,#0025ff,#0025ff,#0025ff,#0025ff,#0025ff)"></i><i style="background:linear-gradient(90deg,#0022ff,#0022ff,#0022ff,#0022ff,#0022ff,#0022ff,#0022ff,#0022ff,#0022ff,#0022ff,#0022ff,#0022ff,#0022ff,#0022ff,#0022ff,#0022ff,#0022ff,#0022ff,#0022ff,#0022ff,#0022ff,#0022ff,#0022ff,#0022ff,#0022ff,#0022ff,#0022ff,#0022ff,#0022ff,#0022ff)"></i><i style="background:linear-gradient(90deg,#001eff,#001eff,#001eff,#001eff,#001eff,#001eff,#001eff,#001eff,#001eff,#001eff,#001eff,#001eff,#001eff,#001eff,#001eff,#001eff,#001eff,#001eff,#001eff,#001eff,#001eff,#001eff,#001eff,#001eff,#001eff,#001eff,#001eff,#001eff,#001eff,#001eff)"></i><i style="background:linear-gradient(90deg,#001bff,#001bff,#001bff,#001bff,#001bff,#001bff,#001bff,#001bff,#001bff,#001bff,#001bff,#001bff,#001bff,#001bff,#001bff,#001bff,#001bff,#001bff,#001bff,#001bff,#001bff,#001bff,#001bff,#001bff,#001bff,#001bff,#001bff,#001bff,#001bff,#001bff)"></i><i style="background:linear-gradient(90deg,#001bff,#001bff,#001bff,#001bff,#001bff,#001bff,#001bff,#001bff,#001bff,#001bff,#001bff,#001bff,#001bff,#001bff,#001bff,#001bff,#001bff,#001bff,#001bff,#001bff,#001bff,#001bff,#001bff,#001bff,#001bff,#001bff,#001bff,#001bff,#001bff,#001bff)"></i><i style="background:linear-gradient(90deg,#001bff,#001bff,#001bff,#001bff,#001bff,#001bff,#001bff,#001bff,#001bff,#001bff,#001bff,#001bff,#001bff,#001bff,#001bff,#001bff,#001bff,#001bff,#001bff,#001bff,#001bff,#001bff,#001bff,#001bff,#001bff,#001bff,#001bff,#001bff,#001bff,#001bff)"></i></div></div>
<div class="hm" style="left:367px;top:203px;width:152px;height:135px"><div style="left:-4px;top:-4px;width:160px"><i style="background:linear-gradient(90deg,#008dff,#0094ff,#00b3ff,#00d7ff,#00ffff,#00ffbb,#00ff76,#00ff34,#08ff00,#3dff00,#6aff00,#8cff00,#a2ff00,#adff00,#aaff00,#99ff00,#79ff00,#4dff00,#15ff00,#00ff2d,#00ff75,#00ffc1,#00f7ff,#00cdff,#00a7ff,#0088ff,#006eff,#005bff,#004eff,#004cff)"></i><i style="background:linear-gradient(90deg,#008dff,#0094ff,#00b3ff,#00d7ff,#00ffff,#00ffbb,#00ff76,#00ff34,#08ff00,#3dff00,#6aff00,#8cff00,#a2ff00,#adff00,#aaff00,#99ff00,#79ff00,#4dff00,#15ff00,#00ff2d,#00ff75,#00ffc1,#00f7ff,#00cdff,#00a7ff,#0088ff,#006eff,#005bff,#004eff,#004cff)"></i><i style="background:linear-gradient(90deg,#0093ff,#009aff,#00bcff,#00e2ff,#00ffea,#00ffa1,#00ff59,#00ff13,#2dff00,#67ff00,#97ff00,#bcff00,#d5ff00,#e1ff00,#deff00,#ccff00,#aaff00,#7aff00,#3eff00,#00ff08,#00ff55,#00ffa6,#00fff5,#00d8ff,#00b0ff,#008eff,#0072ff,#005eff,#0050ff,#004dff)"></i><i style="background:linear-gradient(90deg,#00a0ff,#00a7ff,#00ccff,#00f6ff,#00ffc0,#00ff70,#00ff1f,#30ff00,#7aff00,#beff00,#f7ff00,#ffe900,#ffd600,#ffcd00,#ffce00,#ffdb00,#fff200,#dcff00,#95ff00,#44ff00,#00ff14,#00ff6f,#00ffc9,#00edff,#00c0ff,#009aff,#007bff,#0064ff,#0054ff,#0051ff)"></i><i style="background:linear-gradient(90deg,#00abff,#00b3ff,#00dbff,#00ffee,#00ff99,#00ff41,#19ff00,#72ff00,#c8ff00,#fff100,#ffc800,#ffa700,#ff8f00,#ff8400,#ff8500,#ff9300,#ffaf00,#ffd700,#efff00,#91ff00,#2cff00,#00ff3a,#00ff9e,#00fffc,#00cfff,#00a5ff,#0083ff,#0069ff,#0057ff,#0054ff)"></i><i style="background:linear-gradient(90deg,#00b4ff,#00bdff,#00e8ff,#00ffd2,#00ff78,#00ff18,#4bff00,#afff00,#fff500,#ffbf00,#ff8f00,#ff6800,#ff4c00,#ff3e00,#ff3e00,#ff4f00,#ff7000,#ff9e00,#ffd600,#d8ff00,#67ff00,#00ff0b,#00ff79,#00ffdf,#00dcff,#00aeff,#008aff,#006eff,#005aff,#0057ff)"></i><i style="background:linear-gradient(90deg,#00bcff,#00c5ff,#00f3ff,#00ffbd,#00ff5d,#08ff00,#72ff00,#deff00,#ffd400,#ff9800,#ff6200,#ff3600,#ff1700,#ff0600,#ff0700,#ff1900,#ff3d00,#ff7000,#ffaf00,#fff500,#95ff00,#1aff00,#00ff5b,#00ffc8,#00e6ff,#00b6ff,#008fff,#0072ff,#005dff,#0059ff)"></i><i style="background:linear-gradient(90deg,#00c1ff,#00caff,#00f9ff,#00ffaf,#00ff4d,#1bff00,#89ff00,#f8ff00,#ffc100,#ff8200,#ff4900,#ff1b00,#f90000,#e90000,#e90000,#fa0000,#ff2100,#ff5700,#ff9900,#ffe200,#b0ff00,#30ff00,#00ff4a,#00ffba,#00edff,#00baff,#0092ff,#0074ff,#005eff,#005aff)"></i><i style="background:linear-gradient(90deg,#00c3ff,#00cdff,#00fcff,#00ffab,#00ff49,#1fff00,#8cff00,#fbff00,#ffc000,#ff8200,#ff4a00,#ff1b00,#fa0000,#ea0000,#ea0000,#fb0000,#ff2100,#ff5700,#ff9800,#ffe000,#b3ff00,#34ff00,#00ff46,#00ffb7,#00eeff,#00bcff,#0093ff,#0075ff,#005fff,#005bff)"></i><i style="background:linear-gradient(90deg,#00c3ff,#00ccff,#00fbff,#00ffaf,#00ff51,#13ff00,#7bff00,#e4ff00,#ffd100,#ff9700,#ff6200,#ff3700,#ff1900,#ff0900,#ff0900,#ff1b00,#ff3e00,#ff7000,#ffad00,#fff100,#9eff00,#25ff00,#00ff51,#00ffbf,#00ebff,#00baff,#0092ff,#0074ff,#005fff,#005bff)"></i><i style="background:linear-gradient(90deg,#00c0ff,#00c9ff,#00f5ff,#00ffbd,#00ff64,#00ff07,#58ff00,#b8ff00,#fff200,#ffbd00,#ff8f00,#ff6900,#ff4e00,#ff4000,#ff4100,#ff5100,#ff7000,#ff9d00,#ffd300,#e2ff00,#75ff00,#05ff00,#00ff69,#00ffd0,#00e3ff,#00b4ff,#008eff,#0072ff,#005dff,#0059ff)"></i><i style="background:linear-gradient(90deg,#00bbff,#00c4ff,#00edff,#00ffd1,#00ff80,#00ff2c,#29ff00,#7eff00,#cfff00,#ffee00,#ffc700,#ffa700,#ff9000,#ff8500,#ff8600,#ff9400,#ffaf00,#ffd500,#f7ff00,#9eff00,#3eff00,#00ff25,#00ff89,#00ffe9,#00d8ff,#00acff,#0088ff,#006eff,#005bff,#0057ff)"></i><i style="background:linear-gradient(90deg,#00b5ff,#00bdff,#00e4ff,#00ffe8,#00ffa0,#00ff57,#00ff0c,#3dff00,#82ff00,#c2ff00,#faff00,#ffe700,#ffd400,#ffcb00,#ffcd00,#ffda00,#fff100,#e1ff00,#9fff00,#54ff00,#03ff00,#00ff54,#00ffae,#00fbff,#00cbff,#00a2ff,#0081ff,#0069ff,#0058ff,#0055ff)"></i><i style="background:linear-gradient(90deg,#00b0ff,#00b7ff,#00daff,#00feff,#00ffc3,#00ff84,#00ff45,#00ff07,#34ff00,#6bff00,#9aff00,#c0ff00,#dbff00,#e7ff00,#e4ff00,#cfff00,#adff00,#80ff00,#49ff00,#0bff00,#00ff39,#00ff83,#00ffd3,#00eaff,#00bdff,#0097ff,#0079ff,#0063ff,#0055ff,#0052ff)"></i><i style="background:linear-gradient(90deg,#00acff,#00b2ff,#00d1ff,#00f0ff,#00ffe5,#00ffb1,#00ff7d,#00ff4a,#00ff18,#17ff00,#41ff00,#64ff00,#7dff00,#87ff00,#82ff00,#6dff00,#4dff00,#26ff00,#00ff07,#00ff39,#00ff70,#00ffaf,#00fff5,#00d9ff,#00afff,#008cff,#0071ff,#005eff,#0052ff,#004fff)"></i><i style="background:linear-gradient(90deg,#00a9ff,#00b0ff,#00caff,#00e4ff,#00fcff,#00ffdd,#00ffb5,#00ff8b,#00ff61,#00ff38,#00ff11,#12ff00,#2bff00,#36ff00,#2eff00,#17ff00,#00ff09,#00ff2d,#00ff52,#00ff78,#00ffa3,#00ffd6,#00f3ff,#00cbff,#00a4ff,#0083ff,#006aff,#0059ff,#004fff,#004dff)"></i><i style="background:linear-gradient(90deg,#00aaff,#00b0ff,#00c7ff,#00dbff,#00ebff,#00fbff,#00ffea,#00ffcc,#00ffaa,#00ff85,#00ff5f,#00ff38,#00ff1b,#00ff0f,#00ff19,#00ff35,#00ff57,#00ff79,#00ff97,#00ffb2,#00ffcf,#00fff6,#00e5ff,#00c0ff,#009aff,#007bff,#0064ff,#0055ff,#004cff,#004aff)"></i><i style="background:linear-gradient(90deg,#00aeff,#00b3ff,#00c7ff,#00d5ff,#00deff,#00e5ff,#00ebff,#00f3ff,#00fffe,#00ffdf,#00ffb4,#00ff82,#00ff59,#00ff49,#00ff56,#00ff78,#00ff9f,#00ffc0,#00ffd6,#00ffe5,#00fff5,#00f5ff,#00dbff,#00b8ff,#0093ff,#0075ff,#005fff,#0051ff,#004aff,#0049ff)"></i><i style="background:linear-gradient(90deg,#00b5ff,#00baff,#00cbff,#00d3ff,#00d4ff,#00ceff,#00c4ff,#00b7ff,#00b0ff,#00bdff,#00e1ff,#00ffdf,#00ff99,#00ff7b,#00ff8a,#00ffb4,#00ffe1,#00feff,#00f5ff,#00f4ff,#00f3ff,#00ebff,#00d5ff,#00b4ff,#0090ff,#0071ff,#005bff,#004fff,#0048ff,#0047ff)"></i><i style="background:linear-gradient(90deg,#00bfff,#00c4ff,#00d2ff,#00d5ff,#00ccff,#00b9ff,#0098ff,#006cff,#0049ff,#004cff,#0082ff,#00d2ff,#00ffda,#00ffa6,#00ffb4,#00ffe6,#00efff,#00dcff,#00d7ff,#00deff,#00e6ff,#00e5ff,#00d4ff,#00b4ff,#008fff,#006fff,#0059ff,#004dff,#0047ff,#0047ff)"></i><i style="background:linear-gradient(90deg,#00cbff,#00cfff,#00dcff,#00daff,#00cbff,#00aeff,#0082ff,#0049ff,#001aff,#001aff,#0055ff,#00b1ff,#00fffe,#00ffc3,#00ffd4,#00f5ff,#00d2ff,#00bfff,#00bfff,#00ccff,#00ddff,#00e3ff,#00d6ff,#00b6ff,#0090ff,#006fff,#0058ff,#004cff,#0047ff,#0046ff)"></i><i style="background:linear-gradient(90deg,#00d7ff,#00dcff,#00e7ff,#00e2ff,#00cfff,#00b1ff,#008bff,#0061ff,#0042ff,#0045ff,#0074ff,#00beff,#00ffff,#00ffd0,#00ffeb,#00e2ff,#00bbff,#00a8ff,#00acff,#00c0ff,#00d8ff,#00e4ff,#00d9ff,#00baff,#0092ff,#006fff,#0058ff,#004cff,#0047ff,#0046ff)"></i><i style="background:linear-gradient(90deg,#00e3ff,#00e7ff,#00f2ff,#00ebff,#00d5ff,#00b7ff,#0098ff,#007eff,#006fff,#0076ff,#0098ff,#00ceff,#00fffd,#00ffdc,#00ffff,#00d3ff,#00aaff,#0098ff,#009fff,#00b8ff,#00d5ff,#00e5ff,#00ddff,#00beff,#0095ff,#0071ff,#0059ff,#004cff,#0047ff,#0046ff)"></i><i style="background:linear-gradient(90deg,#00edff,#00f2ff,#00fcff,#00f4ff,#00dcff,#00bcff,#009eff,#0087ff,#007dff,#0084ff,#00a1ff,#00ceff,#00faff,#00ffec,#00f4ff,#00c6ff,#009dff,#008bff,#0094ff,#00b0ff,#00d2ff,#00e6ff,#00e0ff,#00c0ff,#0097ff,#0072ff,#0059ff,#004dff,#0047ff,#0047ff)"></i><i style="background:linear-gradient(90deg,#00f4ff,#00f9ff,#00fff5,#00fcff,#00e3ff,#00c2ff,#00a3ff,#008cff,#0081ff,#0087ff,#00a0ff,#00c9ff,#00f1ff,#00ffff,#00e7ff,#00b7ff,#0089ff,#006eff,#0073ff,#0094ff,#00c1ff,#00deff,#00deff,#00c1ff,#0098ff,#0073ff,#005aff,#004dff,#0048ff,#0047ff)"></i><i style="background:linear-gradient(90deg,#00f9ff,#00feff,#00ffeb,#00fff9,#00eaff,#00caff,#00abff,#0094ff,#008aff,#008eff,#00a3ff,#00c7ff,#00e9ff,#00f3ff,#00d9ff,#00a1ff,#005fff,#002cff,#0023ff,#004dff,#0092ff,#00c8ff,#00d5ff,#00beff,#0097ff,#0073ff,#005bff,#004eff,#0049ff,#0048ff)"></i><i style="background:linear-gradient(90deg,#00fbff,#00fffc,#00ffe5,#00ffef,#00f3ff,#00d5ff,#00b8ff,#00a3ff,#0099ff,#009cff,#00adff,#00caff,#00e5ff,#00ecff,#00d2ff,#009aff,#0050ff,#0011ff,#0000fe,#002cff,#007bff,#00baff,#00ceff,#00baff,#0096ff,#0073ff,#005cff,#004fff,#004aff,#0049ff)"></i><i style="background:linear-gradient(90deg,#00fbff,#00fffb,#00ffe1,#00ffe6,#00fcff,#00e2ff,#00c9ff,#00b8ff,#00afff,#00b1ff,#00bfff,#00d5ff,#00eaff,#00eeff,#00dbff,#00b3ff,#0082ff,#005cff,#0054ff,#0073ff,#00a6ff,#00cbff,#00d1ff,#00b9ff,#0095ff,#0073ff,#005dff,#0051ff,#004bff,#004aff)"></i><i style="background:linear-gradient(90deg,#00fbff,#00fffc,#00ffde,#00ffdc,#00fff2,#00f3ff,#00dfff,#00d1ff,#00cbff,#00ceff,#00d8ff,#00e8ff,#00f6ff,#00f9ff,#00ebff,#00d3ff,#00baff,#00aaff,#00aaff,#00bbff,#00d1ff,#00ddff,#00d4ff,#00b8ff,#0094ff,#0075ff,#005fff,#0053ff,#004dff,#004cff)"></i><i style="background:linear-gradient(90deg,#00faff,#00fffd,#00ffda,#00ffd1,#00ffdd,#00fff4,#00f8ff,#00efff,#00ecff,#00efff,#00f8ff,#00fff9,#00ffea,#00ffe9,#00fffb,#00efff,#00deff,#00d3ff,#00d2ff,#00daff,#00e3ff,#00e3ff,#00d5ff,#00b8ff,#0095ff,#0077ff,#0062ff,#0056ff,#004fff,#004eff)"></i><i style="background:linear-gradient(90deg,#00faff,#00fffc,#00ffd4,#00ffc3,#00ffc4,#00ffcf,#00ffdc,#00ffe2,#00ffe2,#00ffdb,#00ffcf,#00ffc2,#00ffba,#00ffbc,#00ffcd,#00ffe6,#00feff,#00f3ff,#00eeff,#00eeff,#00efff,#00e9ff,#00d7ff,#00b9ff,#0099ff,#007cff,#0067ff,#005aff,#0053ff,#0051ff)"></i><i style="background:linear-gradient(90deg,#00fcff,#00fff8,#00ffcc,#00ffb2,#00ffa8,#00ffa8,#00ffaa,#00ffa9,#00ffa3,#00ff9a,#00ff8f,#00ff86,#00ff82,#00ff87,#00ff96,#00ffad,#00ffc6,#00ffdc,#00ffec,#00fff6,#00feff,#00f2ff,#00dcff,#00bfff,#009eff,#0082ff,#006eff,#0060ff,#0057ff,#0055ff)"></i><i style="background:linear-gradient(90deg,#00ffff,#00fff2,#00ffc0,#00ff9e,#00ff8b,#00ff80,#00ff78,#00ff70,#00ff65,#00ff5a,#00ff4f,#00ff48,#00ff47,#00ff4e,#00ff5d,#00ff72,#00ff8b,#00ffa4,#00ffba,#00ffce,#00ffe3,#00feff,#00e5ff,#00c7ff,#00a7ff,#008bff,#0075ff,#0066ff,#005bff,#0059ff)"></i><i style="background:linear-gradient(90deg,#00fff6,#00ffe9,#00ffb2,#00ff89,#00ff6d,#00ff58,#00ff48,#00ff38,#00ff29,#00ff1b,#00ff11,#00ff0b,#00ff0c,#00ff14,#00ff23,#00ff38,#00ff52,#00ff6e,#00ff8a,#00ffa5,#00ffc3,#00ffe8,#00f1ff,#00d1ff,#00b1ff,#0095ff,#007eff,#006dff,#0061ff,#005eff)"></i><i style="background:linear-gradient(90deg,#00ffeb,#00ffdd,#00ffa3,#00ff74,#00ff4f,#00ff32,#00ff19,#00ff03,#11ff00,#22ff00,#2eff00,#33ff00,#31ff00,#27ff00,#16ff00,#00ff01,#00ff1c,#00ff3b,#00ff5b,#00ff7d,#00ffa2,#00ffcd,#00ffff,#00deff,#00bdff,#00a0ff,#0087ff,#0075ff,#0066ff,#0063ff)"></i><i style="background:linear-gradient(90deg,#00ffdf,#00ffd0,#00ff93,#00ff5e,#00ff31,#00ff0c,#15ff00,#34ff00,#4eff00,#64ff00,#72ff00,#77ff00,#73ff00,#65ff00,#50ff00,#35ff00,#16ff00,#00ff0c,#00ff31,#00ff58,#00ff83,#00ffb3,#00ffe8,#00ebff,#00c9ff,#00abff,#0091ff,#007cff,#006cff,#0069ff)"></i><i style="background:linear-gradient(90deg,#00ffd3,#00ffc4,#00ff83,#00ff49,#00ff15,#1aff00,#45ff00,#6dff00,#92ff00,#afff00,#c1ff00,#c7ff00,#bfff00,#abff00,#8fff00,#6cff00,#46ff00,#1eff00,#00ff0b,#00ff37,#00ff66,#00ff9a,#00ffd2,#00f7ff,#00d5ff,#00b5ff,#009aff,#0083ff,#0072ff,#006eff)"></i><i style="background:linear-gradient(90deg,#00ffc8,#00ffb8,#00ff75,#00ff36,#06ff00,#3eff00,#75ff00,#abff00,#dcff00,#fffc00,#ffee00,#ffea00,#fff100,#faff00,#d2ff00,#a4ff00,#75ff00,#45ff00,#16ff00,#00ff1b,#00ff4d,#00ff84,#00ffbe,#00fffa,#00dfff,#00beff,#00a1ff,#0089ff,#0076ff,#0072ff)"></i><i style="background:linear-gradient(90deg,#00ffc0,#00ffb0,#00ff6a,#00ff26,#1dff00,#5fff00,#a3ff00,#e7ff00,#ffe800,#ffc900,#ffb600,#ffb200,#ffbc00,#ffd300,#fff300,#d9ff00,#9eff00,#66ff00,#30ff00,#00ff05,#00ff3b,#00ff73,#00ffaf,#00ffec,#00e6ff,#00c5ff,#00a7ff,#008eff,#007aff,#0076ff)"></i><i style="background:linear-gradient(90deg,#00ffbb,#00ffac,#00ff64,#00ff1c,#2cff00,#77ff00,#c6ff00,#fff100,#ffc400,#ffa000,#ff8900,#ff8400,#ff9100,#ffad00,#ffd300,#fffd00,#bdff00,#7dff00,#42ff00,#0aff00,#00ff2f,#00ff69,#00ffa6,#00ffe3,#00ebff,#00c9ff,#00abff,#0092ff,#007dff,#0078ff)"></i><i style="background:linear-gradient(90deg,#00ffbc,#00ffac,#00ff64,#00ff1b,#31ff00,#81ff00,#d5ff00,#ffe400,#ffb300,#ff8b00,#ff7300,#ff6e00,#ff7c00,#ff9b00,#ffc400,#fff200,#cbff00,#87ff00,#4aff00,#0fff00,#00ff2a,#00ff65,#00ffa3,#00ffe0,#00edff,#00cbff,#00adff,#0093ff,#007eff,#0079ff)"></i><i style="background:linear-gradient(90deg,#00ffc3,#00ffb4,#00ff6c,#00ff23,#29ff00,#78ff00,#ccff00,#ffeb00,#ffbb00,#ff9300,#ff7b00,#ff7600,#ff8400,#ffa200,#ffca00,#fff600,#c5ff00,#82ff00,#45ff00,#0bff00,#00ff2f,#00ff6a,#00ffa7,#00ffe4,#00ebff,#00caff,#00acff,#0092ff,#007dff,#0079ff)"></i><i style="background:linear-gradient(90deg,#00ffd1,#00ffc2,#00ff7d,#00ff36,#13ff00,#5dff00,#abff00,#f8ff00,#ffd800,#ffb600,#ffa000,#ff9b00,#ffa700,#ffc100,#ffe400,#ecff00,#abff00,#6eff00,#34ff00,#00ff04,#00ff3c,#00ff76,#00ffb2,#00ffee,#00e6ff,#00c5ff,#00a8ff,#0090ff,#007cff,#0077ff)"></i><i style="background:linear-gradient(90deg,#00ffe6,#00ffd7,#00ff95,#00ff52,#00ff0e,#35ff00,#79ff00,#bbff00,#f6ff00,#ffe800,#ffd600,#ffd100,#ffda00,#ffee00,#edff00,#b8ff00,#82ff00,#4dff00,#19ff00,#00ff1c,#00ff53,#00ff8b,#00ffc5,#00ffff,#00ddff,#00beff,#00a3ff,#008bff,#0078ff,#0074ff)"></i><i style="background:linear-gradient(90deg,#00ffff,#00fff2,#00ffb4,#00ff75,#00ff37,#05ff00,#3fff00,#75ff00,#a5ff00,#caff00,#e2ff00,#e9ff00,#dfff00,#c7ff00,#a5ff00,#7cff00,#51ff00,#24ff00,#00ff0b,#00ff3d,#00ff71,#00ffa7,#00ffdf,#00f1ff,#00d1ff,#00b4ff,#009bff,#0085ff,#0074ff,#0071ff)"></i><i style="background:linear-gradient(90deg,#00ecff,#00f4ff,#00ffd8,#00ff9e,#00ff65,#00ff2f,#03ff00,#31ff00,#57ff00,#74ff00,#87ff00,#8dff00,#87ff00,#77ff00,#5eff00,#3fff00,#1cff00,#00ff0c,#00ff36,#00ff65,#00ff96,#00ffca,#00fffe,#00e0ff,#00c3ff,#00a9ff,#0092ff,#007eff,#006fff,#006cff)"></i><i style="background:linear-gradient(90deg,#00d8ff,#00dfff,#00feff,#00ffcb,#00ff97,#00ff66,#00ff39,#00ff12,#0fff00,#27ff00,#36ff00,#3cff00,#39ff00,#2dff00,#1bff00,#02ff00,#00ff1d,#00ff40,#00ff67,#00ff93,#00ffc1,#00fff2,#00eaff,#00ceff,#00b3ff,#009cff,#0088ff,#0077ff,#006aff,#0067ff)"></i><i style="background:linear-gradient(90deg,#00c3ff,#00c9ff,#00e5ff,#00fffb,#00ffcb,#00ff9f,#00ff76,#00ff53,#00ff36,#00ff21,#00ff13,#00ff0d,#00ff0f,#00ff18,#00ff28,#00ff3d,#00ff58,#00ff79,#00ff9d,#00ffc6,#00fff1,#00edff,#00d3ff,#00baff,#00a3ff,#008fff,#007eff,#0070ff,#0065ff,#0063ff)"></i><i style="background:linear-gradient(90deg,#00aeff,#00b3ff,#00cbff,#00e4ff,#00fdff,#00ffda,#00ffb5,#00ff95,#00ff7b,#00ff67,#00ff5a,#00ff54,#00ff56,#00ff5e,#00ff6b,#00ff7f,#00ff98,#00ffb5,#00ffd7,#00fffc,#00eaff,#00d3ff,#00bcff,#00a6ff,#0093ff,#0082ff,#0074ff,#0069ff,#0060ff,#005eff)"></i><i style="background:linear-gradient(90deg,#009aff,#009eff,#00b2ff,#00c8ff,#00ddff,#00f2ff,#00fff4,#00ffd8,#00ffc0,#00ffae,#00ffa2,#00ff9d,#00ff9e,#00ffa5,#00ffb1,#00ffc3,#00ffd9,#00fff4,#00f4ff,#00e1ff,#00cdff,#00b9ff,#00a5ff,#0094ff,#0084ff,#0076ff,#006bff,#0063ff,#005cff,#005bff)"></i><i style="background:linear-gradient(90deg,#0088ff,#008bff,#009bff,#00adff,#00bfff,#00d0ff,#00e1ff,#00efff,#00fcff,#00fff4,#00ffea,#00ffe5,#00ffe6,#00ffec,#00fff7,#00faff,#00efff,#00e1ff,#00d2ff,#00c1ff,#00b1ff,#00a0ff,#0091ff,#0083ff,#0077ff,#006cff,#0064ff,#005eff,#0059ff,#0058ff)"></i><i style="background:linear-gradient(90deg,#0078ff,#007bff,#0087ff,#0095ff,#00a3ff,#00b1ff,#00bfff,#00cbff,#00d5ff,#00ddff,#00e2ff,#00e5ff,#00e4ff,#00e1ff,#00dcff,#00d4ff,#00caff,#00bfff,#00b2ff,#00a5ff,#0098ff,#008bff,#007fff,#0075ff,#006cff,#0064ff,#005eff,#005aff,#0056ff,#0056ff)"></i><i style="background:linear-gradient(90deg,#006cff,#006eff,#0077ff,#0081ff,#008bff,#0096ff,#00a1ff,#00aaff,#00b2ff,#00b9ff,#00bdff,#00bfff,#00bfff,#00bcff,#00b8ff,#00b2ff,#00aaff,#00a1ff,#0097ff,#008dff,#0083ff,#007aff,#0071ff,#006aff,#0063ff,#005eff,#005aff,#0057ff,#0055ff,#0054ff)"></i><i style="background:linear-gradient(90deg,#005fff,#0060ff,#0066ff,#006dff,#0075ff,#007dff,#0084ff,#008bff,#0091ff,#0096ff,#0099ff,#009bff,#009bff,#0099ff,#0095ff,#0091ff,#008bff,#0084ff,#007dff,#0076ff,#006fff,#0068ff,#0062ff,#005dff,#0059ff,#0056ff,#0053ff,#0051ff,#0050ff,#004fff)"></i><i style="background:linear-gradient(90deg,#0053ff,#0054ff,#0058ff,#005cff,#0061ff,#0067ff,#006cff,#0071ff,#0075ff,#0078ff,#007bff,#007cff,#007cff,#007aff,#0078ff,#0075ff,#0070ff,#006cff,#0067ff,#0062ff,#005dff,#0059ff,#0055ff,#0052ff,#004fff,#004dff,#004cff,#004aff,#004aff,#004aff)"></i><i style="background:linear-gradient(90deg,#0049ff,#004aff,#004cff,#004fff,#0052ff,#0055ff,#0059ff,#005cff,#005fff,#0061ff,#0063ff,#0063ff,#0063ff,#0062ff,#0061ff,#005fff,#005cff,#0059ff,#0056ff,#0053ff,#0050ff,#004dff,#004bff,#0049ff,#0047ff,#0046ff,#0045ff,#0044ff,#0044ff,#0044ff)"></i><i style="background:linear-gradient(90deg,#0041ff,#0042ff,#0043ff,#0045ff,#0046ff,#0048ff,#004aff,#004cff,#004eff,#004fff,#0050ff,#0051ff,#0051ff,#0050ff,#004fff,#004eff,#004cff,#004aff,#0049ff,#0047ff,#0045ff,#0043ff,#0042ff,#0041ff,#0040ff,#0040ff,#003fff,#003fff,#003fff,#003fff)"></i><i style="background:linear-gradient(90deg,#003bff,#003bff,#003cff,#003cff,#003dff,#003eff,#0040ff,#0041ff,#0042ff,#0042ff,#0043ff,#0043ff,#0043ff,#0043ff,#0042ff,#0042ff,#0041ff,#0040ff,#003fff,#003eff,#003dff,#003cff,#003bff,#003bff,#003aff,#003aff,#003aff,#0039ff,#0039ff,#0039ff)"></i><i style="background:linear-gradient(90deg,#0035ff,#0035ff,#0035ff,#0036ff,#0036ff,#0037ff,#0037ff,#0038ff,#0038ff,#0039ff,#0039ff,#0039ff,#0039ff,#0039ff,#0039ff,#0038ff,#0038ff,#0037ff,#0037ff,#0036ff,#0036ff,#0035ff,#0035ff,#0035ff,#0034ff,#0034ff,#0034ff,#0034ff,#0034ff,#0034ff)"></i><i style="background:linear-gradient(90deg,#0030ff,#0030ff,#0030ff,#0030ff,#0030ff,#0030ff,#0031ff,#0031ff,#0031ff,#0031ff,#0032ff,#0032ff,#0032ff,#0032ff,#0031ff,#0031ff,#0031ff,#0031ff,#0030ff,#0030ff,#0030ff,#0030ff,#0030ff,#0030ff,#002fff,#002fff,#002fff,#002fff,#002fff,#002fff)"></i><i style="background:linear-gradient(90deg,#002bff,#002bff,#002bff,#002bff,#002cff,#002cff,#002cff,#002cff,#002cff,#002cff,#002cff,#002cff,#002cff,#002cff,#002cff,#002cff,#002cff,#002cff,#002cff,#002cff,#002bff,#002bff,#002bff,#002bff,#002bff,#002bff,#002bff,#002bff,#002bff,#002bff)"></i><i style="background:linear-gradient(90deg,#0027ff,#0027ff,#0027ff,#0027ff,#0027ff,#0027ff,#0027ff,#0027ff,#0027ff,#0027ff,#0027ff,#0027ff,#0027ff,#0027ff,#0027ff,#0027ff,#0027ff,#0027ff,#0027ff,#0027ff,#0027ff,#0027ff,#0027ff,#0027ff,#0027ff,#0027ff,#0027ff,#0027ff,#0027ff,#0027ff)"></i><i style="background:linear-gradient(90deg,#0023ff,#0023ff,#0023ff,#0023ff,#0023ff,#0023ff,#0023ff,#0023ff,#0023ff,#0023ff,#0023ff,#0023ff,#0023ff,#0023ff,#0023ff,#0023ff,#0023ff,#0023ff,#0023ff,#0023ff,#0023ff,#0023ff,#0023ff,#0023ff,#0023ff,#0023ff,#0023ff,#0023ff,#0023ff,#0023ff)"></i><i style="background:linear-gradient(90deg,#001fff,#001fff,#001fff,#001fff,#001fff,#001fff,#001fff,#001fff,#001fff,#001fff,#001fff,#001fff,#001fff,#001fff,#001fff,#001fff,#001fff,#001fff,#001fff,#001fff,#001fff,#001fff,#001fff,#001fff,#001fff,#001fff,#001fff,#001fff,#001fff,#001fff)"></i><i style="background:linear-gradient(90deg,#001bff,#001bff,#001bff,#001bff,#001bff,#001bff,#001bff,#001bff,#001bff,#001bff,#001bff,#001bff,#001bff,#001bff,#001bff,#001bff,#001bff,#001bff,#001bff,#001bff,#001bff,#001bff,#001bff,#001bff,#001bff,#001bff,#001bff,#001bff,#001bff,#001bff)"></i><i style="background:linear-gradient(90deg,#0017ff,#0017ff,#0017ff,#0017ff,#0017ff,#0017ff,#0017ff,#0017ff,#0017ff,#0017ff,#0017ff,#0017ff,#0017ff,#0017ff,#0017ff,#0017ff,#0017ff,#0017ff,#0017ff,#0017ff,#0017ff,#0017ff,#0017ff,#0017ff,#0017ff,#0017ff,#0017ff,#0017ff,#0017ff,#0017ff)"></i><i style="background:linear-gradient(90deg,#0013ff,#0013ff,#0013ff,#0013ff,#0013ff,#0013ff,#0013ff,#0013ff,#0013ff,#0013ff,#0013ff,#0013ff,#0013ff,#0013ff,#0013ff,#0013ff,#0013ff,#0013ff,#0013ff,#0013ff,#0013ff,#0013ff,#0013ff,#0013ff,#0013ff,#0013ff,#0013ff,#0013ff,#0013ff,#0013ff)"></i><i style="background:linear-gradient(90deg,#000eff,#000eff,#000eff,#000eff,#000eff,#000eff,#000eff,#000eff,#000eff,#000eff,#000eff,#000eff,#000eff,#000eff,#000eff,#000eff,#000eff,#000eff,#000eff,#000eff,#000eff,#000eff,#000eff,#000eff,#000eff,#000eff,#000eff,#000eff,#000eff,#000eff)"></i><i style="background:linear-gradient(90deg,#000aff,#000aff,#000aff,#000aff,#000aff,#000aff,#000aff,#000aff,#000aff,#000aff,#000aff,#000aff,#000aff,#000aff,#000aff,#000aff,#000aff,#000aff,#000aff,#000aff,#000aff,#000aff,#000aff,#000aff,#000aff,#000aff,#000aff,#000aff,#000aff,#000aff)"></i><i style="background:linear-gradient(90deg,#0006ff,#0006ff,#0006ff,#0006ff,#0006ff,#0006ff,#0006ff,#0006ff,#0006ff,#0006ff,#0006ff,#0006ff,#0006ff,#0006ff,#0006ff,#0006ff,#0006ff,#0006ff,#0006ff,#0006ff,#0006ff,#0006ff,#0006ff,#0006ff,#0006ff,#0006ff,#0006ff,#0006ff,#0006ff,#0006ff)"></i><i style="background:linear-gradient(90deg,#0005ff,#0005ff,#0005ff,#0005ff,#0005ff,#0005ff,#0005ff,#0005ff,#0005ff,#0005ff,#0005ff,#0005ff,#0005ff,#0005ff,#0005ff,#0005ff,#0005ff,#0005ff,#0005ff,#0005ff,#0005ff,#0005ff,#0005ff,#0005ff,#0005ff,#0005ff,#0005ff,#0005ff,#0005ff,#0005ff)"></i><i style="background:linear-gradient(90deg,#0005ff,#0005ff,#0005ff,#0005ff,#0005ff,#0005ff,#0005ff,#0005ff,#0005ff,#0005ff,#0005ff,#0005ff,#0005ff,#0005ff,#0005ff,#0005ff,#0005ff,#0005ff,#0005ff,#0005ff,#0005ff,#0005ff,#0005ff,#0005ff,#0005ff,#0005ff,#0005ff,#0005ff,#0005ff,#0005ff)"></i></div></div>
<svg width="685" height="564" viewBox="0 0 685 564">
<g font-weight="bold">
<rect x="25.6" y="1.7" width="236.50000000000003" height="174.60000000000002" fill="none" stroke="#6a6a6a" stroke-width="1.4"/>
<path d="M25.8,176.3v3.0M45.5,176.3v1.6M65.1,176.3v3.0M84.8,176.3v1.6M104.4,176.3v3.0M124.0,176.3v1.6M143.7,176.3v3.0M163.3,176.3v1.6M183.0,176.3v3.0M202.7,176.3v1.6M222.3,176.3v3.0M241.9,176.3v1.6M261.6,176.3v3.0" stroke="#333" stroke-width="0.9" fill="none"/>
<text x="25.8" y="187.1" font-size="7.3" fill="#000" text-anchor="middle" >0</text>
<text x="65.1" y="187.1" font-size="7.3" fill="#000" text-anchor="middle" >1</text>
<text x="104.4" y="187.1" font-size="7.3" fill="#000" text-anchor="middle" >2</text>
<text x="143.7" y="187.1" font-size="7.3" fill="#000" text-anchor="middle" >3</text>
<text x="183.0" y="187.1" font-size="7.3" fill="#000" text-anchor="middle" >4</text>
<text x="222.3" y="187.1" font-size="7.3" fill="#000" text-anchor="middle" >5</text>
<text x="261.6" y="187.1" font-size="7.3" fill="#000" text-anchor="middle" >6</text>
<path d="M25.6,176.3H262.1" stroke="#4a4a4a" stroke-width="1.3" fill="none"/>
<path d="M26.0,37.6C27.0,37.4 29.7,36.4 32.0,36.4C34.3,36.4 37.3,37.7 40.0,37.6C42.7,37.5 45.5,35.7 48.0,35.6C50.5,35.5 52.7,37.2 55.0,37.0C57.3,36.8 59.8,34.3 62.0,34.4C64.2,34.5 66.2,38.5 68.0,37.4C69.8,36.3 71.2,31.9 73.0,28.0C74.8,24.1 77.2,17.3 79.0,14.0C80.8,10.7 82.3,8.9 84.0,8.4C85.7,7.9 87.3,9.2 89.0,11.0C90.7,12.8 92.5,17.0 94.0,19.0C95.5,21.0 96.3,21.8 98.0,23.0C99.7,24.2 102.0,24.8 104.0,26.0C106.0,27.2 108.0,30.6 110.0,30.4C112.0,30.2 114.2,26.2 116.0,25.0C117.8,23.8 119.3,22.9 121.0,23.0C122.7,23.1 124.2,24.1 126.0,25.6C127.8,27.1 130.3,30.5 132.0,32.0C133.7,33.5 134.3,33.8 136.0,34.4C137.7,35.0 140.0,35.0 142.0,35.6C144.0,36.2 145.8,37.9 148.0,38.0C150.2,38.1 152.7,36.1 155.0,36.0C157.3,35.9 159.5,37.5 162.0,37.6C164.5,37.7 167.3,36.6 170.0,36.6C172.7,36.6 175.3,37.6 178.0,37.6C180.7,37.6 183.0,36.4 186.0,36.4C189.0,36.4 192.7,37.5 196.0,37.6C199.3,37.7 203.0,36.7 206.0,36.8C209.0,36.9 211.0,37.9 214.0,38.0C217.0,38.1 220.3,37.2 224.0,37.2C227.7,37.2 231.7,37.9 236.0,38.0C240.3,38.1 245.7,37.6 250.0,37.6C254.3,37.6 260.0,37.9 262.0,38.0" stroke="#f4686a" stroke-width="1.15" fill="none" stroke-linejoin="round"/>
<path d="M26.0,82.6C28.3,82.5 35.0,82.1 40.0,82.0C45.0,81.9 51.7,82.2 56.0,82.0C60.3,81.8 63.2,81.1 66.0,81.0C68.8,80.9 70.7,81.9 73.0,81.6C75.3,81.3 77.5,79.1 80.0,79.0C82.5,78.9 85.8,81.8 88.0,81.0C90.2,80.2 91.3,77.5 93.0,74.0C94.7,70.5 96.2,64.3 98.0,60.0C99.8,55.7 102.2,50.8 104.0,48.0C105.8,45.2 107.7,44.0 109.0,43.0C110.3,42.0 110.7,41.8 112.0,42.0C113.3,42.2 115.0,42.4 117.0,44.4C119.0,46.4 121.8,50.7 124.0,54.0C126.2,57.3 128.0,60.5 130.0,64.0C132.0,67.5 134.3,72.1 136.0,75.0C137.7,77.9 138.9,81.1 140.4,81.6C141.9,82.1 143.4,79.0 145.0,78.0C146.6,77.0 148.0,75.8 150.0,75.6C152.0,75.4 154.7,77.4 157.0,77.0C159.3,76.6 161.7,74.2 164.0,73.0C166.3,71.8 168.8,70.0 171.0,70.0C173.2,70.0 175.0,71.2 177.0,73.0C179.0,74.8 181.2,80.8 183.0,81.0C184.8,81.2 186.2,77.2 188.0,74.0C189.8,70.8 191.8,64.9 194.0,62.0C196.2,59.1 198.8,56.9 201.0,56.4C203.2,55.9 204.8,56.7 207.0,59.0C209.2,61.3 211.8,66.7 214.0,70.0C216.2,73.3 218.4,76.9 220.0,79.0C221.6,81.1 222.3,82.4 223.6,82.6C224.9,82.8 225.9,80.8 228.0,80.0C230.1,79.2 233.0,78.1 236.0,77.6C239.0,77.1 242.7,76.8 246.0,77.0C249.3,77.2 253.3,78.3 256.0,79.0C258.7,79.7 261.0,80.7 262.0,81.0" stroke="#10c57c" stroke-width="1.15" fill="none" stroke-linejoin="round"/>
<path d="M26.0,128.0C27.7,127.7 33.0,126.5 36.0,126.0C39.0,125.5 41.3,125.6 44.0,125.0C46.7,124.4 49.7,123.0 52.0,122.4C54.3,121.8 56.0,122.5 58.0,121.6C60.0,120.7 62.0,119.1 64.0,117.0C66.0,114.9 68.0,111.2 70.0,109.0C72.0,106.8 74.0,105.4 76.0,104.0C78.0,102.6 80.5,101.4 82.0,100.5C83.5,99.6 83.8,98.2 85.0,98.4C86.2,98.7 87.5,99.7 89.0,102.0C90.5,104.3 92.2,108.5 94.0,112.0C95.8,115.5 98.3,121.7 100.0,123.0C101.7,124.3 102.5,120.5 104.0,120.0C105.5,119.5 107.7,120.5 109.0,120.0C110.3,119.5 110.8,119.0 112.0,117.0C113.2,115.0 114.7,111.3 116.0,108.0C117.3,104.7 118.8,100.0 120.0,97.0C121.2,94.0 122.0,91.7 123.0,90.0C124.0,88.3 124.8,86.8 126.0,87.0C127.2,87.2 128.7,88.5 130.0,91.0C131.3,93.5 132.3,99.2 134.0,102.0C135.7,104.8 137.7,107.4 140.0,108.0C142.3,108.6 145.7,105.0 148.0,105.5C150.3,106.0 151.7,108.7 154.0,111.0C156.3,113.3 159.7,118.3 162.0,119.6C164.3,120.9 165.3,118.0 168.0,119.0C170.7,120.0 175.0,125.2 178.0,125.6C181.0,126.0 183.0,122.4 186.0,121.6C189.0,120.8 193.0,120.5 196.0,120.6C199.0,120.7 201.2,122.3 204.0,122.0C206.8,121.7 209.7,118.6 213.0,119.0C216.3,119.4 220.8,123.4 224.0,124.4C227.2,125.4 229.5,125.0 232.0,125.0C234.5,125.0 237.0,124.3 239.0,124.4C241.0,124.5 242.2,125.6 244.0,125.6C245.8,125.6 247.0,124.1 250.0,124.4C253.0,124.7 260.0,127.1 262.0,127.6" stroke="#5566fb" stroke-width="1.15" fill="none" stroke-linejoin="round"/>
<path d="M26.0,170.4C27.7,170.3 32.3,169.7 36.0,169.6C39.7,169.5 45.0,170.3 48.0,170.0C51.0,169.7 51.3,169.3 54.0,168.0C56.7,166.7 60.7,164.0 64.0,162.0C67.3,160.0 71.0,157.7 74.0,156.0C77.0,154.3 79.7,152.6 82.0,151.6C84.3,150.6 85.8,149.9 87.6,150.0C89.4,150.1 91.1,150.6 93.0,152.4C94.9,154.2 97.0,158.1 99.0,161.0C101.0,163.9 103.3,169.4 105.0,169.6C106.7,169.8 107.5,165.6 109.0,162.0C110.5,158.4 112.2,152.3 114.0,148.0C115.8,143.7 117.9,138.7 120.0,136.0C122.1,133.3 124.2,131.6 126.4,131.6C128.6,131.6 131.4,134.3 133.0,136.0C134.6,137.7 134.5,139.0 136.0,142.0C137.5,145.0 140.2,150.5 142.0,154.0C143.8,157.5 145.5,161.1 147.0,163.0C148.5,164.9 149.5,165.8 151.0,165.6C152.5,165.4 154.2,163.0 156.0,162.0C157.8,161.0 160.0,159.7 162.0,159.6C164.0,159.5 166.0,160.4 168.0,161.6C170.0,162.8 172.0,165.3 174.0,167.0C176.0,168.7 178.2,171.8 180.0,172.0C181.8,172.2 183.0,169.5 185.0,168.0C187.0,166.5 189.5,164.2 192.0,163.0C194.5,161.8 197.0,160.9 200.0,160.6C203.0,160.3 206.0,160.6 210.0,161.0C214.0,161.4 219.3,162.6 224.0,163.0C228.7,163.4 233.7,163.3 238.0,163.6C242.3,163.9 246.0,164.3 250.0,165.0C254.0,165.7 260.0,167.2 262.0,167.6" stroke="#777777" stroke-width="1.15" fill="none" stroke-linejoin="round"/>
<path d="M84.2,3V28" stroke="#222" stroke-width="0.7" stroke-dasharray="1.6,1" fill="none"/>
<path d="M121,12.4V37.6" stroke="#222" stroke-width="0.7" stroke-dasharray="1.6,1" fill="none"/>
<path d="M111.6,33V57.6" stroke="#222" stroke-width="0.7" stroke-dasharray="1.6,1" fill="none"/>
<path d="M85.4,89.6V114.4" stroke="#222" stroke-width="0.7" stroke-dasharray="1.6,1" fill="none"/>
<path d="M126.4,79V103.6" stroke="#222" stroke-width="0.7" stroke-dasharray="1.6,1" fill="none"/>
<path d="M87.6,138.4V163" stroke="#222" stroke-width="0.7" stroke-dasharray="1.6,1" fill="none"/>
<path d="M126.4,118V143" stroke="#222" stroke-width="0.7" stroke-dasharray="1.6,1" fill="none"/>
<text x="53" y="16.4" font-size="10" fill="#000" text-anchor="start" >Fe-O</text>
<text x="125.6" y="20" font-size="10" fill="#000" text-anchor="start" >Fe-Zn</text>
<text x="81.6" y="44" font-size="10" fill="#000" text-anchor="start" >Fe-Fe</text>
<text x="61" y="99.4" font-size="10" fill="#000" text-anchor="start" >Fe-O</text>
<text x="130" y="89.4" font-size="10" fill="#000" text-anchor="start" >Fe-Fe</text>
<text x="64.6" y="148.4" font-size="10" fill="#000" text-anchor="start" >Fe-O</text>
<text x="129" y="131" font-size="10" fill="#000" text-anchor="start" >Fe-Fe</text>
<text x="175.6" y="31.4" font-size="12.5" fill="#f4686a" text-anchor="start" >Fe<tspan dy="2.2" font-size="66%">1</tspan><tspan dy="-2.2" font-size="1">&#8203;</tspan>-Zn<tspan dy="2.2" font-size="66%">1</tspan><tspan dy="-2.2" font-size="1">&#8203;</tspan>/ZSM-5</text>
<text x="219.6" y="71.6" font-size="12.5" fill="#10c57c" text-anchor="start" >Fe foil</text>
<text x="222.4" y="115" font-size="12.5" fill="#5566fb" text-anchor="start" >Fe<tspan dy="2.2" font-size="66%">2</tspan><tspan dy="-2.2" font-size="1">&#8203;</tspan>O<tspan dy="2.2" font-size="66%">3</tspan><tspan dy="-2.2" font-size="1">&#8203;</tspan></text>
<text x="226" y="158.6" font-size="12.5" fill="#808080" text-anchor="start" >FeO</text>
<text x="7.6" y="12.4" font-size="14" fill="#000" text-anchor="start" >(a)</text>
<text x="151.8" y="195.5" font-size="8.9" fill="#000" text-anchor="middle" >Radial distance (Å)</text>
<text transform="translate(17.8,92) rotate(-90)" font-size="9.1" text-anchor="middle">|χ(R)| (Å<tspan dy="-2.5" font-size="5.5">-3</tspan><tspan dy="2.5">)</tspan></text>
<rect x="285.6" y="1.7" width="234.79999999999995" height="174.10000000000002" fill="none" stroke="#6a6a6a" stroke-width="1.4"/>
<path d="M285.6,175.8v3.0M305.1,175.8v1.6M324.7,175.8v3.0M344.2,175.8v1.6M363.7,175.8v3.0M383.3,175.8v1.6M402.8,175.8v3.0M422.3,175.8v1.6M441.9,175.8v3.0M461.4,175.8v1.6M481.0,175.8v3.0M500.5,175.8v1.6M520.0,175.8v3.0" stroke="#333" stroke-width="0.9" fill="none"/>
<text x="285.6" y="186.2" font-size="7.3" fill="#000" text-anchor="middle" >0</text>
<text x="324.7" y="186.2" font-size="7.3" fill="#000" text-anchor="middle" >1</text>
<text x="363.7" y="186.2" font-size="7.3" fill="#000" text-anchor="middle" >2</text>
<text x="402.8" y="186.2" font-size="7.3" fill="#000" text-anchor="middle" >3</text>
<text x="441.9" y="186.2" font-size="7.3" fill="#000" text-anchor="middle" >4</text>
<text x="481.0" y="186.2" font-size="7.3" fill="#000" text-anchor="middle" >5</text>
<text x="520.0" y="186.2" font-size="7.3" fill="#000" text-anchor="middle" >6</text>
<path d="M285.6,175.8H520.4" stroke="#4a4a4a" stroke-width="1.3" fill="none"/>
<path d="M286.0,42.6C287.7,42.3 292.7,41.4 296.0,41.0C299.3,40.6 303.0,41.0 306.0,40.0C309.0,39.0 311.7,36.3 314.0,35.0C316.3,33.7 317.5,32.6 320.0,32.0C322.5,31.4 326.5,32.4 329.0,31.4C331.5,30.4 333.0,28.9 335.0,26.0C337.0,23.1 339.2,17.1 341.0,14.0C342.8,10.9 344.6,8.8 346.0,7.6C347.4,6.4 348.1,6.4 349.4,7.0C350.7,7.6 352.2,8.2 354.0,11.0C355.8,13.8 358.2,19.8 360.0,24.0C361.8,28.2 363.5,32.8 365.0,36.0C366.5,39.2 367.7,42.7 369.0,43.4C370.3,44.1 371.2,41.1 373.0,40.0C374.8,38.9 377.8,36.8 380.0,36.6C382.2,36.4 384.0,38.1 386.0,39.0C388.0,39.9 390.0,41.3 392.0,42.0C394.0,42.7 395.7,43.1 398.0,43.0C400.3,42.9 403.0,41.4 406.0,41.6C409.0,41.8 412.0,44.3 416.0,44.4C420.0,44.5 425.7,42.2 430.0,42.4C434.3,42.6 437.7,44.9 442.0,45.6C446.3,46.3 451.3,46.6 456.0,46.4C460.7,46.2 465.7,44.3 470.0,44.4C474.3,44.5 477.7,46.7 482.0,47.0C486.3,47.3 491.3,46.4 496.0,46.4C500.7,46.4 506.0,47.1 510.0,47.0C514.0,46.9 518.3,45.8 520.0,45.6" stroke="#f4686a" stroke-width="1.15" fill="none" stroke-linejoin="round"/>
<path d="M286.0,105.0C288.3,104.9 296.0,104.9 300.0,104.4C304.0,103.9 306.8,102.9 310.0,102.0C313.2,101.1 315.8,98.9 319.0,99.0C322.2,99.1 326.2,102.2 329.0,102.4C331.8,102.6 333.5,100.7 336.0,100.0C338.5,99.3 341.3,99.3 344.0,98.0C346.7,96.7 349.7,94.3 352.0,92.0C354.3,89.7 356.0,88.0 358.0,84.0C360.0,80.0 362.2,72.7 364.0,68.0C365.8,63.3 367.5,58.5 369.0,56.0C370.5,53.5 371.7,53.0 373.0,53.0C374.3,53.0 375.5,53.2 377.0,56.0C378.5,58.8 380.3,64.7 382.0,70.0C383.7,75.3 385.5,83.5 387.0,88.0C388.5,92.5 389.5,95.2 391.0,97.0C392.5,98.8 393.5,98.6 396.0,99.0C398.5,99.4 402.3,99.8 406.0,99.6C409.7,99.4 414.3,97.9 418.0,98.0C421.7,98.1 424.9,98.9 428.0,100.0C431.1,101.1 433.7,104.2 436.4,104.4C439.1,104.6 441.1,102.0 444.0,101.0C446.9,100.0 450.3,98.4 454.0,98.4C457.7,98.4 462.7,101.2 466.0,101.0C469.3,100.8 471.5,97.9 474.0,97.0C476.5,96.1 478.7,95.2 481.0,95.4C483.3,95.6 485.2,97.0 488.0,98.0C490.8,99.0 494.3,100.8 498.0,101.6C501.7,102.4 506.3,102.7 510.0,103.0C513.7,103.3 518.3,103.5 520.0,103.6" stroke="#5566fb" stroke-width="1.15" fill="none" stroke-linejoin="round"/>
<path d="M286.0,172.4C287.7,172.2 292.5,171.4 296.0,171.0C299.5,170.6 304.3,171.0 307.0,170.0C309.7,169.0 310.0,167.1 312.0,165.0C314.0,162.9 316.7,159.3 319.0,157.6C321.3,155.9 323.7,156.3 326.0,155.0C328.3,153.7 330.7,152.7 333.0,150.0C335.3,147.3 338.2,142.0 340.0,139.0C341.8,136.0 342.9,133.7 344.0,132.0C345.1,130.3 345.6,128.7 346.6,129.0C347.6,129.3 348.8,130.5 350.0,134.0C351.2,137.5 352.7,145.2 354.0,150.0C355.3,154.8 357.0,160.4 358.0,163.0C359.0,165.6 358.9,165.6 360.0,165.6C361.1,165.6 362.6,162.9 364.4,163.0C366.2,163.1 368.7,165.8 371.0,166.0C373.3,166.2 375.8,165.3 378.0,164.0C380.2,162.7 382.2,162.0 384.0,158.0C385.8,154.0 387.3,146.7 389.0,140.0C390.7,133.3 392.4,122.8 394.0,118.0C395.6,113.2 397.1,111.0 398.6,111.0C400.1,111.0 401.6,113.2 403.0,118.0C404.4,122.8 405.7,133.7 407.0,140.0C408.3,146.3 409.8,152.8 411.0,156.0C412.2,159.2 412.8,158.9 414.0,159.4C415.2,159.9 416.3,158.4 418.0,159.0C419.7,159.6 421.5,163.0 424.0,163.0C426.5,163.0 430.5,160.6 433.0,159.0C435.5,157.4 437.2,154.8 439.0,153.6C440.8,152.4 441.9,151.6 443.6,152.0C445.3,152.4 446.9,153.7 449.0,156.0C451.1,158.3 453.9,163.3 456.0,166.0C458.1,168.7 459.8,171.9 461.6,172.4C463.4,172.9 465.3,169.5 467.0,169.0C468.7,168.5 470.3,169.4 472.0,169.6C473.7,169.8 475.0,171.2 477.0,170.4C479.0,169.6 481.7,166.6 484.0,165.0C486.3,163.4 488.8,161.4 491.0,161.0C493.2,160.6 495.0,161.8 497.0,162.4C499.0,163.0 501.2,164.0 503.0,164.4C504.8,164.8 505.8,164.2 508.0,165.0C510.2,165.8 514.0,168.2 516.0,169.0C518.0,169.8 519.3,169.5 520.0,169.6" stroke="#10c57c" stroke-width="1.15" fill="none" stroke-linejoin="round"/>
<path d="M349.4,3.6V28.6" stroke="#222" stroke-width="0.7" stroke-dasharray="1.6,1" fill="none"/>
<path d="M380.2,25V50" stroke="#222" stroke-width="0.7" stroke-dasharray="1.6,1" fill="none"/>
<path d="M372.6,46V71" stroke="#222" stroke-width="0.7" stroke-dasharray="1.6,1" fill="none"/>
<path d="M346.4,118V142.6" stroke="#222" stroke-width="0.7" stroke-dasharray="1.6,1" fill="none"/>
<path d="M398.4,104V129" stroke="#222" stroke-width="0.7" stroke-dasharray="1.6,1" fill="none"/>
<text x="317" y="11.4" font-size="10" fill="#000" text-anchor="start" >Zn-O</text>
<text x="384.4" y="32.6" font-size="10" fill="#000" text-anchor="start" >Zn-Fe</text>
<text x="338" y="57.4" font-size="10" fill="#000" text-anchor="start" >Zn-Zn</text>
<text x="318.6" y="129.6" font-size="10" fill="#000" text-anchor="start" >Zn-O</text>
<text x="405.6" y="116.6" font-size="10" fill="#000" text-anchor="start" >Zn-Zn</text>
<text x="431" y="38" font-size="12.7" fill="#f4686a" text-anchor="start" >Fe<tspan dy="2.2" font-size="66%">1</tspan><tspan dy="-2.2" font-size="1">&#8203;</tspan>-Zn<tspan dy="2.2" font-size="66%">1</tspan><tspan dy="-2.2" font-size="1">&#8203;</tspan>/ZSM-5</text>
<text x="478" y="90.4" font-size="12.7" fill="#5566fb" text-anchor="start" >Zn foil</text>
<text x="484" y="156" font-size="12.7" fill="#10c57c" text-anchor="start" >ZnO</text>
<text x="265.8" y="12.4" font-size="14.2" fill="#000" text-anchor="start" >(b)</text>
<text x="404.4" y="194.8" font-size="8.9" fill="#000" text-anchor="middle" >Radial distance (Å)</text>
<text transform="translate(277.9,92) rotate(-90)" font-size="9.1" text-anchor="middle">|χ(R)| (Å<tspan dy="-2.5" font-size="5.5">-3</tspan><tspan dy="2.5">)</tspan></text>
<path d="M543.4,123.5v2.2M554.9,123.5v1.3M566.5,123.5v2.2M578.0,123.5v1.3M589.6,123.5v2.2M601.1,123.5v1.3M612.7,123.5v2.2M624.2,123.5v1.3M635.8,123.5v2.2M647.4,123.5v1.3M658.9,123.5v2.2M670.5,123.5v1.3M682.0,123.5v2.2M543.4,123.5h-2.2M543.4,104.3h-1.3M543.4,85.1h-2.2M543.4,65.9h-1.3M543.4,46.7h-2.2M543.4,27.5h-1.3M543.4,8.3h-2.2" stroke="#000" stroke-width="0.8" fill="none"/>
<text x="543.4" y="132.1" font-size="7.2" fill="#000" text-anchor="middle" >0</text>
<text x="566.5" y="132.1" font-size="7.2" fill="#000" text-anchor="middle" >2</text>
<text x="589.6" y="132.1" font-size="7.2" fill="#000" text-anchor="middle" >4</text>
<text x="612.7" y="132.1" font-size="7.2" fill="#000" text-anchor="middle" >6</text>
<text x="635.8" y="132.1" font-size="7.2" fill="#000" text-anchor="middle" >8</text>
<text x="658.9" y="132.1" font-size="7.2" fill="#000" text-anchor="middle" >10</text>
<text x="682.0" y="132.1" font-size="7.2" fill="#000" text-anchor="middle" >12</text>
<text x="540.2" y="125.8" font-size="7.2" fill="#000" text-anchor="end" >0</text>
<text x="540.2" y="87.4" font-size="7.2" fill="#000" text-anchor="end" >1</text>
<text x="540.2" y="49.0" font-size="7.2" fill="#000" text-anchor="end" >2</text>
<text x="540.2" y="10.6" font-size="7.2" fill="#000" text-anchor="end" >3</text>
<text x="613.0" y="140.5" font-size="8.8" fill="#000" text-anchor="middle" >k (1/Å)</text>
<text transform="translate(532.8,64.0) rotate(-90)" font-size="8.8" text-anchor="middle">R (Å)</text>
<path d="M542.9,263.4v2.2M554.5,263.4v1.3M566.0,263.4v2.2M577.6,263.4v1.3M589.1,263.4v2.2M600.7,263.4v1.3M612.2,263.4v2.2M623.8,263.4v1.3M635.4,263.4v2.2M646.9,263.4v1.3M658.5,263.4v2.2M670.0,263.4v1.3M681.6,263.4v2.2M542.9,263.4h-2.2M542.9,244.5h-1.3M542.9,225.6h-2.2M542.9,206.7h-1.3M542.9,187.8h-2.2M542.9,168.9h-1.3M542.9,150.0h-2.2" stroke="#000" stroke-width="0.8" fill="none"/>
<text x="542.9" y="272.0" font-size="7.2" fill="#000" text-anchor="middle" >0</text>
<text x="566.0" y="272.0" font-size="7.2" fill="#000" text-anchor="middle" >2</text>
<text x="589.1" y="272.0" font-size="7.2" fill="#000" text-anchor="middle" >4</text>
<text x="612.2" y="272.0" font-size="7.2" fill="#000" text-anchor="middle" >6</text>
<text x="635.4" y="272.0" font-size="7.2" fill="#000" text-anchor="middle" >8</text>
<text x="658.5" y="272.0" font-size="7.2" fill="#000" text-anchor="middle" >10</text>
<text x="681.6" y="272.0" font-size="7.2" fill="#000" text-anchor="middle" >12</text>
<text x="539.7" y="265.7" font-size="7.2" fill="#000" text-anchor="end" >0</text>
<text x="539.7" y="227.9" font-size="7.2" fill="#000" text-anchor="end" >1</text>
<text x="539.7" y="190.1" font-size="7.2" fill="#000" text-anchor="end" >2</text>
<text x="539.7" y="152.3" font-size="7.2" fill="#000" text-anchor="end" >3</text>
<text x="612.5" y="280.4" font-size="8.8" fill="#000" text-anchor="middle" >k (1/Å)</text>
<text transform="translate(532.3,204.8) rotate(-90)" font-size="8.8" text-anchor="middle">R (Å)</text>
<path d="M543.4,403.5v2.2M554.9,403.5v1.3M566.5,403.5v2.2M578.0,403.5v1.3M589.6,403.5v2.2M601.1,403.5v1.3M612.7,403.5v2.2M624.2,403.5v1.3M635.8,403.5v2.2M647.4,403.5v1.3M658.9,403.5v2.2M670.5,403.5v1.3M682.0,403.5v2.2M543.4,403.5h-2.2M543.4,384.4h-1.3M543.4,365.3h-2.2M543.4,346.2h-1.3M543.4,327.1h-2.2M543.4,308.0h-1.3M543.4,288.9h-2.2" stroke="#000" stroke-width="0.8" fill="none"/>
<text x="543.4" y="412.1" font-size="7.2" fill="#000" text-anchor="middle" >0</text>
<text x="566.5" y="412.1" font-size="7.2" fill="#000" text-anchor="middle" >2</text>
<text x="589.6" y="412.1" font-size="7.2" fill="#000" text-anchor="middle" >4</text>
<text x="612.7" y="412.1" font-size="7.2" fill="#000" text-anchor="middle" >6</text>
<text x="635.8" y="412.1" font-size="7.2" fill="#000" text-anchor="middle" >8</text>
<text x="658.9" y="412.1" font-size="7.2" fill="#000" text-anchor="middle" >10</text>
<text x="682.0" y="412.1" font-size="7.2" fill="#000" text-anchor="middle" >12</text>
<text x="540.2" y="405.8" font-size="7.2" fill="#000" text-anchor="end" >0</text>
<text x="540.2" y="367.6" font-size="7.2" fill="#000" text-anchor="end" >1</text>
<text x="540.2" y="329.4" font-size="7.2" fill="#000" text-anchor="end" >2</text>
<text x="540.2" y="291.2" font-size="7.2" fill="#000" text-anchor="end" >3</text>
<text x="613.0" y="420.5" font-size="8.8" fill="#000" text-anchor="middle" >k (1/Å)</text>
<text transform="translate(532.8,344.3) rotate(-90)" font-size="8.8" text-anchor="middle">R (Å)</text>
<path d="M543.4,542.4v2.2M554.9,542.4v1.3M566.4,542.4v2.2M578.0,542.4v1.3M589.5,542.4v2.2M601.0,542.4v1.3M612.5,542.4v2.2M624.0,542.4v1.3M635.5,542.4v2.2M647.0,542.4v1.3M658.6,542.4v2.2M670.1,542.4v1.3M681.6,542.4v2.2M543.4,542.4h-2.2M543.4,523.4h-1.3M543.4,504.5h-2.2M543.4,485.5h-1.3M543.4,466.6h-2.2M543.4,447.6h-1.3M543.4,428.7h-2.2" stroke="#000" stroke-width="0.8" fill="none"/>
<text x="543.4" y="551.0" font-size="7.2" fill="#000" text-anchor="middle" >0</text>
<text x="566.4" y="551.0" font-size="7.2" fill="#000" text-anchor="middle" >2</text>
<text x="589.5" y="551.0" font-size="7.2" fill="#000" text-anchor="middle" >4</text>
<text x="612.5" y="551.0" font-size="7.2" fill="#000" text-anchor="middle" >6</text>
<text x="635.5" y="551.0" font-size="7.2" fill="#000" text-anchor="middle" >8</text>
<text x="658.6" y="551.0" font-size="7.2" fill="#000" text-anchor="middle" >10</text>
<text x="681.6" y="551.0" font-size="7.2" fill="#000" text-anchor="middle" >12</text>
<text x="540.2" y="544.7" font-size="7.2" fill="#000" text-anchor="end" >0</text>
<text x="540.2" y="506.8" font-size="7.2" fill="#000" text-anchor="end" >1</text>
<text x="540.2" y="468.9" font-size="7.2" fill="#000" text-anchor="end" >2</text>
<text x="540.2" y="431.0" font-size="7.2" fill="#000" text-anchor="end" >3</text>
<text x="612.8" y="559.4" font-size="8.8" fill="#000" text-anchor="middle" >k (1/Å)</text>
<text transform="translate(532.8,483.7) rotate(-90)" font-size="8.8" text-anchor="middle">R (Å)</text>
<path d="M25.9,339.3v2.2M38.6,339.3v1.3M51.3,339.3v2.2M64.1,339.3v1.3M76.8,339.3v2.2M89.5,339.3v1.3M102.2,339.3v2.2M115.0,339.3v1.3M127.7,339.3v2.2M140.4,339.3v1.3M153.2,339.3v2.2M165.9,339.3v1.3M178.6,339.3v2.2M25.9,339.3h-2.2M25.9,318.2h-1.3M25.9,297.1h-2.2M25.9,276.0h-1.3M25.9,254.9h-2.2M25.9,233.8h-1.3M25.9,212.7h-2.2" stroke="#000" stroke-width="0.8" fill="none"/>
<text x="25.9" y="347.9" font-size="7.2" fill="#000" text-anchor="middle" >0</text>
<text x="51.3" y="347.9" font-size="7.2" fill="#000" text-anchor="middle" >2</text>
<text x="76.8" y="347.9" font-size="7.2" fill="#000" text-anchor="middle" >4</text>
<text x="102.2" y="347.9" font-size="7.2" fill="#000" text-anchor="middle" >6</text>
<text x="127.7" y="347.9" font-size="7.2" fill="#000" text-anchor="middle" >8</text>
<text x="153.2" y="347.9" font-size="7.2" fill="#000" text-anchor="middle" >10</text>
<text x="178.6" y="347.9" font-size="7.2" fill="#000" text-anchor="middle" >12</text>
<text x="22.7" y="341.6" font-size="7.2" fill="#000" text-anchor="end" >0</text>
<text x="22.7" y="299.4" font-size="7.2" fill="#000" text-anchor="end" >1</text>
<text x="22.7" y="257.2" font-size="7.2" fill="#000" text-anchor="end" >2</text>
<text x="22.7" y="215.0" font-size="7.2" fill="#000" text-anchor="end" >3</text>
<text x="104.2" y="356.3" font-size="8.8" fill="#000" text-anchor="middle" >k (1/Å)</text>
<text transform="translate(17.2,273.9) rotate(-90)" font-size="8.8" text-anchor="middle">R (Å)</text>
<path d="M197.2,339.8v2.2M209.9,339.8v1.3M222.7,339.8v2.2M235.4,339.8v1.3M248.2,339.8v2.2M260.9,339.8v1.3M273.7,339.8v2.2M286.4,339.8v1.3M299.2,339.8v2.2M311.9,339.8v1.3M324.7,339.8v2.2M337.4,339.8v1.3M350.2,339.8v2.2M197.2,339.8h-2.2M197.2,318.6h-1.3M197.2,297.3h-2.2M197.2,276.1h-1.3M197.2,254.8h-2.2M197.2,233.6h-1.3M197.2,212.3h-2.2" stroke="#000" stroke-width="0.8" fill="none"/>
<text x="197.2" y="348.4" font-size="7.2" fill="#000" text-anchor="middle" >0</text>
<text x="222.7" y="348.4" font-size="7.2" fill="#000" text-anchor="middle" >2</text>
<text x="248.2" y="348.4" font-size="7.2" fill="#000" text-anchor="middle" >4</text>
<text x="273.7" y="348.4" font-size="7.2" fill="#000" text-anchor="middle" >6</text>
<text x="299.2" y="348.4" font-size="7.2" fill="#000" text-anchor="middle" >8</text>
<text x="324.7" y="348.4" font-size="7.2" fill="#000" text-anchor="middle" >10</text>
<text x="350.2" y="348.4" font-size="7.2" fill="#000" text-anchor="middle" >12</text>
<text x="194.0" y="342.1" font-size="7.2" fill="#000" text-anchor="end" >0</text>
<text x="194.0" y="299.6" font-size="7.2" fill="#000" text-anchor="end" >1</text>
<text x="194.0" y="257.1" font-size="7.2" fill="#000" text-anchor="end" >2</text>
<text x="194.0" y="214.6" font-size="7.2" fill="#000" text-anchor="end" >3</text>
<text x="275.7" y="356.8" font-size="8.8" fill="#000" text-anchor="middle" >k (1/Å)</text>
<text transform="translate(188.5,273.9) rotate(-90)" font-size="8.8" text-anchor="middle">R (Å)</text>
<path d="M367.3,338.4v2.2M379.9,338.4v1.3M392.6,338.4v2.2M405.2,338.4v1.3M417.8,338.4v2.2M430.5,338.4v1.3M443.1,338.4v2.2M455.7,338.4v1.3M468.4,338.4v2.2M481.0,338.4v1.3M493.6,338.4v2.2M506.3,338.4v1.3M518.9,338.4v2.2M367.3,338.4h-2.2M367.3,317.2h-1.3M367.3,296.1h-2.2M367.3,274.9h-1.3M367.3,253.8h-2.2M367.3,232.6h-1.3M367.3,211.5h-2.2" stroke="#000" stroke-width="0.8" fill="none"/>
<text x="367.3" y="347.0" font-size="7.2" fill="#000" text-anchor="middle" >0</text>
<text x="392.6" y="347.0" font-size="7.2" fill="#000" text-anchor="middle" >2</text>
<text x="417.8" y="347.0" font-size="7.2" fill="#000" text-anchor="middle" >4</text>
<text x="443.1" y="347.0" font-size="7.2" fill="#000" text-anchor="middle" >6</text>
<text x="468.4" y="347.0" font-size="7.2" fill="#000" text-anchor="middle" >8</text>
<text x="493.6" y="347.0" font-size="7.2" fill="#000" text-anchor="middle" >10</text>
<text x="518.9" y="347.0" font-size="7.2" fill="#000" text-anchor="middle" >12</text>
<text x="364.1" y="340.7" font-size="7.2" fill="#000" text-anchor="end" >0</text>
<text x="364.1" y="298.4" font-size="7.2" fill="#000" text-anchor="end" >1</text>
<text x="364.1" y="256.1" font-size="7.2" fill="#000" text-anchor="end" >2</text>
<text x="364.1" y="213.8" font-size="7.2" fill="#000" text-anchor="end" >3</text>
<text x="445.1" y="355.4" font-size="8.8" fill="#000" text-anchor="middle" >k (1/Å)</text>
<text transform="translate(358.6,272.8) rotate(-90)" font-size="8.8" text-anchor="middle">R (Å)</text>
<text x="519.8" y="11" font-size="15" fill="#000" text-anchor="start" >(c)</text>
<text x="0.6" y="214.2" font-size="15" fill="#000" text-anchor="start" >(d)</text>
<path d="M590.2,72.4V123.5" stroke="#e01515" stroke-width="0.9" stroke-dasharray="1.6,0.9" fill="none"/>
<path d="M604.2,29V123.5" stroke="#3f5d8c" stroke-width="0.8" stroke-dasharray="1,0.9" fill="none"/>
<text x="595.3" y="12.5" font-size="12.8" fill="#fff" text-anchor="start" >Fe<tspan dy="2.2" font-size="66%">1</tspan><tspan dy="-2.2" font-size="1">&#8203;</tspan>-Zn<tspan dy="2.2" font-size="66%">1</tspan><tspan dy="-2.2" font-size="1">&#8203;</tspan>/ZSM-5</text>
<text x="588.8" y="29.7" font-size="11.8" fill="#d8ffe8" text-anchor="start" >Fe-Zn</text>
<text x="575" y="71.9" font-size="12.3" fill="#fff" text-anchor="start" >Fe-O</text>
<text x="559.8" y="119.9" font-size="10" fill="#fff" text-anchor="start" >4.1 Å<tspan dy="-3.3" font-size="60%">-1</tspan><tspan dy="3.3" font-size="1">&#8203;</tspan></text>
<text x="610" y="119.9" font-size="10" fill="#fff" text-anchor="start" >5.3 Å<tspan dy="-3.3" font-size="60%">-1</tspan><tspan dy="3.3" font-size="1">&#8203;</tspan></text>
<path d="M610.2,188V263.4" stroke="#3f5d8c" stroke-width="0.8" stroke-dasharray="1,0.9" fill="none"/>
<text x="644.2" y="154.1" font-size="12.7" fill="#fff" text-anchor="start" >Fe foil</text>
<text x="595.3" y="189.6" font-size="12.05" fill="#fff" text-anchor="start" >Fe-Fe</text>
<text x="615.3" y="259.5" font-size="10" fill="#fff" text-anchor="start" >5.9 Å<tspan dy="-3.3" font-size="60%">-1</tspan><tspan dy="3.3" font-size="1">&#8203;</tspan></text>
<path d="M590.2,348.7V403.5" stroke="#e01515" stroke-width="0.9" stroke-dasharray="1.6,0.9" fill="none"/>
<path d="M606.1,308.2V403.5" stroke="#3f5d8c" stroke-width="0.8" stroke-dasharray="1,0.9" fill="none"/>
<text x="653.4" y="294.9" font-size="12" fill="#fff" text-anchor="start" >FeO</text>
<text x="591.2" y="309.4" font-size="12.05" fill="#fff" text-anchor="start" >Fe-Fe</text>
<text x="575.5" y="351.1" font-size="12.3" fill="#fff" text-anchor="start" >Fe-O</text>
<text x="559.8" y="399.4" font-size="10" fill="#fff" text-anchor="start" >4.1 Å<tspan dy="-3.3" font-size="60%">-1</tspan><tspan dy="3.3" font-size="1">&#8203;</tspan></text>
<text x="609.3" y="399.4" font-size="10" fill="#fff" text-anchor="start" >5.4 Å<tspan dy="-3.3" font-size="60%">-1</tspan><tspan dy="3.3" font-size="1">&#8203;</tspan></text>
<path d="M589.2,494.9V542.4" stroke="#e01515" stroke-width="0.9" stroke-dasharray="1.6,0.9" fill="none"/>
<path d="M613.4,452.1V542.4" stroke="#3f5d8c" stroke-width="0.8" stroke-dasharray="1,0.9" fill="none"/>
<text x="646.2" y="433.3" font-size="12.5" fill="#fff" text-anchor="start" >Fe<tspan dy="2.2" font-size="66%">2</tspan><tspan dy="-2.2" font-size="1">&#8203;</tspan>O<tspan dy="2.2" font-size="66%">3</tspan><tspan dy="-2.2" font-size="1">&#8203;</tspan></text>
<text x="598.4" y="452.6" font-size="12.2" fill="#fff" text-anchor="start" >Fe-Fe</text>
<text x="573.6" y="494.1" font-size="12.4" fill="#fff" text-anchor="start" >Fe-O</text>
<text x="556.2" y="538.3" font-size="10" fill="#fff" text-anchor="start" >4.0 Å<tspan dy="-3.3" font-size="60%">-1</tspan><tspan dy="3.3" font-size="1">&#8203;</tspan></text>
<text x="618.4" y="538.3" font-size="10" fill="#fff" text-anchor="start" >6.1 Å<tspan dy="-3.3" font-size="60%">-1</tspan><tspan dy="3.3" font-size="1">&#8203;</tspan></text>
<path d="M79.6,282.2V339.3" stroke="#e01515" stroke-width="0.9" stroke-dasharray="1.6,0.9" fill="none"/>
<path d="M94.6,225.2V339.3" stroke="#3f5d8c" stroke-width="0.8" stroke-dasharray="1,0.9" fill="none"/>
<text x="93.2" y="215.5" font-size="12.7" fill="#fff" text-anchor="start" >Fe<tspan dy="2.2" font-size="66%">1</tspan><tspan dy="-2.2" font-size="1">&#8203;</tspan>-Zn<tspan dy="2.2" font-size="66%">1</tspan><tspan dy="-2.2" font-size="1">&#8203;</tspan>/ZSM-5</text>
<text x="77" y="228.5" font-size="12" fill="#d8ffe8" text-anchor="start" >Zn-Fe</text>
<text x="62" y="281.4" font-size="12.4" fill="#fff" text-anchor="start" >Zn-O</text>
<text x="47.8" y="335.1" font-size="10" fill="#fff" text-anchor="start" >4.2 Å<tspan dy="-3.3" font-size="60%">-1</tspan><tspan dy="3.3" font-size="1">&#8203;</tspan></text>
<text x="102.1" y="330.1" font-size="10" fill="#fff" text-anchor="start" >5.4 Å<tspan dy="-3.3" font-size="60%">-1</tspan><tspan dy="3.3" font-size="1">&#8203;</tspan></text>
<path d="M274.6,247.5V339.8" stroke="#3f5d8c" stroke-width="0.8" stroke-dasharray="1,0.9" fill="none"/>
<text x="310.2" y="215.5" font-size="12.5" fill="#fff" text-anchor="start" >Zn foil</text>
<text x="257.3" y="248.9" font-size="12.3" fill="#fff" text-anchor="start" >Zn-Zn</text>
<text x="278.7" y="333.1" font-size="10" fill="#fff" text-anchor="start" >6.0 Å<tspan dy="-3.3" font-size="60%">-1</tspan><tspan dy="3.3" font-size="1">&#8203;</tspan></text>
<path d="M422.3,284.5V338.4" stroke="#e01515" stroke-width="0.9" stroke-dasharray="1.6,0.9" fill="none"/>
<path d="M438.7,218.8V338.4" stroke="#3f5d8c" stroke-width="0.8" stroke-dasharray="1,0.9" fill="none"/>
<text x="491" y="216.3" font-size="12.05" fill="#fff" text-anchor="start" >ZnO</text>
<text x="420.7" y="219.1" font-size="12.6" fill="#fff" text-anchor="start" >Zn-Zn</text>
<text x="405.4" y="283.6" font-size="12.4" fill="#fff" text-anchor="start" >Zn-O</text>
<text x="391.5" y="331.5" font-size="10" fill="#fff" text-anchor="start" >4.3 Å<tspan dy="-3.3" font-size="60%">-1</tspan><tspan dy="3.3" font-size="1">&#8203;</tspan></text>
<text x="443.2" y="331.5" font-size="10" fill="#fff" text-anchor="start" >5.7 Å<tspan dy="-3.3" font-size="60%">-1</tspan><tspan dy="3.3" font-size="1">&#8203;</tspan></text>
<rect x="26.3" y="362.4" width="237.7" height="176.80000000000007" fill="none" stroke="#1c1c1c" stroke-width="1.0"/>
<path d="M26.4,539.2v3.2M46.1,539.2v1.7M65.9,539.2v3.2M85.7,539.2v1.7M105.4,539.2v3.2M125.2,539.2v1.7M144.9,539.2v3.2M164.7,539.2v1.7M184.4,539.2v3.2M204.2,539.2v1.7M223.9,539.2v3.2M243.7,539.2v1.7M263.4,539.2v3.2" stroke="#222" stroke-width="0.9" fill="none"/>
<text x="26.4" y="549.8" font-size="7.3" fill="#000" text-anchor="middle" >0</text>
<text x="65.9" y="549.8" font-size="7.3" fill="#000" text-anchor="middle" >1</text>
<text x="105.4" y="549.8" font-size="7.3" fill="#000" text-anchor="middle" >2</text>
<text x="144.9" y="549.8" font-size="7.3" fill="#000" text-anchor="middle" >3</text>
<text x="184.4" y="549.8" font-size="7.3" fill="#000" text-anchor="middle" >4</text>
<text x="223.9" y="549.8" font-size="7.3" fill="#000" text-anchor="middle" >5</text>
<text x="263.4" y="549.8" font-size="7.3" fill="#000" text-anchor="middle" >6</text>
<path d="M263.8,362.4V539.2" stroke="#777" stroke-width="1.4" fill="none"/>
<path d="M28.0,512.0C29.0,511.5 31.8,508.6 34.0,509.0C36.2,509.4 38.5,515.2 41.0,514.6C43.5,514.0 46.7,505.8 49.0,505.4C51.3,505.0 52.7,513.1 55.0,512.0C57.3,510.9 60.7,499.2 63.0,499.0C65.3,498.8 67.7,511.3 69.0,511.0C70.3,510.7 70.4,501.7 71.0,497.4C71.6,493.1 72.0,489.4 72.4,485.0C72.8,480.6 73.2,475.6 73.6,471.0C74.0,466.4 74.6,462.2 75.0,457.4C75.4,452.6 75.7,447.2 76.0,442.4C76.3,437.6 76.7,433.0 77.0,428.4C77.3,423.8 77.7,419.2 78.0,415.0C78.3,410.8 78.6,406.8 79.0,403.0C79.4,399.2 79.9,395.1 80.4,392.0C80.9,388.9 81.5,386.6 82.0,384.4C82.5,382.2 83.0,380.5 83.6,379.0C84.2,377.5 84.9,375.8 85.6,375.6C86.3,375.4 87.0,377.0 87.6,378.0C88.2,379.0 88.6,379.9 89.0,381.6C89.4,383.3 89.7,385.6 90.0,388.0C90.3,390.4 90.7,393.2 91.0,396.0C91.3,398.8 91.7,401.8 92.0,405.0C92.3,408.2 92.6,411.7 93.0,415.0C93.4,418.3 94.0,421.8 94.4,425.0C94.8,428.2 95.2,431.3 95.6,434.0C96.0,436.7 96.6,439.0 97.0,441.0C97.4,443.0 97.5,444.2 98.0,446.0C98.5,447.8 99.0,449.3 100.0,452.0C101.0,454.7 102.8,458.5 104.0,462.0C105.2,465.5 106.1,470.0 107.0,473.0C107.9,476.0 108.9,478.5 109.6,480.0C110.3,481.5 110.4,482.8 111.0,482.0C111.6,481.2 112.3,477.5 113.0,475.0C113.7,472.5 114.3,470.0 115.0,467.0C115.7,464.0 116.3,460.2 117.0,457.0C117.7,453.8 118.3,450.2 119.0,448.0C119.7,445.8 120.3,444.2 121.0,444.0C121.7,443.8 122.2,445.2 123.0,447.0C123.8,448.8 125.2,452.5 126.0,455.0C126.8,457.5 127.4,459.3 128.0,462.0C128.6,464.7 129.1,467.8 129.6,471.0C130.1,474.2 130.5,478.0 131.0,481.0C131.5,484.0 131.9,486.3 132.4,489.0C132.9,491.7 133.1,494.2 134.0,497.0C134.9,499.8 136.2,503.5 138.0,506.0C139.8,508.5 142.7,512.0 145.0,512.0C147.3,512.0 149.5,505.2 152.0,506.0C154.5,506.8 157.2,516.7 160.0,517.0C162.8,517.3 166.0,507.8 169.0,508.0C172.0,508.2 174.8,517.3 178.0,518.0C181.2,518.7 184.7,512.2 188.0,512.0C191.3,511.8 194.3,516.3 198.0,517.0C201.7,517.7 206.0,515.9 210.0,516.0C214.0,516.1 218.0,517.0 222.0,517.4C226.0,517.8 230.7,518.7 234.0,518.6C237.3,518.5 239.3,516.9 242.0,517.0C244.7,517.1 247.0,518.8 250.0,519.0C253.0,519.2 258.3,518.2 260.0,518.0" stroke="#222" stroke-width="0.5" stroke-dasharray="1,0.8" fill="none"/>
<path d="M24.8,512.0a3.2,3.2 0 1,0 6.4,0a3.2,3.2 0 1,0 -6.4,0M26.0,511.2a3.2,3.2 0 1,0 6.4,0a3.2,3.2 0 1,0 -6.4,0M27.2,510.3a3.2,3.2 0 1,0 6.4,0a3.2,3.2 0 1,0 -6.4,0M28.4,509.6a3.2,3.2 0 1,0 6.4,0a3.2,3.2 0 1,0 -6.4,0M29.5,509.1a3.2,3.2 0 1,0 6.4,0a3.2,3.2 0 1,0 -6.4,0M30.7,509.0a3.2,3.2 0 1,0 6.4,0a3.2,3.2 0 1,0 -6.4,0M31.9,509.6a3.2,3.2 0 1,0 6.4,0a3.2,3.2 0 1,0 -6.4,0M33.1,510.9a3.2,3.2 0 1,0 6.4,0a3.2,3.2 0 1,0 -6.4,0M34.3,512.3a3.2,3.2 0 1,0 6.4,0a3.2,3.2 0 1,0 -6.4,0M35.5,513.6a3.2,3.2 0 1,0 6.4,0a3.2,3.2 0 1,0 -6.4,0M36.6,514.5a3.2,3.2 0 1,0 6.4,0a3.2,3.2 0 1,0 -6.4,0M37.8,514.6a3.2,3.2 0 1,0 6.4,0a3.2,3.2 0 1,0 -6.4,0M39.0,513.8a3.2,3.2 0 1,0 6.4,0a3.2,3.2 0 1,0 -6.4,0M40.2,512.4a3.2,3.2 0 1,0 6.4,0a3.2,3.2 0 1,0 -6.4,0M41.4,510.7a3.2,3.2 0 1,0 6.4,0a3.2,3.2 0 1,0 -6.4,0M42.6,508.9a3.2,3.2 0 1,0 6.4,0a3.2,3.2 0 1,0 -6.4,0M43.7,507.2a3.2,3.2 0 1,0 6.4,0a3.2,3.2 0 1,0 -6.4,0M44.9,505.9a3.2,3.2 0 1,0 6.4,0a3.2,3.2 0 1,0 -6.4,0M46.1,505.4a3.2,3.2 0 1,0 6.4,0a3.2,3.2 0 1,0 -6.4,0M47.3,506.3a3.2,3.2 0 1,0 6.4,0a3.2,3.2 0 1,0 -6.4,0M48.5,508.3a3.2,3.2 0 1,0 6.4,0a3.2,3.2 0 1,0 -6.4,0M49.7,510.6a3.2,3.2 0 1,0 6.4,0a3.2,3.2 0 1,0 -6.4,0M50.8,511.9a3.2,3.2 0 1,0 6.4,0a3.2,3.2 0 1,0 -6.4,0M52.0,511.9a3.2,3.2 0 1,0 6.4,0a3.2,3.2 0 1,0 -6.4,0M53.2,510.4a3.2,3.2 0 1,0 6.4,0a3.2,3.2 0 1,0 -6.4,0M54.4,508.2a3.2,3.2 0 1,0 6.4,0a3.2,3.2 0 1,0 -6.4,0M55.6,505.7a3.2,3.2 0 1,0 6.4,0a3.2,3.2 0 1,0 -6.4,0M56.8,503.1a3.2,3.2 0 1,0 6.4,0a3.2,3.2 0 1,0 -6.4,0M57.9,500.9a3.2,3.2 0 1,0 6.4,0a3.2,3.2 0 1,0 -6.4,0M59.1,499.3a3.2,3.2 0 1,0 6.4,0a3.2,3.2 0 1,0 -6.4,0M60.3,499.2a3.2,3.2 0 1,0 6.4,0a3.2,3.2 0 1,0 -6.4,0M61.5,500.8a3.2,3.2 0 1,0 6.4,0a3.2,3.2 0 1,0 -6.4,0M62.7,503.6a3.2,3.2 0 1,0 6.4,0a3.2,3.2 0 1,0 -6.4,0M63.9,507.1a3.2,3.2 0 1,0 6.4,0a3.2,3.2 0 1,0 -6.4,0M65.0,510.2a3.2,3.2 0 1,0 6.4,0a3.2,3.2 0 1,0 -6.4,0M66.2,510.5a3.2,3.2 0 1,0 6.4,0a3.2,3.2 0 1,0 -6.4,0M67.4,501.6a3.2,3.2 0 1,0 6.4,0a3.2,3.2 0 1,0 -6.4,0M68.6,490.8a3.2,3.2 0 1,0 6.4,0a3.2,3.2 0 1,0 -6.4,0M69.8,478.3a3.2,3.2 0 1,0 6.4,0a3.2,3.2 0 1,0 -6.4,0M71.0,465.6a3.2,3.2 0 1,0 6.4,0a3.2,3.2 0 1,0 -6.4,0M72.1,452.7a3.2,3.2 0 1,0 6.4,0a3.2,3.2 0 1,0 -6.4,0M73.3,434.9a3.2,3.2 0 1,0 6.4,0a3.2,3.2 0 1,0 -6.4,0M74.5,418.7a3.2,3.2 0 1,0 6.4,0a3.2,3.2 0 1,0 -6.4,0M75.7,404.0a3.2,3.2 0 1,0 6.4,0a3.2,3.2 0 1,0 -6.4,0M76.9,394.1a3.2,3.2 0 1,0 6.4,0a3.2,3.2 0 1,0 -6.4,0M78.1,387.5a3.2,3.2 0 1,0 6.4,0a3.2,3.2 0 1,0 -6.4,0M79.2,382.6a3.2,3.2 0 1,0 6.4,0a3.2,3.2 0 1,0 -6.4,0M80.4,378.9a3.2,3.2 0 1,0 6.4,0a3.2,3.2 0 1,0 -6.4,0M81.6,376.4a3.2,3.2 0 1,0 6.4,0a3.2,3.2 0 1,0 -6.4,0M82.8,375.7a3.2,3.2 0 1,0 6.4,0a3.2,3.2 0 1,0 -6.4,0M84.0,377.3a3.2,3.2 0 1,0 6.4,0a3.2,3.2 0 1,0 -6.4,0M85.2,379.6a3.2,3.2 0 1,0 6.4,0a3.2,3.2 0 1,0 -6.4,0M86.4,384.7a3.2,3.2 0 1,0 6.4,0a3.2,3.2 0 1,0 -6.4,0M87.5,393.8a3.2,3.2 0 1,0 6.4,0a3.2,3.2 0 1,0 -6.4,0M88.7,404.2a3.2,3.2 0 1,0 6.4,0a3.2,3.2 0 1,0 -6.4,0M89.9,415.8a3.2,3.2 0 1,0 6.4,0a3.2,3.2 0 1,0 -6.4,0M91.1,424.2a3.2,3.2 0 1,0 6.4,0a3.2,3.2 0 1,0 -6.4,0M92.3,433.2a3.2,3.2 0 1,0 6.4,0a3.2,3.2 0 1,0 -6.4,0M93.5,439.3a3.2,3.2 0 1,0 6.4,0a3.2,3.2 0 1,0 -6.4,0M94.6,445.4a3.2,3.2 0 1,0 6.4,0a3.2,3.2 0 1,0 -6.4,0M95.8,449.3a3.2,3.2 0 1,0 6.4,0a3.2,3.2 0 1,0 -6.4,0M97.0,452.5a3.2,3.2 0 1,0 6.4,0a3.2,3.2 0 1,0 -6.4,0M98.2,455.4a3.2,3.2 0 1,0 6.4,0a3.2,3.2 0 1,0 -6.4,0M99.4,458.2a3.2,3.2 0 1,0 6.4,0a3.2,3.2 0 1,0 -6.4,0M100.6,461.3a3.2,3.2 0 1,0 6.4,0a3.2,3.2 0 1,0 -6.4,0M101.7,465.2a3.2,3.2 0 1,0 6.4,0a3.2,3.2 0 1,0 -6.4,0M102.9,469.8a3.2,3.2 0 1,0 6.4,0a3.2,3.2 0 1,0 -6.4,0M104.1,474.0a3.2,3.2 0 1,0 6.4,0a3.2,3.2 0 1,0 -6.4,0M105.3,477.3a3.2,3.2 0 1,0 6.4,0a3.2,3.2 0 1,0 -6.4,0M106.5,480.2a3.2,3.2 0 1,0 6.4,0a3.2,3.2 0 1,0 -6.4,0M107.7,482.2a3.2,3.2 0 1,0 6.4,0a3.2,3.2 0 1,0 -6.4,0M108.8,478.8a3.2,3.2 0 1,0 6.4,0a3.2,3.2 0 1,0 -6.4,0M110.0,474.2a3.2,3.2 0 1,0 6.4,0a3.2,3.2 0 1,0 -6.4,0M111.2,469.5a3.2,3.2 0 1,0 6.4,0a3.2,3.2 0 1,0 -6.4,0M112.4,464.2a3.2,3.2 0 1,0 6.4,0a3.2,3.2 0 1,0 -6.4,0M113.6,458.1a3.2,3.2 0 1,0 6.4,0a3.2,3.2 0 1,0 -6.4,0M114.8,452.3a3.2,3.2 0 1,0 6.4,0a3.2,3.2 0 1,0 -6.4,0M115.9,447.5a3.2,3.2 0 1,0 6.4,0a3.2,3.2 0 1,0 -6.4,0M117.1,444.6a3.2,3.2 0 1,0 6.4,0a3.2,3.2 0 1,0 -6.4,0M118.3,444.2a3.2,3.2 0 1,0 6.4,0a3.2,3.2 0 1,0 -6.4,0M119.5,446.3a3.2,3.2 0 1,0 6.4,0a3.2,3.2 0 1,0 -6.4,0M120.7,449.1a3.2,3.2 0 1,0 6.4,0a3.2,3.2 0 1,0 -6.4,0M121.9,452.3a3.2,3.2 0 1,0 6.4,0a3.2,3.2 0 1,0 -6.4,0M123.0,455.7a3.2,3.2 0 1,0 6.4,0a3.2,3.2 0 1,0 -6.4,0M124.2,459.7a3.2,3.2 0 1,0 6.4,0a3.2,3.2 0 1,0 -6.4,0M125.4,465.0a3.2,3.2 0 1,0 6.4,0a3.2,3.2 0 1,0 -6.4,0M126.6,472.3a3.2,3.2 0 1,0 6.4,0a3.2,3.2 0 1,0 -6.4,0M127.8,480.9a3.2,3.2 0 1,0 6.4,0a3.2,3.2 0 1,0 -6.4,0M129.0,487.7a3.2,3.2 0 1,0 6.4,0a3.2,3.2 0 1,0 -6.4,0M130.1,494.6a3.2,3.2 0 1,0 6.4,0a3.2,3.2 0 1,0 -6.4,0M131.3,498.6a3.2,3.2 0 1,0 6.4,0a3.2,3.2 0 1,0 -6.4,0M132.5,501.7a3.2,3.2 0 1,0 6.4,0a3.2,3.2 0 1,0 -6.4,0M133.7,504.2a3.2,3.2 0 1,0 6.4,0a3.2,3.2 0 1,0 -6.4,0M134.9,506.1a3.2,3.2 0 1,0 6.4,0a3.2,3.2 0 1,0 -6.4,0M136.1,507.7a3.2,3.2 0 1,0 6.4,0a3.2,3.2 0 1,0 -6.4,0M137.2,509.0a3.2,3.2 0 1,0 6.4,0a3.2,3.2 0 1,0 -6.4,0M138.4,510.2a3.2,3.2 0 1,0 6.4,0a3.2,3.2 0 1,0 -6.4,0M139.6,511.2a3.2,3.2 0 1,0 6.4,0a3.2,3.2 0 1,0 -6.4,0M140.8,511.8a3.2,3.2 0 1,0 6.4,0a3.2,3.2 0 1,0 -6.4,0M142.0,512.0a3.2,3.2 0 1,0 6.4,0a3.2,3.2 0 1,0 -6.4,0M143.2,511.3a3.2,3.2 0 1,0 6.4,0a3.2,3.2 0 1,0 -6.4,0M144.4,509.9a3.2,3.2 0 1,0 6.4,0a3.2,3.2 0 1,0 -6.4,0M145.5,508.3a3.2,3.2 0 1,0 6.4,0a3.2,3.2 0 1,0 -6.4,0M146.7,506.8a3.2,3.2 0 1,0 6.4,0a3.2,3.2 0 1,0 -6.4,0M147.9,506.0a3.2,3.2 0 1,0 6.4,0a3.2,3.2 0 1,0 -6.4,0M149.1,506.1a3.2,3.2 0 1,0 6.4,0a3.2,3.2 0 1,0 -6.4,0M150.3,507.4a3.2,3.2 0 1,0 6.4,0a3.2,3.2 0 1,0 -6.4,0M151.5,509.3a3.2,3.2 0 1,0 6.4,0a3.2,3.2 0 1,0 -6.4,0M152.6,511.6a3.2,3.2 0 1,0 6.4,0a3.2,3.2 0 1,0 -6.4,0M153.8,513.8a3.2,3.2 0 1,0 6.4,0a3.2,3.2 0 1,0 -6.4,0M155.0,515.7a3.2,3.2 0 1,0 6.4,0a3.2,3.2 0 1,0 -6.4,0M156.2,516.8a3.2,3.2 0 1,0 6.4,0a3.2,3.2 0 1,0 -6.4,0M157.4,516.9a3.2,3.2 0 1,0 6.4,0a3.2,3.2 0 1,0 -6.4,0M158.6,516.2a3.2,3.2 0 1,0 6.4,0a3.2,3.2 0 1,0 -6.4,0M159.7,514.8a3.2,3.2 0 1,0 6.4,0a3.2,3.2 0 1,0 -6.4,0M160.9,513.0a3.2,3.2 0 1,0 6.4,0a3.2,3.2 0 1,0 -6.4,0M162.1,511.3a3.2,3.2 0 1,0 6.4,0a3.2,3.2 0 1,0 -6.4,0M163.3,509.7a3.2,3.2 0 1,0 6.4,0a3.2,3.2 0 1,0 -6.4,0M164.5,508.5a3.2,3.2 0 1,0 6.4,0a3.2,3.2 0 1,0 -6.4,0M165.7,508.0a3.2,3.2 0 1,0 6.4,0a3.2,3.2 0 1,0 -6.4,0M166.8,508.4a3.2,3.2 0 1,0 6.4,0a3.2,3.2 0 1,0 -6.4,0M168.0,509.5a3.2,3.2 0 1,0 6.4,0a3.2,3.2 0 1,0 -6.4,0M169.2,511.2a3.2,3.2 0 1,0 6.4,0a3.2,3.2 0 1,0 -6.4,0M170.4,513.1a3.2,3.2 0 1,0 6.4,0a3.2,3.2 0 1,0 -6.4,0M171.6,514.9a3.2,3.2 0 1,0 6.4,0a3.2,3.2 0 1,0 -6.4,0M172.8,516.5a3.2,3.2 0 1,0 6.4,0a3.2,3.2 0 1,0 -6.4,0M173.9,517.6a3.2,3.2 0 1,0 6.4,0a3.2,3.2 0 1,0 -6.4,0M175.1,518.0a3.2,3.2 0 1,0 6.4,0a3.2,3.2 0 1,0 -6.4,0M176.3,517.8a3.2,3.2 0 1,0 6.4,0a3.2,3.2 0 1,0 -6.4,0M177.5,517.2a3.2,3.2 0 1,0 6.4,0a3.2,3.2 0 1,0 -6.4,0M178.7,516.3a3.2,3.2 0 1,0 6.4,0a3.2,3.2 0 1,0 -6.4,0M179.9,515.2a3.2,3.2 0 1,0 6.4,0a3.2,3.2 0 1,0 -6.4,0M181.0,514.1a3.2,3.2 0 1,0 6.4,0a3.2,3.2 0 1,0 -6.4,0M182.2,513.1a3.2,3.2 0 1,0 6.4,0a3.2,3.2 0 1,0 -6.4,0M183.4,512.4a3.2,3.2 0 1,0 6.4,0a3.2,3.2 0 1,0 -6.4,0M184.6,512.0a3.2,3.2 0 1,0 6.4,0a3.2,3.2 0 1,0 -6.4,0M185.8,512.1a3.2,3.2 0 1,0 6.4,0a3.2,3.2 0 1,0 -6.4,0M187.0,512.5a3.2,3.2 0 1,0 6.4,0a3.2,3.2 0 1,0 -6.4,0M188.1,513.1a3.2,3.2 0 1,0 6.4,0a3.2,3.2 0 1,0 -6.4,0M189.3,513.9a3.2,3.2 0 1,0 6.4,0a3.2,3.2 0 1,0 -6.4,0M190.5,514.8a3.2,3.2 0 1,0 6.4,0a3.2,3.2 0 1,0 -6.4,0M191.7,515.6a3.2,3.2 0 1,0 6.4,0a3.2,3.2 0 1,0 -6.4,0M192.9,516.3a3.2,3.2 0 1,0 6.4,0a3.2,3.2 0 1,0 -6.4,0M194.1,516.8a3.2,3.2 0 1,0 6.4,0a3.2,3.2 0 1,0 -6.4,0M195.2,517.1a3.2,3.2 0 1,0 6.4,0a3.2,3.2 0 1,0 -6.4,0M196.4,517.2a3.2,3.2 0 1,0 6.4,0a3.2,3.2 0 1,0 -6.4,0M197.6,517.1a3.2,3.2 0 1,0 6.4,0a3.2,3.2 0 1,0 -6.4,0M198.8,517.0a3.2,3.2 0 1,0 6.4,0a3.2,3.2 0 1,0 -6.4,0M200.0,516.8a3.2,3.2 0 1,0 6.4,0a3.2,3.2 0 1,0 -6.4,0M201.2,516.6a3.2,3.2 0 1,0 6.4,0a3.2,3.2 0 1,0 -6.4,0M202.4,516.4a3.2,3.2 0 1,0 6.4,0a3.2,3.2 0 1,0 -6.4,0M203.5,516.3a3.2,3.2 0 1,0 6.4,0a3.2,3.2 0 1,0 -6.4,0M204.7,516.1a3.2,3.2 0 1,0 6.4,0a3.2,3.2 0 1,0 -6.4,0M205.9,516.0a3.2,3.2 0 1,0 6.4,0a3.2,3.2 0 1,0 -6.4,0M207.1,516.0a3.2,3.2 0 1,0 6.4,0a3.2,3.2 0 1,0 -6.4,0M208.3,516.1a3.2,3.2 0 1,0 6.4,0a3.2,3.2 0 1,0 -6.4,0M209.5,516.2a3.2,3.2 0 1,0 6.4,0a3.2,3.2 0 1,0 -6.4,0M210.6,516.3a3.2,3.2 0 1,0 6.4,0a3.2,3.2 0 1,0 -6.4,0M211.8,516.4a3.2,3.2 0 1,0 6.4,0a3.2,3.2 0 1,0 -6.4,0M213.0,516.6a3.2,3.2 0 1,0 6.4,0a3.2,3.2 0 1,0 -6.4,0M214.2,516.8a3.2,3.2 0 1,0 6.4,0a3.2,3.2 0 1,0 -6.4,0M215.4,516.9a3.2,3.2 0 1,0 6.4,0a3.2,3.2 0 1,0 -6.4,0M216.6,517.1a3.2,3.2 0 1,0 6.4,0a3.2,3.2 0 1,0 -6.4,0M217.7,517.3a3.2,3.2 0 1,0 6.4,0a3.2,3.2 0 1,0 -6.4,0M218.9,517.4a3.2,3.2 0 1,0 6.4,0a3.2,3.2 0 1,0 -6.4,0M220.1,517.6a3.2,3.2 0 1,0 6.4,0a3.2,3.2 0 1,0 -6.4,0M221.3,517.7a3.2,3.2 0 1,0 6.4,0a3.2,3.2 0 1,0 -6.4,0M222.5,517.9a3.2,3.2 0 1,0 6.4,0a3.2,3.2 0 1,0 -6.4,0M223.7,518.0a3.2,3.2 0 1,0 6.4,0a3.2,3.2 0 1,0 -6.4,0M224.8,518.2a3.2,3.2 0 1,0 6.4,0a3.2,3.2 0 1,0 -6.4,0M226.0,518.3a3.2,3.2 0 1,0 6.4,0a3.2,3.2 0 1,0 -6.4,0M227.2,518.4a3.2,3.2 0 1,0 6.4,0a3.2,3.2 0 1,0 -6.4,0M228.4,518.5a3.2,3.2 0 1,0 6.4,0a3.2,3.2 0 1,0 -6.4,0M229.6,518.6a3.2,3.2 0 1,0 6.4,0a3.2,3.2 0 1,0 -6.4,0M230.8,518.6a3.2,3.2 0 1,0 6.4,0a3.2,3.2 0 1,0 -6.4,0M231.9,518.5a3.2,3.2 0 1,0 6.4,0a3.2,3.2 0 1,0 -6.4,0M233.1,518.3a3.2,3.2 0 1,0 6.4,0a3.2,3.2 0 1,0 -6.4,0M234.3,518.0a3.2,3.2 0 1,0 6.4,0a3.2,3.2 0 1,0 -6.4,0M235.5,517.6a3.2,3.2 0 1,0 6.4,0a3.2,3.2 0 1,0 -6.4,0M236.7,517.3a3.2,3.2 0 1,0 6.4,0a3.2,3.2 0 1,0 -6.4,0M237.9,517.0a3.2,3.2 0 1,0 6.4,0a3.2,3.2 0 1,0 -6.4,0M239.0,517.0a3.2,3.2 0 1,0 6.4,0a3.2,3.2 0 1,0 -6.4,0M240.2,517.2a3.2,3.2 0 1,0 6.4,0a3.2,3.2 0 1,0 -6.4,0M241.4,517.5a3.2,3.2 0 1,0 6.4,0a3.2,3.2 0 1,0 -6.4,0M242.6,517.9a3.2,3.2 0 1,0 6.4,0a3.2,3.2 0 1,0 -6.4,0M243.8,518.4a3.2,3.2 0 1,0 6.4,0a3.2,3.2 0 1,0 -6.4,0M245.0,518.7a3.2,3.2 0 1,0 6.4,0a3.2,3.2 0 1,0 -6.4,0M246.1,518.9a3.2,3.2 0 1,0 6.4,0a3.2,3.2 0 1,0 -6.4,0M247.3,519.0a3.2,3.2 0 1,0 6.4,0a3.2,3.2 0 1,0 -6.4,0M248.5,519.0a3.2,3.2 0 1,0 6.4,0a3.2,3.2 0 1,0 -6.4,0M249.7,518.9a3.2,3.2 0 1,0 6.4,0a3.2,3.2 0 1,0 -6.4,0M250.9,518.8a3.2,3.2 0 1,0 6.4,0a3.2,3.2 0 1,0 -6.4,0M252.1,518.7a3.2,3.2 0 1,0 6.4,0a3.2,3.2 0 1,0 -6.4,0M253.2,518.5a3.2,3.2 0 1,0 6.4,0a3.2,3.2 0 1,0 -6.4,0M254.4,518.3a3.2,3.2 0 1,0 6.4,0a3.2,3.2 0 1,0 -6.4,0M255.6,518.2a3.2,3.2 0 1,0 6.4,0a3.2,3.2 0 1,0 -6.4,0M256.8,518.0a3.2,3.2 0 1,0 6.4,0a3.2,3.2 0 1,0 -6.4,0" stroke="#f01818" stroke-width="0.75" fill="none"/>
<path d="M85.4,367V391" stroke="#222" stroke-width="0.6" stroke-dasharray="1.6,1" fill="none"/>
<path d="M120.6,438V462" stroke="#222" stroke-width="0.6" stroke-dasharray="1.6,1" fill="none"/>
<text x="7.8" y="373.6" font-size="14.8" fill="#000" text-anchor="start" >(e)</text>
<text x="32.3" y="379.6" font-size="15.5" fill="#000" text-anchor="start" >Fe</text>
<text x="60" y="372.4" font-size="10" fill="#000" text-anchor="start" >Fe-O</text>
<text x="101.6" y="434.6" font-size="10" fill="#000" text-anchor="start" >Fe-Zn</text>
<path d="M180,373.4H187" stroke="#444" stroke-width="0.6" stroke-dasharray="1.5,1"/>
<text x="192" y="376.6" font-size="10.2" fill="#000" text-anchor="start" >Fe<tspan dy="1.8" font-size="66%">1</tspan><tspan dy="-1.8" font-size="1">&#8203;</tspan>-Zn<tspan dy="1.8" font-size="66%">1</tspan><tspan dy="-1.8" font-size="1">&#8203;</tspan>/ZSM-5</text>
<circle cx="184" cy="386.4" r="3.7" stroke="#ee1c1c" stroke-width="0.6" fill="none"/>
<text x="192" y="389.4" font-size="10" fill="#000" text-anchor="start" >Fit</text>
<text x="143.3" y="559.9" font-size="8.9" fill="#000" text-anchor="middle" >Radial distance (Å)</text>
<text transform="translate(18.2,450) rotate(-90)" font-size="9.1" text-anchor="middle">|χ(R)| (Å<tspan dy="-2.5" font-size="5.5">-3</tspan><tspan dy="2.5">)</tspan></text>
<rect x="284.3" y="363.5" width="236.09999999999997" height="175.10000000000002" fill="none" stroke="#5a5a5a" stroke-width="1.35"/>
<path d="M284.4,538.6v3.2M304.0,538.6v1.7M323.7,538.6v3.2M343.3,538.6v1.7M363.0,538.6v3.2M382.6,538.6v1.7M402.3,538.6v3.2M421.9,538.6v1.7M441.6,538.6v3.2M461.2,538.6v1.7M480.9,538.6v3.2M500.5,538.6v1.7M520.2,538.6v3.2" stroke="#333" stroke-width="0.9" fill="none"/>
<text x="284.4" y="549.4" font-size="7.3" fill="#000" text-anchor="middle" >0</text>
<text x="323.7" y="549.4" font-size="7.3" fill="#000" text-anchor="middle" >1</text>
<text x="363.0" y="549.4" font-size="7.3" fill="#000" text-anchor="middle" >2</text>
<text x="402.3" y="549.4" font-size="7.3" fill="#000" text-anchor="middle" >3</text>
<text x="441.6" y="549.4" font-size="7.3" fill="#000" text-anchor="middle" >4</text>
<text x="480.9" y="549.4" font-size="7.3" fill="#000" text-anchor="middle" >5</text>
<text x="520.2" y="549.4" font-size="7.3" fill="#000" text-anchor="middle" >6</text>
<path d="M287.0,508.0C287.8,507.2 290.3,504.6 292.0,503.4C293.7,502.2 295.2,501.4 297.0,501.0C298.8,500.6 301.2,502.2 303.0,501.0C304.8,499.8 306.5,496.7 308.0,494.0C309.5,491.3 310.7,487.7 312.0,485.0C313.3,482.3 314.5,479.9 316.0,478.0C317.5,476.1 319.5,474.9 321.0,473.4C322.5,471.9 323.7,471.4 325.0,469.0C326.3,466.6 327.8,461.8 329.0,459.0C330.2,456.2 330.9,456.8 332.0,452.0C333.1,447.2 334.6,435.5 335.6,430.0C336.6,424.5 337.3,422.7 338.0,419.0C338.7,415.3 339.3,411.5 340.0,408.0C340.7,404.5 341.3,401.2 342.0,398.0C342.7,394.8 343.3,391.8 344.0,389.0C344.7,386.2 345.3,383.3 346.0,381.0C346.7,378.7 347.4,376.2 348.0,375.0C348.6,373.8 348.8,373.4 349.4,373.6C350.0,373.8 351.0,374.8 351.6,376.0C352.2,377.2 352.7,379.2 353.2,381.0C353.7,382.8 354.0,384.5 354.4,387.0C354.8,389.5 355.2,393.0 355.6,396.0C356.0,399.0 356.5,401.7 356.8,405.0C357.1,408.3 357.3,412.2 357.6,416.0C357.9,419.8 358.2,424.0 358.6,428.0C359.0,432.0 359.5,435.8 360.0,440.0C360.5,444.2 361.0,448.8 361.4,453.0C361.8,457.2 362.0,461.0 362.4,465.0C362.8,469.0 363.2,473.1 363.6,477.0C364.0,480.9 364.4,484.9 364.8,488.6C365.2,492.3 365.6,495.6 366.0,499.0C366.4,502.4 366.9,506.3 367.4,509.0C367.9,511.7 368.4,514.8 369.0,515.0C369.6,515.2 370.3,512.2 371.0,510.0C371.7,507.8 372.3,504.7 373.0,502.0C373.7,499.3 374.3,496.0 375.0,494.0C375.7,492.0 376.2,491.0 377.0,490.0C377.8,489.0 378.7,488.0 379.6,488.0C380.5,488.0 381.5,488.8 382.4,490.0C383.3,491.2 384.1,493.0 385.0,495.0C385.9,497.0 387.0,499.8 388.0,502.0C389.0,504.2 389.8,506.7 391.0,508.0C392.2,509.3 393.3,510.0 395.0,510.0C396.7,510.0 398.8,508.5 401.0,508.0C403.2,507.5 405.8,506.5 408.0,507.0C410.2,507.5 412.0,509.2 414.0,511.0C416.0,512.8 418.0,517.2 420.0,518.0C422.0,518.8 423.7,516.6 426.0,516.0C428.3,515.4 431.3,514.4 434.0,514.6C436.7,514.8 439.3,516.1 442.0,517.0C444.7,517.9 447.0,519.4 450.0,520.0C453.0,520.6 456.7,520.3 460.0,520.6C463.3,520.9 466.7,521.5 470.0,522.0C473.3,522.5 476.7,523.0 480.0,523.4C483.3,523.8 486.3,524.2 490.0,524.6C493.7,525.0 498.3,525.3 502.0,525.6C505.7,525.9 509.3,526.2 512.0,526.4C514.7,526.6 517.0,526.6 518.0,526.6" stroke="#222" stroke-width="0.5" stroke-dasharray="1,0.8" fill="none"/>
<path d="M283.8,508.0a3.2,3.2 0 1,0 6.4,0a3.2,3.2 0 1,0 -6.4,0M285.0,506.8a3.2,3.2 0 1,0 6.4,0a3.2,3.2 0 1,0 -6.4,0M286.2,505.7a3.2,3.2 0 1,0 6.4,0a3.2,3.2 0 1,0 -6.4,0M287.3,504.6a3.2,3.2 0 1,0 6.4,0a3.2,3.2 0 1,0 -6.4,0M288.5,503.6a3.2,3.2 0 1,0 6.4,0a3.2,3.2 0 1,0 -6.4,0M289.7,502.8a3.2,3.2 0 1,0 6.4,0a3.2,3.2 0 1,0 -6.4,0M290.9,502.1a3.2,3.2 0 1,0 6.4,0a3.2,3.2 0 1,0 -6.4,0M292.1,501.5a3.2,3.2 0 1,0 6.4,0a3.2,3.2 0 1,0 -6.4,0M293.2,501.1a3.2,3.2 0 1,0 6.4,0a3.2,3.2 0 1,0 -6.4,0M294.4,500.9a3.2,3.2 0 1,0 6.4,0a3.2,3.2 0 1,0 -6.4,0M295.6,501.0a3.2,3.2 0 1,0 6.4,0a3.2,3.2 0 1,0 -6.4,0M296.8,501.3a3.2,3.2 0 1,0 6.4,0a3.2,3.2 0 1,0 -6.4,0M297.9,501.4a3.2,3.2 0 1,0 6.4,0a3.2,3.2 0 1,0 -6.4,0M299.1,501.3a3.2,3.2 0 1,0 6.4,0a3.2,3.2 0 1,0 -6.4,0M300.3,500.6a3.2,3.2 0 1,0 6.4,0a3.2,3.2 0 1,0 -6.4,0M301.5,499.4a3.2,3.2 0 1,0 6.4,0a3.2,3.2 0 1,0 -6.4,0M302.7,497.7a3.2,3.2 0 1,0 6.4,0a3.2,3.2 0 1,0 -6.4,0M303.8,495.7a3.2,3.2 0 1,0 6.4,0a3.2,3.2 0 1,0 -6.4,0M305.0,493.6a3.2,3.2 0 1,0 6.4,0a3.2,3.2 0 1,0 -6.4,0M306.2,491.1a3.2,3.2 0 1,0 6.4,0a3.2,3.2 0 1,0 -6.4,0M307.4,488.2a3.2,3.2 0 1,0 6.4,0a3.2,3.2 0 1,0 -6.4,0M308.6,485.5a3.2,3.2 0 1,0 6.4,0a3.2,3.2 0 1,0 -6.4,0M309.7,483.1a3.2,3.2 0 1,0 6.4,0a3.2,3.2 0 1,0 -6.4,0M310.9,480.9a3.2,3.2 0 1,0 6.4,0a3.2,3.2 0 1,0 -6.4,0M312.1,479.0a3.2,3.2 0 1,0 6.4,0a3.2,3.2 0 1,0 -6.4,0M313.3,477.4a3.2,3.2 0 1,0 6.4,0a3.2,3.2 0 1,0 -6.4,0M314.4,476.3a3.2,3.2 0 1,0 6.4,0a3.2,3.2 0 1,0 -6.4,0M315.6,475.3a3.2,3.2 0 1,0 6.4,0a3.2,3.2 0 1,0 -6.4,0M316.8,474.3a3.2,3.2 0 1,0 6.4,0a3.2,3.2 0 1,0 -6.4,0M318.0,473.2a3.2,3.2 0 1,0 6.4,0a3.2,3.2 0 1,0 -6.4,0M319.2,472.2a3.2,3.2 0 1,0 6.4,0a3.2,3.2 0 1,0 -6.4,0M320.3,471.1a3.2,3.2 0 1,0 6.4,0a3.2,3.2 0 1,0 -6.4,0M321.5,469.5a3.2,3.2 0 1,0 6.4,0a3.2,3.2 0 1,0 -6.4,0M322.7,467.1a3.2,3.2 0 1,0 6.4,0a3.2,3.2 0 1,0 -6.4,0M323.9,464.1a3.2,3.2 0 1,0 6.4,0a3.2,3.2 0 1,0 -6.4,0M325.1,460.9a3.2,3.2 0 1,0 6.4,0a3.2,3.2 0 1,0 -6.4,0M326.2,458.1a3.2,3.2 0 1,0 6.4,0a3.2,3.2 0 1,0 -6.4,0M327.4,456.1a3.2,3.2 0 1,0 6.4,0a3.2,3.2 0 1,0 -6.4,0M328.6,452.9a3.2,3.2 0 1,0 6.4,0a3.2,3.2 0 1,0 -6.4,0M329.8,446.8a3.2,3.2 0 1,0 6.4,0a3.2,3.2 0 1,0 -6.4,0M330.9,439.2a3.2,3.2 0 1,0 6.4,0a3.2,3.2 0 1,0 -6.4,0M332.1,431.6a3.2,3.2 0 1,0 6.4,0a3.2,3.2 0 1,0 -6.4,0M333.3,425.5a3.2,3.2 0 1,0 6.4,0a3.2,3.2 0 1,0 -6.4,0M334.5,420.5a3.2,3.2 0 1,0 6.4,0a3.2,3.2 0 1,0 -6.4,0M335.7,414.4a3.2,3.2 0 1,0 6.4,0a3.2,3.2 0 1,0 -6.4,0M336.8,407.8a3.2,3.2 0 1,0 6.4,0a3.2,3.2 0 1,0 -6.4,0M338.0,401.8a3.2,3.2 0 1,0 6.4,0a3.2,3.2 0 1,0 -6.4,0M339.2,396.2a3.2,3.2 0 1,0 6.4,0a3.2,3.2 0 1,0 -6.4,0M340.4,390.8a3.2,3.2 0 1,0 6.4,0a3.2,3.2 0 1,0 -6.4,0M341.6,385.8a3.2,3.2 0 1,0 6.4,0a3.2,3.2 0 1,0 -6.4,0M342.7,381.3a3.2,3.2 0 1,0 6.4,0a3.2,3.2 0 1,0 -6.4,0M343.9,377.4a3.2,3.2 0 1,0 6.4,0a3.2,3.2 0 1,0 -6.4,0M345.1,374.4a3.2,3.2 0 1,0 6.4,0a3.2,3.2 0 1,0 -6.4,0M346.3,373.6a3.2,3.2 0 1,0 6.4,0a3.2,3.2 0 1,0 -6.4,0M347.4,374.6a3.2,3.2 0 1,0 6.4,0a3.2,3.2 0 1,0 -6.4,0M348.6,376.5a3.2,3.2 0 1,0 6.4,0a3.2,3.2 0 1,0 -6.4,0M349.8,380.2a3.2,3.2 0 1,0 6.4,0a3.2,3.2 0 1,0 -6.4,0M351.0,385.7a3.2,3.2 0 1,0 6.4,0a3.2,3.2 0 1,0 -6.4,0M352.2,394.1a3.2,3.2 0 1,0 6.4,0a3.2,3.2 0 1,0 -6.4,0M353.3,402.7a3.2,3.2 0 1,0 6.4,0a3.2,3.2 0 1,0 -6.4,0M354.5,417.5a3.2,3.2 0 1,0 6.4,0a3.2,3.2 0 1,0 -6.4,0M355.7,430.7a3.2,3.2 0 1,0 6.4,0a3.2,3.2 0 1,0 -6.4,0M356.9,440.6a3.2,3.2 0 1,0 6.4,0a3.2,3.2 0 1,0 -6.4,0M358.1,451.5a3.2,3.2 0 1,0 6.4,0a3.2,3.2 0 1,0 -6.4,0M359.2,465.3a3.2,3.2 0 1,0 6.4,0a3.2,3.2 0 1,0 -6.4,0M360.4,477.1a3.2,3.2 0 1,0 6.4,0a3.2,3.2 0 1,0 -6.4,0M361.6,488.5a3.2,3.2 0 1,0 6.4,0a3.2,3.2 0 1,0 -6.4,0M362.8,498.7a3.2,3.2 0 1,0 6.4,0a3.2,3.2 0 1,0 -6.4,0M363.9,507.5a3.2,3.2 0 1,0 6.4,0a3.2,3.2 0 1,0 -6.4,0M365.1,513.6a3.2,3.2 0 1,0 6.4,0a3.2,3.2 0 1,0 -6.4,0M366.3,514.5a3.2,3.2 0 1,0 6.4,0a3.2,3.2 0 1,0 -6.4,0M367.5,511.1a3.2,3.2 0 1,0 6.4,0a3.2,3.2 0 1,0 -6.4,0M368.7,506.8a3.2,3.2 0 1,0 6.4,0a3.2,3.2 0 1,0 -6.4,0M369.8,501.9a3.2,3.2 0 1,0 6.4,0a3.2,3.2 0 1,0 -6.4,0M371.0,496.9a3.2,3.2 0 1,0 6.4,0a3.2,3.2 0 1,0 -6.4,0M372.2,492.9a3.2,3.2 0 1,0 6.4,0a3.2,3.2 0 1,0 -6.4,0M373.4,490.6a3.2,3.2 0 1,0 6.4,0a3.2,3.2 0 1,0 -6.4,0M374.6,489.1a3.2,3.2 0 1,0 6.4,0a3.2,3.2 0 1,0 -6.4,0M375.7,488.2a3.2,3.2 0 1,0 6.4,0a3.2,3.2 0 1,0 -6.4,0M376.9,488.1a3.2,3.2 0 1,0 6.4,0a3.2,3.2 0 1,0 -6.4,0M378.1,488.8a3.2,3.2 0 1,0 6.4,0a3.2,3.2 0 1,0 -6.4,0M379.3,490.1a3.2,3.2 0 1,0 6.4,0a3.2,3.2 0 1,0 -6.4,0M380.4,492.1a3.2,3.2 0 1,0 6.4,0a3.2,3.2 0 1,0 -6.4,0M381.6,494.6a3.2,3.2 0 1,0 6.4,0a3.2,3.2 0 1,0 -6.4,0M382.8,497.3a3.2,3.2 0 1,0 6.4,0a3.2,3.2 0 1,0 -6.4,0M384.0,500.1a3.2,3.2 0 1,0 6.4,0a3.2,3.2 0 1,0 -6.4,0M385.2,502.8a3.2,3.2 0 1,0 6.4,0a3.2,3.2 0 1,0 -6.4,0M386.3,505.5a3.2,3.2 0 1,0 6.4,0a3.2,3.2 0 1,0 -6.4,0M387.5,507.6a3.2,3.2 0 1,0 6.4,0a3.2,3.2 0 1,0 -6.4,0M388.7,508.9a3.2,3.2 0 1,0 6.4,0a3.2,3.2 0 1,0 -6.4,0M389.9,509.6a3.2,3.2 0 1,0 6.4,0a3.2,3.2 0 1,0 -6.4,0M391.1,510.0a3.2,3.2 0 1,0 6.4,0a3.2,3.2 0 1,0 -6.4,0M392.2,510.0a3.2,3.2 0 1,0 6.4,0a3.2,3.2 0 1,0 -6.4,0M393.4,509.7a3.2,3.2 0 1,0 6.4,0a3.2,3.2 0 1,0 -6.4,0M394.6,509.2a3.2,3.2 0 1,0 6.4,0a3.2,3.2 0 1,0 -6.4,0M395.8,508.7a3.2,3.2 0 1,0 6.4,0a3.2,3.2 0 1,0 -6.4,0M396.9,508.2a3.2,3.2 0 1,0 6.4,0a3.2,3.2 0 1,0 -6.4,0M398.1,507.9a3.2,3.2 0 1,0 6.4,0a3.2,3.2 0 1,0 -6.4,0M399.3,507.6a3.2,3.2 0 1,0 6.4,0a3.2,3.2 0 1,0 -6.4,0M400.5,507.3a3.2,3.2 0 1,0 6.4,0a3.2,3.2 0 1,0 -6.4,0M401.7,507.1a3.2,3.2 0 1,0 6.4,0a3.2,3.2 0 1,0 -6.4,0M402.8,506.9a3.2,3.2 0 1,0 6.4,0a3.2,3.2 0 1,0 -6.4,0M404.0,506.9a3.2,3.2 0 1,0 6.4,0a3.2,3.2 0 1,0 -6.4,0M405.2,507.1a3.2,3.2 0 1,0 6.4,0a3.2,3.2 0 1,0 -6.4,0M406.4,507.6a3.2,3.2 0 1,0 6.4,0a3.2,3.2 0 1,0 -6.4,0M407.6,508.3a3.2,3.2 0 1,0 6.4,0a3.2,3.2 0 1,0 -6.4,0M408.7,509.2a3.2,3.2 0 1,0 6.4,0a3.2,3.2 0 1,0 -6.4,0M409.9,510.2a3.2,3.2 0 1,0 6.4,0a3.2,3.2 0 1,0 -6.4,0M411.1,511.3a3.2,3.2 0 1,0 6.4,0a3.2,3.2 0 1,0 -6.4,0M412.3,512.7a3.2,3.2 0 1,0 6.4,0a3.2,3.2 0 1,0 -6.4,0M413.4,514.4a3.2,3.2 0 1,0 6.4,0a3.2,3.2 0 1,0 -6.4,0M414.6,516.0a3.2,3.2 0 1,0 6.4,0a3.2,3.2 0 1,0 -6.4,0M415.8,517.3a3.2,3.2 0 1,0 6.4,0a3.2,3.2 0 1,0 -6.4,0M417.0,518.1a3.2,3.2 0 1,0 6.4,0a3.2,3.2 0 1,0 -6.4,0M418.2,518.1a3.2,3.2 0 1,0 6.4,0a3.2,3.2 0 1,0 -6.4,0M419.3,517.7a3.2,3.2 0 1,0 6.4,0a3.2,3.2 0 1,0 -6.4,0M420.5,517.0a3.2,3.2 0 1,0 6.4,0a3.2,3.2 0 1,0 -6.4,0M421.7,516.4a3.2,3.2 0 1,0 6.4,0a3.2,3.2 0 1,0 -6.4,0M422.9,516.0a3.2,3.2 0 1,0 6.4,0a3.2,3.2 0 1,0 -6.4,0M424.1,515.7a3.2,3.2 0 1,0 6.4,0a3.2,3.2 0 1,0 -6.4,0M425.2,515.4a3.2,3.2 0 1,0 6.4,0a3.2,3.2 0 1,0 -6.4,0M426.4,515.1a3.2,3.2 0 1,0 6.4,0a3.2,3.2 0 1,0 -6.4,0M427.6,514.8a3.2,3.2 0 1,0 6.4,0a3.2,3.2 0 1,0 -6.4,0M428.8,514.7a3.2,3.2 0 1,0 6.4,0a3.2,3.2 0 1,0 -6.4,0M429.9,514.6a3.2,3.2 0 1,0 6.4,0a3.2,3.2 0 1,0 -6.4,0M431.1,514.6a3.2,3.2 0 1,0 6.4,0a3.2,3.2 0 1,0 -6.4,0M432.3,514.8a3.2,3.2 0 1,0 6.4,0a3.2,3.2 0 1,0 -6.4,0M433.5,515.1a3.2,3.2 0 1,0 6.4,0a3.2,3.2 0 1,0 -6.4,0M434.7,515.5a3.2,3.2 0 1,0 6.4,0a3.2,3.2 0 1,0 -6.4,0M435.8,515.9a3.2,3.2 0 1,0 6.4,0a3.2,3.2 0 1,0 -6.4,0M437.0,516.4a3.2,3.2 0 1,0 6.4,0a3.2,3.2 0 1,0 -6.4,0M438.2,516.8a3.2,3.2 0 1,0 6.4,0a3.2,3.2 0 1,0 -6.4,0M439.4,517.2a3.2,3.2 0 1,0 6.4,0a3.2,3.2 0 1,0 -6.4,0M440.6,517.7a3.2,3.2 0 1,0 6.4,0a3.2,3.2 0 1,0 -6.4,0M441.7,518.2a3.2,3.2 0 1,0 6.4,0a3.2,3.2 0 1,0 -6.4,0M442.9,518.7a3.2,3.2 0 1,0 6.4,0a3.2,3.2 0 1,0 -6.4,0M444.1,519.2a3.2,3.2 0 1,0 6.4,0a3.2,3.2 0 1,0 -6.4,0M445.3,519.6a3.2,3.2 0 1,0 6.4,0a3.2,3.2 0 1,0 -6.4,0M446.4,519.9a3.2,3.2 0 1,0 6.4,0a3.2,3.2 0 1,0 -6.4,0M447.6,520.1a3.2,3.2 0 1,0 6.4,0a3.2,3.2 0 1,0 -6.4,0M448.8,520.3a3.2,3.2 0 1,0 6.4,0a3.2,3.2 0 1,0 -6.4,0M450.0,520.3a3.2,3.2 0 1,0 6.4,0a3.2,3.2 0 1,0 -6.4,0M451.2,520.4a3.2,3.2 0 1,0 6.4,0a3.2,3.2 0 1,0 -6.4,0M452.3,520.4a3.2,3.2 0 1,0 6.4,0a3.2,3.2 0 1,0 -6.4,0M453.5,520.4a3.2,3.2 0 1,0 6.4,0a3.2,3.2 0 1,0 -6.4,0M454.7,520.5a3.2,3.2 0 1,0 6.4,0a3.2,3.2 0 1,0 -6.4,0M455.9,520.5a3.2,3.2 0 1,0 6.4,0a3.2,3.2 0 1,0 -6.4,0M457.1,520.6a3.2,3.2 0 1,0 6.4,0a3.2,3.2 0 1,0 -6.4,0M458.2,520.8a3.2,3.2 0 1,0 6.4,0a3.2,3.2 0 1,0 -6.4,0M459.4,520.9a3.2,3.2 0 1,0 6.4,0a3.2,3.2 0 1,0 -6.4,0M460.6,521.1a3.2,3.2 0 1,0 6.4,0a3.2,3.2 0 1,0 -6.4,0M461.8,521.2a3.2,3.2 0 1,0 6.4,0a3.2,3.2 0 1,0 -6.4,0M462.9,521.4a3.2,3.2 0 1,0 6.4,0a3.2,3.2 0 1,0 -6.4,0M464.1,521.6a3.2,3.2 0 1,0 6.4,0a3.2,3.2 0 1,0 -6.4,0M465.3,521.8a3.2,3.2 0 1,0 6.4,0a3.2,3.2 0 1,0 -6.4,0M466.5,522.0a3.2,3.2 0 1,0 6.4,0a3.2,3.2 0 1,0 -6.4,0M467.7,522.1a3.2,3.2 0 1,0 6.4,0a3.2,3.2 0 1,0 -6.4,0M468.8,522.3a3.2,3.2 0 1,0 6.4,0a3.2,3.2 0 1,0 -6.4,0M470.0,522.5a3.2,3.2 0 1,0 6.4,0a3.2,3.2 0 1,0 -6.4,0M471.2,522.6a3.2,3.2 0 1,0 6.4,0a3.2,3.2 0 1,0 -6.4,0M472.4,522.8a3.2,3.2 0 1,0 6.4,0a3.2,3.2 0 1,0 -6.4,0M473.6,523.0a3.2,3.2 0 1,0 6.4,0a3.2,3.2 0 1,0 -6.4,0M474.7,523.1a3.2,3.2 0 1,0 6.4,0a3.2,3.2 0 1,0 -6.4,0M475.9,523.3a3.2,3.2 0 1,0 6.4,0a3.2,3.2 0 1,0 -6.4,0M477.1,523.4a3.2,3.2 0 1,0 6.4,0a3.2,3.2 0 1,0 -6.4,0M478.3,523.6a3.2,3.2 0 1,0 6.4,0a3.2,3.2 0 1,0 -6.4,0M479.4,523.7a3.2,3.2 0 1,0 6.4,0a3.2,3.2 0 1,0 -6.4,0M480.6,523.9a3.2,3.2 0 1,0 6.4,0a3.2,3.2 0 1,0 -6.4,0M481.8,524.0a3.2,3.2 0 1,0 6.4,0a3.2,3.2 0 1,0 -6.4,0M483.0,524.2a3.2,3.2 0 1,0 6.4,0a3.2,3.2 0 1,0 -6.4,0M484.2,524.3a3.2,3.2 0 1,0 6.4,0a3.2,3.2 0 1,0 -6.4,0M485.3,524.4a3.2,3.2 0 1,0 6.4,0a3.2,3.2 0 1,0 -6.4,0M486.5,524.6a3.2,3.2 0 1,0 6.4,0a3.2,3.2 0 1,0 -6.4,0M487.7,524.7a3.2,3.2 0 1,0 6.4,0a3.2,3.2 0 1,0 -6.4,0M488.9,524.8a3.2,3.2 0 1,0 6.4,0a3.2,3.2 0 1,0 -6.4,0M490.1,524.9a3.2,3.2 0 1,0 6.4,0a3.2,3.2 0 1,0 -6.4,0M491.2,525.0a3.2,3.2 0 1,0 6.4,0a3.2,3.2 0 1,0 -6.4,0M492.4,525.1a3.2,3.2 0 1,0 6.4,0a3.2,3.2 0 1,0 -6.4,0M493.6,525.2a3.2,3.2 0 1,0 6.4,0a3.2,3.2 0 1,0 -6.4,0M494.8,525.3a3.2,3.2 0 1,0 6.4,0a3.2,3.2 0 1,0 -6.4,0M495.9,525.4a3.2,3.2 0 1,0 6.4,0a3.2,3.2 0 1,0 -6.4,0M497.1,525.5a3.2,3.2 0 1,0 6.4,0a3.2,3.2 0 1,0 -6.4,0M498.3,525.6a3.2,3.2 0 1,0 6.4,0a3.2,3.2 0 1,0 -6.4,0M499.5,525.7a3.2,3.2 0 1,0 6.4,0a3.2,3.2 0 1,0 -6.4,0M500.7,525.8a3.2,3.2 0 1,0 6.4,0a3.2,3.2 0 1,0 -6.4,0M501.8,525.9a3.2,3.2 0 1,0 6.4,0a3.2,3.2 0 1,0 -6.4,0M503.0,526.0a3.2,3.2 0 1,0 6.4,0a3.2,3.2 0 1,0 -6.4,0M504.2,526.1a3.2,3.2 0 1,0 6.4,0a3.2,3.2 0 1,0 -6.4,0M505.4,526.1a3.2,3.2 0 1,0 6.4,0a3.2,3.2 0 1,0 -6.4,0M506.6,526.2a3.2,3.2 0 1,0 6.4,0a3.2,3.2 0 1,0 -6.4,0M507.7,526.3a3.2,3.2 0 1,0 6.4,0a3.2,3.2 0 1,0 -6.4,0M508.9,526.4a3.2,3.2 0 1,0 6.4,0a3.2,3.2 0 1,0 -6.4,0M510.1,526.5a3.2,3.2 0 1,0 6.4,0a3.2,3.2 0 1,0 -6.4,0M511.3,526.5a3.2,3.2 0 1,0 6.4,0a3.2,3.2 0 1,0 -6.4,0M512.4,526.6a3.2,3.2 0 1,0 6.4,0a3.2,3.2 0 1,0 -6.4,0M513.6,526.6a3.2,3.2 0 1,0 6.4,0a3.2,3.2 0 1,0 -6.4,0M514.8,526.6a3.2,3.2 0 1,0 6.4,0a3.2,3.2 0 1,0 -6.4,0" stroke="#f01818" stroke-width="0.75" fill="none"/>
<path d="M349,366V390" stroke="#222" stroke-width="0.6" stroke-dasharray="1.6,1" fill="none"/>
<path d="M379.6,479V503.4" stroke="#222" stroke-width="0.6" stroke-dasharray="1.6,1" fill="none"/>
<text x="267.1" y="373.6" font-size="14.2" fill="#000" text-anchor="start" >(f)</text>
<text x="290" y="381" font-size="15.5" fill="#000" text-anchor="start" >Zn</text>
<text x="319" y="377" font-size="10" fill="#000" text-anchor="start" >Zn-O</text>
<text x="368" y="475.4" font-size="10" fill="#000" text-anchor="start" >Zn-Fe</text>
<text x="402.6" y="559.6" font-size="8.9" fill="#000" text-anchor="middle" >Radial distance (Å)</text>
<text transform="translate(277.9,449.4) rotate(-90)" font-size="9.1" text-anchor="middle">|χ(R)| (Å<tspan dy="-2.5" font-size="5.5">-3</tspan><tspan dy="2.5">)</tspan></text>
</g>
<defs>
<radialGradient id="gFe" cx="0.42" cy="0.40" r="0.62"><stop offset="0" stop-color="#e0b85a"/><stop offset="0.45" stop-color="#b88a2c"/><stop offset="0.85" stop-color="#8a6418"/><stop offset="1" stop-color="#5e430e"/></radialGradient>
<radialGradient id="gZn" cx="0.42" cy="0.40" r="0.62"><stop offset="0" stop-color="#5db0f5"/><stop offset="0.45" stop-color="#2b82dc"/><stop offset="0.85" stop-color="#1c5cb0"/><stop offset="1" stop-color="#123c7c"/></radialGradient>
<radialGradient id="gO" cx="0.42" cy="0.40" r="0.62"><stop offset="0" stop-color="#ff6a6a"/><stop offset="0.45" stop-color="#e32222"/><stop offset="0.85" stop-color="#b01212"/><stop offset="1" stop-color="#700808"/></radialGradient>
<clipPath id="cE"><rect x="137.4" y="408.4" width="123.2" height="86.8"/></clipPath>
<clipPath id="cF"><rect x="393.6" y="402.4" width="124" height="86"/></clipPath>
<marker id="ah" viewBox="0 0 10 10" refX="9" refY="5" markerUnits="userSpaceOnUse" markerWidth="5.2" markerHeight="5.2" orient="auto-start-reverse"><path d="M0,0.8L10,5L0,9.2L3,5z" fill="#000"/></marker>
</defs>
<rect x="137.4" y="408.4" width="123.2" height="86.8" fill="#fff"/>
<g clip-path="url(#cE)">
<path d="M146.6,417.1L142.1,431.3" stroke="#e02424" stroke-width="4.0" fill="none"/>
<path d="M142.1,431.3L135.9,450.8" stroke="#7fa8cf" stroke-width="4.0" fill="none"/>
<path d="M144.7,485.7L141.0,474.6" stroke="#e02424" stroke-width="4.0" fill="none"/>
<path d="M141.0,474.6L135.9,459.2" stroke="#7fa8cf" stroke-width="4.0" fill="none"/>
<path d="M144.7,485.7L145.1,493.9" stroke="#e02424" stroke-width="3.6" fill="none"/>
<path d="M145.1,493.9L145.5,502.2" stroke="#e02424" stroke-width="3.6" fill="none"/>
<path d="M146.6,417.1L158.5,432.6" stroke="#e02424" stroke-width="4.2" fill="none"/>
<path d="M158.5,432.6L170.5,448.0" stroke="#b98a2e" stroke-width="4.2" fill="none"/>
<path d="M144.7,485.7L157.6,466.8" stroke="#e02424" stroke-width="4.2" fill="none"/>
<path d="M157.6,466.8L170.5,448.0" stroke="#b98a2e" stroke-width="4.2" fill="none"/>
<path d="M170.5,448.0L191.3,449.0" stroke="#b98a2e" stroke-width="4.2" fill="none"/>
<path d="M191.3,449.0L208.2,449.8" stroke="#e02424" stroke-width="4.2" fill="none"/>
<path d="M208.2,449.8L224.7,445.5" stroke="#e02424" stroke-width="4.2" fill="none"/>
<path d="M224.7,445.5L244.9,440.1" stroke="#2b86e0" stroke-width="4.2" fill="none"/>
<path d="M244.9,440.1L255.3,424.4" stroke="#2b86e0" stroke-width="4.2" fill="none"/>
<path d="M255.3,424.4L265.8,408.7" stroke="#2b86e0" stroke-width="4.2" fill="none"/>
<path d="M244.9,440.1L257.4,448.0" stroke="#2b86e0" stroke-width="3.0" fill="none"/>
<path d="M257.4,448.0L265.8,453.2" stroke="#b81c1c" stroke-width="3.0" fill="none"/>
<path d="M263.9,474.1Q259.8,483.5 255.5,498.4" stroke="#2f4fd6" stroke-width="4.6" fill="none"/>
<circle cx="146.58445440956652" cy="417.14499252615843" r="7.5" fill="url(#gO)"/>
<circle cx="144.71599402092676" cy="485.7174887892377" r="7.2" fill="url(#gO)"/>
<circle cx="170.50074738415546" cy="447.9745889387145" r="13.4" fill="url(#gFe)"/>
<circle cx="208.24364723467863" cy="449.84304932735427" r="7.5" fill="url(#gO)"/>
<circle cx="244.86547085201795" cy="440.1270553064275" r="14.6" fill="url(#gZn)"/>
</g>
<rect x="137.4" y="408.4" width="123.2" height="86.8" fill="none" stroke="#222" stroke-width="0.8"/>
<text x="170.5" y="452.6" font-size="14.5" font-weight="bold" text-anchor="middle">Fe</text>
<text x="245.2" y="444.8" font-size="14.5" font-weight="bold" text-anchor="middle">Zn</text>
<text x="147.7" y="419.2" font-size="7.4" font-weight="bold" text-anchor="middle">O<tspan dy="1.6" font-size="4.6">FM</tspan></text>
<text x="145.5" y="487.4" font-size="7.4" font-weight="bold" text-anchor="middle">O<tspan dy="1.6" font-size="4.6">FM</tspan></text>
<text x="209.0" y="451.9" font-size="7.4" font-weight="bold" text-anchor="middle">O<tspan dy="1.6" font-size="4.6">BG</tspan></text>
<path d="M158.4,420.9L168.6,433.0" stroke="#000" stroke-width="0.6" marker-start="url(#ah)" marker-end="url(#ah)" fill="none"/>
<text transform="translate(168.3,423.7) rotate(50)" font-size="6.2" text-anchor="middle" font-weight="bold">2.09 Å</text>
<path d="M147.7,472.3L157.0,456.4" stroke="#000" stroke-width="0.6" marker-start="url(#ah)" marker-end="url(#ah)" fill="none"/>
<text transform="translate(148.8,462.5) rotate(-60)" font-size="6.2" text-anchor="middle" font-weight="bold">2.09 Å</text>
<path d="M186.4,439.6L227.9,434.9" stroke="#000" stroke-width="0.6" marker-start="url(#ah)" marker-end="url(#ah)" fill="none"/>
<text transform="translate(206.4,433.4) rotate(-7)" font-size="6.2" text-anchor="middle" font-weight="bold">2.71 Å</text>
<path d="M184.5,454.7L200.4,455.4" stroke="#000" stroke-width="0.6" marker-start="url(#ah)" marker-end="url(#ah)" fill="none"/>
<text transform="translate(192.5,463.3) rotate(2)" font-size="6.2" text-anchor="middle" font-weight="bold">2.00 Å</text>
<rect x="393.6" y="402.4" width="124" height="86" fill="#fff"/>
<g clip-path="url(#cF)">
<path d="M393.1,439.2Q396.1,418.6 402.8,407.6" stroke="#2f4fd6" stroke-width="4.2" fill="none"/>
<path d="M402.8,407.6L410.3,399.0" stroke="#e02424" stroke-width="4.2" fill="none"/>
<path d="M509.3,411.7L514.0,424.9" stroke="#e02424" stroke-width="4.2" fill="none"/>
<path d="M514.0,424.9L520.9,444.8" stroke="#7fa8cf" stroke-width="4.2" fill="none"/>
<path d="M507.8,479.3L513.1,465.5" stroke="#e02424" stroke-width="4.2" fill="none"/>
<path d="M513.1,465.5L520.9,444.8" stroke="#7fa8cf" stroke-width="4.2" fill="none"/>
<path d="M407.9,465.3L402.3,478.9" stroke="#b98a2e" stroke-width="4.2" fill="none"/>
<path d="M402.3,478.9L396.7,492.4" stroke="#b98a2e" stroke-width="4.2" fill="none"/>
<path d="M407.9,465.3L394.6,459.0" stroke="#b98a2e" stroke-width="3.6" fill="none"/>
<path d="M394.6,459.0L390.1,456.9" stroke="#e02424" stroke-width="3.6" fill="none"/>
<path d="M407.9,465.3L427.1,456.7" stroke="#b98a2e" stroke-width="4.2" fill="none"/>
<path d="M427.1,456.7L441.0,450.4" stroke="#e02424" stroke-width="4.2" fill="none"/>
<path d="M441.0,450.4L459.2,451.0" stroke="#e02424" stroke-width="4.2" fill="none"/>
<path d="M459.2,451.0L479.8,451.7" stroke="#2b86e0" stroke-width="4.2" fill="none"/>
<path d="M479.8,451.7L496.1,429.7" stroke="#2b86e0" stroke-width="4.2" fill="none"/>
<path d="M496.1,429.7L509.3,411.7" stroke="#e02424" stroke-width="4.2" fill="none"/>
<path d="M479.8,451.7L496.1,467.7" stroke="#2b86e0" stroke-width="4.2" fill="none"/>
<path d="M496.1,467.7L507.8,479.3" stroke="#e02424" stroke-width="4.2" fill="none"/>
<circle cx="509.339312406577" cy="411.7055306427504" r="7.5" fill="url(#gO)"/>
<circle cx="507.8445440956652" cy="479.3437967115097" r="7.6" fill="url(#gO)"/>
<circle cx="407.88191330343795" cy="465.33034379671153" r="13.1" fill="url(#gFe)"/>
<circle cx="440.9536621823617" cy="450.38266068759344" r="7.5" fill="url(#gO)"/>
<circle cx="479.81763826606874" cy="451.69058295964123" r="14.6" fill="url(#gZn)"/>
</g>
<rect x="393.6" y="402.4" width="124" height="86" fill="none" stroke="#222" stroke-width="0.8"/>
<text x="408.4" y="470.0" font-size="14.5" font-weight="bold" text-anchor="middle">Fe</text>
<text x="480.2" y="456.0" font-size="14.5" font-weight="bold" text-anchor="middle">Zn</text>
<text x="510.1" y="413.6" font-size="7.4" font-weight="bold" text-anchor="middle">O<tspan dy="1.6" font-size="4.6">FM</tspan></text>
<text x="508.6" y="481.4" font-size="7.4" font-weight="bold" text-anchor="middle">O<tspan dy="1.6" font-size="4.6">FM</tspan></text>
<text x="441.7" y="452.4" font-size="7.4" font-weight="bold" text-anchor="middle">O<tspan dy="1.6" font-size="4.6">BG</tspan></text>
<path d="M448.1,444.4L465.2,444.4" stroke="#000" stroke-width="0.6" marker-start="url(#ah)" marker-end="url(#ah)" fill="none"/>
<text transform="translate(456.5,440.5) rotate(0)" font-size="6.2" text-anchor="middle" font-weight="bold">2.09 Å</text>
<path d="M425.3,465.9L463.4,459.2" stroke="#000" stroke-width="0.6" marker-start="url(#ah)" marker-end="url(#ah)" fill="none"/>
<text transform="translate(447.1,471.5) rotate(-12)" font-size="6.2" text-anchor="middle" font-weight="bold">2.70 Å</text>
<path d="M482.2,434.5L498.5,416.8" stroke="#000" stroke-width="0.6" marker-start="url(#ah)" marker-end="url(#ah)" fill="none"/>
<text transform="translate(486.9,421.8) rotate(-48)" font-size="6.2" text-anchor="middle" font-weight="bold">2.16 Å</text>
<path d="M485.4,466.6L496.6,477.5" stroke="#000" stroke-width="0.6" marker-start="url(#ah)" marker-end="url(#ah)" fill="none"/>
<text transform="translate(486.4,479.0) rotate(45)" font-size="6.2" text-anchor="middle" font-weight="bold">2.16 Å</text>
</svg>
</div>
</body></html>
